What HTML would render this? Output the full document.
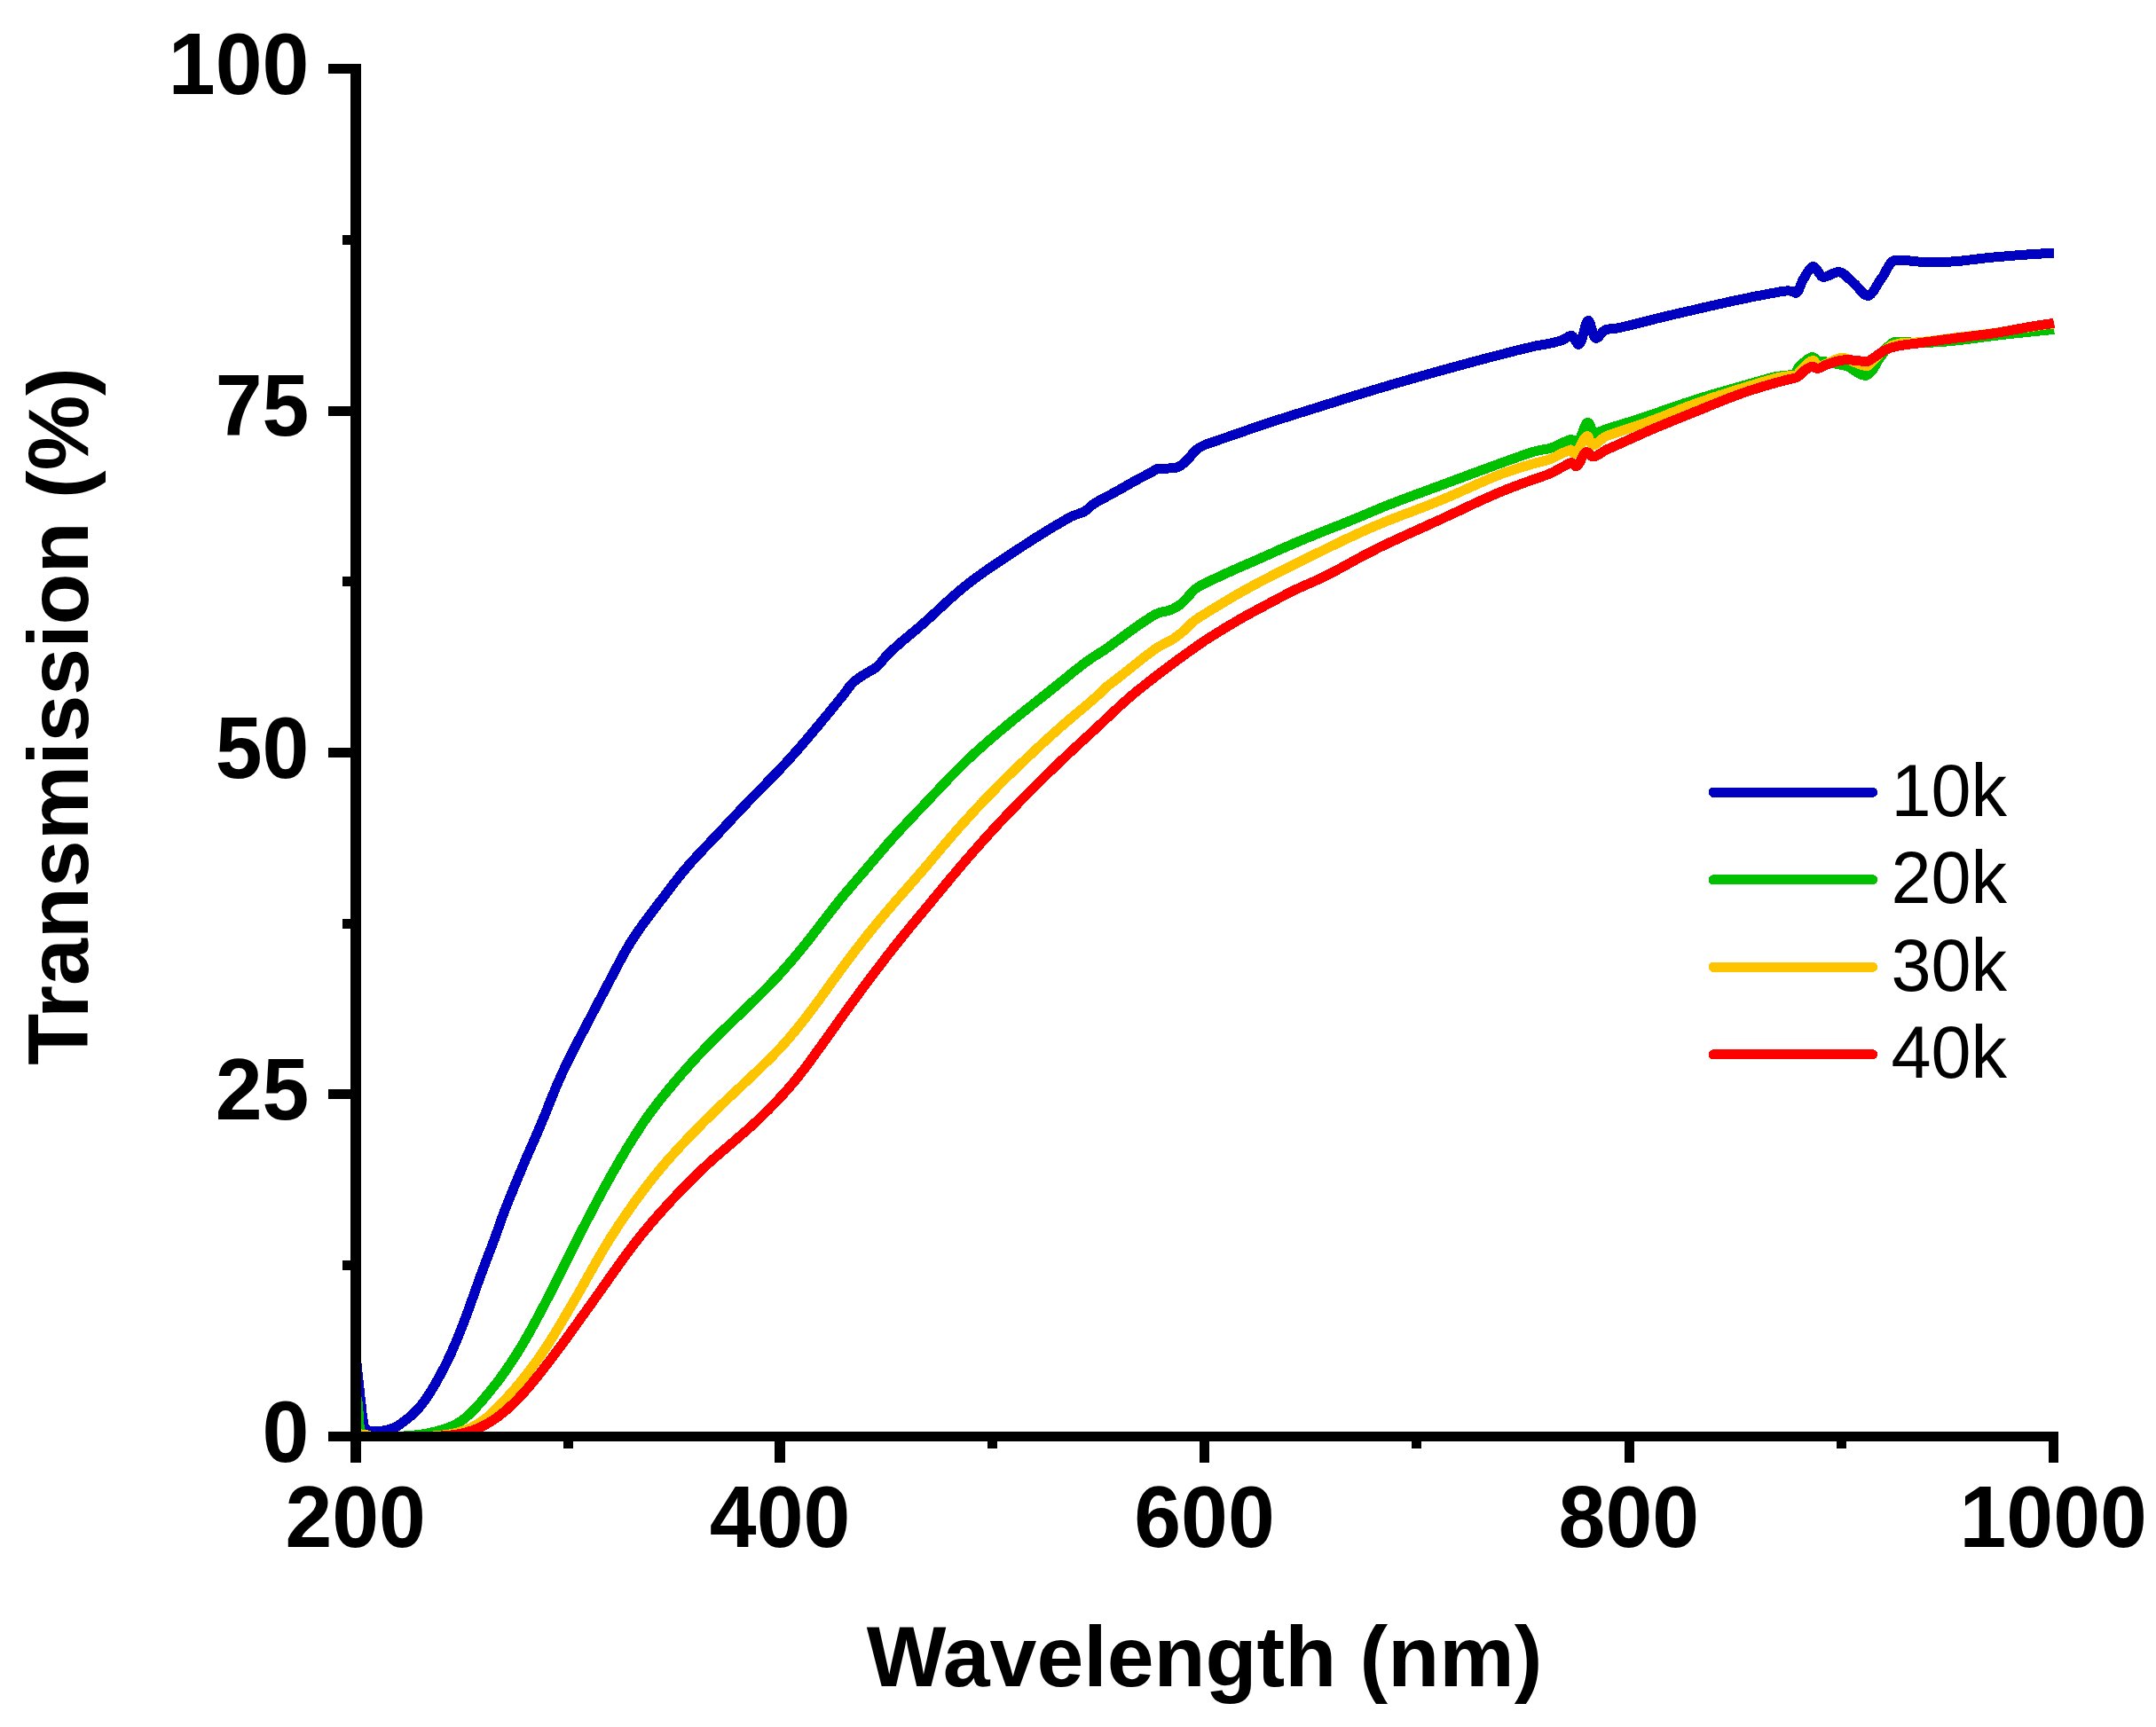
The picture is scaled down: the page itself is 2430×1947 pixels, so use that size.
<!DOCTYPE html>
<html lang="en"><head><meta charset="utf-8"><title>Transmission vs Wavelength</title>
<style>html,body{margin:0;padding:0;background:#fff}svg{display:block}</style></head>
<body>
<svg width="2430" height="1947" viewBox="0 0 2430 1947">
<rect width="2430" height="1947" fill="#fff"/>
<g fill="none" stroke-width="11" stroke-linejoin="round" stroke-linecap="butt" shape-rendering="crispEdges">
<path stroke="#0000c0" d="M400.3 1518.0 L400.5 1520.0 L400.6 1522.0 L400.8 1524.0 L401.0 1526.0 L401.2 1528.0 L401.3 1530.0 L401.5 1531.9 L401.7 1533.9 L401.9 1535.9 L402.1 1537.9 L402.3 1539.9 L402.5 1541.9 L402.7 1543.9 L402.9 1545.9 L403.1 1547.9 L403.3 1549.9 L403.5 1551.8 L403.7 1553.8 L404.0 1555.8 L404.2 1557.8 L404.4 1559.8 L404.6 1561.8 L404.8 1563.8 L405.0 1565.8 L405.3 1567.8 L405.5 1569.7 L405.7 1571.7 L405.9 1573.7 L406.1 1575.7 L406.4 1577.7 L406.6 1579.7 L406.8 1581.7 L407.0 1583.7 L407.2 1585.7 L407.4 1587.6 L407.6 1589.6 L407.9 1591.6 L408.1 1593.6 L408.3 1595.6 L408.6 1597.6 L408.9 1599.6 L409.2 1601.5 L409.5 1603.6 L409.9 1605.8 L410.4 1607.8 L411.0 1609.6 L411.9 1611.0 L413.5 1612.2 L415.6 1613.1 L417.5 1613.3 L419.5 1613.3 L421.5 1613.3 L423.5 1613.3 L425.5 1613.3 L427.6 1613.3 L429.6 1613.3 L431.5 1613.1 L433.5 1612.7 L435.5 1612.3 L437.4 1611.8 L439.4 1611.3 L441.3 1610.7 L443.2 1610.0 L445.0 1609.2 L446.8 1608.4 L448.5 1607.3 L450.2 1606.2 L451.8 1605.1 L453.4 1603.9 L455.0 1602.7 L456.6 1601.5 L458.1 1600.3 L459.7 1599.1 L461.2 1597.9 L462.7 1596.6 L464.2 1595.3 L465.7 1593.9 L467.1 1592.6 L468.5 1591.2 L469.8 1589.7 L471.2 1588.3 L472.5 1586.8 L473.8 1585.2 L475.0 1583.7 L476.2 1582.1 L477.4 1580.5 L478.6 1578.9 L479.8 1577.3 L480.9 1575.7 L482.0 1574.0 L483.1 1572.3 L484.2 1570.7 L485.3 1569.0 L486.3 1567.3 L487.4 1565.6 L488.4 1563.9 L489.4 1562.1 L490.4 1560.4 L491.4 1558.7 L492.4 1556.9 L493.4 1555.2 L494.3 1553.4 L495.3 1551.7 L496.3 1549.9 L497.2 1548.2 L498.1 1546.4 L499.1 1544.6 L500.0 1542.8 L500.9 1541.1 L501.8 1539.3 L502.7 1537.5 L503.6 1535.7 L504.5 1533.9 L505.3 1532.1 L506.2 1530.3 L507.0 1528.5 L507.9 1526.7 L508.7 1524.9 L509.5 1523.0 L510.3 1521.2 L511.1 1519.4 L511.9 1517.6 L512.7 1515.7 L513.5 1513.9 L514.3 1512.0 L515.0 1510.2 L515.8 1508.3 L516.5 1506.5 L517.3 1504.6 L518.0 1502.8 L518.8 1500.9 L519.5 1499.1 L520.2 1497.2 L521.0 1495.3 L521.7 1493.5 L522.4 1491.6 L523.1 1489.7 L523.8 1487.8 L524.5 1486.0 L525.2 1484.1 L525.9 1482.2 L526.6 1480.3 L527.3 1478.5 L528.0 1476.6 L528.7 1474.7 L529.4 1472.8 L530.0 1470.9 L530.7 1469.0 L531.4 1467.2 L532.0 1465.3 L532.7 1463.4 L533.4 1461.5 L534.0 1459.6 L534.7 1457.7 L535.4 1455.8 L536.0 1454.0 L536.7 1452.1 L537.4 1450.2 L538.1 1448.3 L538.7 1446.4 L539.4 1444.5 L540.1 1442.7 L540.8 1440.8 L541.4 1438.9 L542.1 1437.0 L542.8 1435.1 L543.5 1433.3 L544.2 1431.4 L544.9 1429.5 L545.6 1427.7 L546.3 1425.8 L547.0 1423.9 L547.7 1422.0 L548.5 1420.2 L549.2 1418.3 L549.9 1416.4 L550.6 1414.6 L551.3 1412.7 L552.0 1410.8 L552.7 1409.0 L553.5 1407.1 L554.2 1405.2 L554.9 1403.4 L555.6 1401.5 L556.3 1399.6 L557.0 1397.7 L557.7 1395.9 L558.3 1394.0 L559.0 1392.1 L559.7 1390.2 L560.4 1388.3 L561.0 1386.5 L561.7 1384.6 L562.4 1382.7 L563.0 1380.8 L563.7 1378.9 L564.4 1377.0 L565.0 1375.2 L565.7 1373.3 L566.4 1371.4 L567.1 1369.5 L567.8 1367.6 L568.5 1365.8 L569.2 1363.9 L569.9 1362.0 L570.6 1360.2 L571.4 1358.3 L572.1 1356.5 L572.9 1354.6 L573.6 1352.7 L574.3 1350.9 L575.1 1349.0 L575.8 1347.2 L576.6 1345.3 L577.4 1343.5 L578.1 1341.6 L578.9 1339.8 L579.6 1337.9 L580.4 1336.1 L581.1 1334.2 L581.9 1332.4 L582.7 1330.5 L583.4 1328.7 L584.2 1326.8 L585.0 1325.0 L585.7 1323.1 L586.5 1321.3 L587.3 1319.4 L588.0 1317.6 L588.8 1315.7 L589.6 1313.9 L590.4 1312.1 L591.2 1310.2 L592.0 1308.4 L592.8 1306.5 L593.5 1304.7 L594.3 1302.9 L595.1 1301.0 L595.9 1299.2 L596.7 1297.4 L597.5 1295.5 L598.4 1293.7 L599.2 1291.9 L600.0 1290.1 L600.8 1288.2 L601.6 1286.4 L602.4 1284.6 L603.2 1282.7 L604.0 1280.9 L604.8 1279.1 L605.6 1277.2 L606.4 1275.4 L607.2 1273.6 L607.9 1271.7 L608.7 1269.9 L609.5 1268.0 L610.3 1266.2 L611.0 1264.3 L611.8 1262.5 L612.6 1260.6 L613.3 1258.8 L614.1 1256.9 L614.8 1255.1 L615.6 1253.2 L616.3 1251.4 L617.1 1249.5 L617.8 1247.7 L618.5 1245.8 L619.3 1243.9 L620.0 1242.1 L620.7 1240.2 L621.5 1238.4 L622.2 1236.5 L623.0 1234.6 L623.7 1232.8 L624.5 1230.9 L625.2 1229.1 L626.0 1227.2 L626.8 1225.4 L627.6 1223.6 L628.3 1221.7 L629.1 1219.9 L629.9 1218.1 L630.8 1216.2 L631.6 1214.4 L632.4 1212.6 L633.2 1210.8 L634.1 1209.0 L634.9 1207.2 L635.8 1205.3 L636.6 1203.5 L637.5 1201.7 L638.4 1199.9 L639.2 1198.1 L640.1 1196.3 L641.0 1194.6 L641.9 1192.8 L642.8 1191.0 L643.7 1189.2 L644.6 1187.4 L645.5 1185.6 L646.4 1183.8 L647.3 1182.0 L648.2 1180.2 L649.1 1178.5 L650.0 1176.7 L650.9 1174.9 L651.8 1173.1 L652.7 1171.3 L653.7 1169.6 L654.6 1167.8 L655.5 1166.0 L656.4 1164.2 L657.4 1162.5 L658.3 1160.7 L659.2 1158.9 L660.1 1157.2 L661.1 1155.4 L662.0 1153.6 L662.9 1151.8 L663.9 1150.1 L664.8 1148.3 L665.7 1146.5 L666.6 1144.8 L667.6 1143.0 L668.5 1141.2 L669.4 1139.4 L670.4 1137.7 L671.3 1135.9 L672.2 1134.1 L673.2 1132.4 L674.1 1130.6 L675.0 1128.8 L675.9 1127.0 L676.9 1125.3 L677.8 1123.5 L678.7 1121.7 L679.7 1120.0 L680.6 1118.2 L681.5 1116.4 L682.4 1114.6 L683.4 1112.9 L684.3 1111.1 L685.2 1109.3 L686.2 1107.6 L687.1 1105.8 L688.0 1104.0 L688.9 1102.2 L689.9 1100.5 L690.8 1098.7 L691.7 1096.9 L692.7 1095.2 L693.6 1093.4 L694.5 1091.6 L695.5 1089.8 L696.4 1088.1 L697.3 1086.3 L698.3 1084.5 L699.2 1082.8 L700.2 1081.0 L701.1 1079.2 L702.1 1077.5 L703.0 1075.7 L704.0 1074.0 L705.0 1072.2 L706.0 1070.5 L707.0 1068.8 L708.0 1067.1 L709.0 1065.4 L710.0 1063.7 L711.1 1062.0 L712.1 1060.3 L713.2 1058.6 L714.3 1056.9 L715.4 1055.3 L716.5 1053.6 L717.6 1051.9 L718.8 1050.3 L719.9 1048.7 L721.1 1047.0 L722.2 1045.4 L723.4 1043.8 L724.6 1042.2 L725.8 1040.6 L727.0 1039.0 L728.1 1037.4 L729.4 1035.8 L730.6 1034.2 L731.8 1032.6 L733.0 1031.0 L734.2 1029.4 L735.4 1027.8 L736.6 1026.2 L737.8 1024.6 L739.0 1023.0 L740.2 1021.4 L741.4 1019.8 L742.6 1018.2 L743.8 1016.6 L745.0 1015.0 L746.3 1013.4 L747.5 1011.8 L748.7 1010.2 L749.9 1008.6 L751.1 1007.0 L752.3 1005.4 L753.5 1003.8 L754.7 1002.2 L755.9 1000.6 L757.1 999.0 L758.3 997.4 L759.5 995.8 L760.8 994.2 L762.0 992.7 L763.2 991.1 L764.5 989.5 L765.7 988.0 L767.0 986.4 L768.2 984.9 L769.5 983.3 L770.8 981.8 L772.1 980.3 L773.4 978.8 L774.7 977.2 L776.0 975.7 L777.3 974.2 L778.6 972.7 L779.9 971.2 L781.3 969.8 L782.6 968.3 L784.0 966.8 L785.3 965.3 L786.7 963.9 L788.0 962.4 L789.4 960.9 L790.8 959.5 L792.2 958.0 L793.5 956.6 L794.9 955.1 L796.3 953.7 L797.7 952.2 L799.1 950.8 L800.4 949.3 L801.8 947.9 L803.2 946.4 L804.6 945.0 L806.0 943.5 L807.3 942.1 L808.7 940.6 L810.1 939.2 L811.5 937.7 L812.8 936.3 L814.2 934.8 L815.6 933.3 L816.9 931.9 L818.3 930.4 L819.7 929.0 L821.0 927.5 L822.4 926.1 L823.8 924.6 L825.1 923.1 L826.5 921.7 L827.9 920.2 L829.3 918.8 L830.6 917.3 L832.0 915.8 L833.4 914.4 L834.7 912.9 L836.1 911.5 L837.5 910.0 L838.9 908.6 L840.3 907.1 L841.6 905.7 L843.0 904.2 L844.4 902.8 L845.8 901.4 L847.2 899.9 L848.6 898.5 L850.0 897.1 L851.4 895.6 L852.8 894.2 L854.2 892.8 L855.6 891.3 L857.0 889.9 L858.4 888.5 L859.8 887.0 L861.2 885.6 L862.6 884.2 L864.0 882.8 L865.4 881.3 L866.8 879.9 L868.2 878.5 L869.6 877.1 L871.0 875.6 L872.4 874.2 L873.8 872.8 L875.1 871.3 L876.5 869.9 L877.9 868.4 L879.3 867.0 L880.7 865.5 L882.0 864.1 L883.4 862.6 L884.8 861.2 L886.1 859.7 L887.5 858.2 L888.8 856.7 L890.2 855.3 L891.5 853.8 L892.8 852.3 L894.2 850.8 L895.5 849.3 L896.8 847.8 L898.1 846.3 L899.5 844.8 L900.8 843.3 L902.1 841.8 L903.4 840.3 L904.7 838.7 L906.0 837.2 L907.3 835.7 L908.6 834.2 L909.9 832.7 L911.2 831.1 L912.5 829.6 L913.8 828.1 L915.1 826.6 L916.4 825.0 L917.6 823.5 L918.9 822.0 L920.2 820.4 L921.5 818.9 L922.8 817.4 L924.1 815.8 L925.3 814.3 L926.6 812.8 L927.9 811.2 L929.2 809.7 L930.4 808.1 L931.7 806.6 L933.0 805.0 L934.2 803.5 L935.5 801.9 L936.8 800.4 L938.0 798.8 L939.3 797.3 L940.6 795.7 L941.8 794.2 L943.1 792.6 L944.4 791.1 L945.6 789.5 L946.9 788.0 L948.1 786.4 L949.4 784.9 L950.6 783.3 L951.8 781.7 L953.1 780.1 L954.3 778.5 L955.4 776.9 L956.6 775.2 L957.8 773.6 L959.1 772.1 L960.4 770.6 L961.8 769.3 L963.3 768.0 L964.9 766.7 L966.5 765.5 L968.2 764.3 L969.8 763.2 L971.4 762.1 L973.1 761.0 L974.9 760.0 L976.6 758.9 L978.3 757.9 L980.0 756.9 L981.8 755.9 L983.5 754.9 L985.3 753.9 L986.9 752.8 L988.5 751.6 L989.9 750.3 L991.3 748.8 L992.6 747.3 L993.8 745.7 L995.1 744.1 L996.4 742.5 L997.7 741.0 L999.1 739.6 L1000.4 738.1 L1001.8 736.7 L1003.2 735.3 L1004.7 733.9 L1006.1 732.5 L1007.6 731.2 L1009.1 729.8 L1010.6 728.5 L1012.1 727.2 L1013.6 725.9 L1015.1 724.5 L1016.6 723.2 L1018.1 721.9 L1019.6 720.6 L1021.2 719.4 L1022.7 718.1 L1024.2 716.8 L1025.8 715.5 L1027.3 714.2 L1028.8 713.0 L1030.4 711.7 L1031.9 710.4 L1033.4 709.1 L1035.0 707.8 L1036.5 706.5 L1038.0 705.2 L1039.5 703.9 L1041.0 702.6 L1042.5 701.2 L1044.0 699.9 L1045.5 698.6 L1047.0 697.2 L1048.5 695.9 L1049.9 694.6 L1051.4 693.2 L1052.9 691.8 L1054.4 690.5 L1055.8 689.1 L1057.3 687.8 L1058.8 686.4 L1060.2 685.0 L1061.7 683.7 L1063.2 682.3 L1064.7 681.0 L1066.1 679.6 L1067.6 678.2 L1069.1 676.9 L1070.6 675.6 L1072.0 674.2 L1073.5 672.9 L1075.0 671.6 L1076.5 670.2 L1078.0 668.9 L1079.5 667.6 L1081.1 666.3 L1082.6 665.0 L1084.1 663.8 L1085.6 662.5 L1087.2 661.2 L1088.7 660.0 L1090.3 658.8 L1091.9 657.5 L1093.4 656.3 L1095.0 655.1 L1096.6 653.9 L1098.2 652.7 L1099.8 651.5 L1101.4 650.3 L1103.0 649.1 L1104.7 648.0 L1106.3 646.8 L1107.9 645.7 L1109.5 644.5 L1111.2 643.4 L1112.8 642.2 L1114.5 641.1 L1116.1 639.9 L1117.8 638.8 L1119.4 637.7 L1121.1 636.6 L1122.8 635.4 L1124.4 634.3 L1126.1 633.2 L1127.8 632.1 L1129.4 631.0 L1131.1 629.9 L1132.8 628.8 L1134.4 627.7 L1136.1 626.6 L1137.8 625.5 L1139.4 624.4 L1141.1 623.3 L1142.8 622.2 L1144.5 621.1 L1146.1 620.0 L1147.8 618.9 L1149.5 617.8 L1151.2 616.7 L1152.8 615.6 L1154.5 614.5 L1156.2 613.4 L1157.9 612.3 L1159.6 611.2 L1161.2 610.1 L1162.9 609.1 L1164.6 608.0 L1166.3 606.9 L1168.0 605.8 L1169.7 604.8 L1171.4 603.7 L1173.1 602.6 L1174.8 601.6 L1176.5 600.5 L1178.2 599.5 L1179.9 598.4 L1181.6 597.4 L1183.3 596.4 L1185.0 595.3 L1186.7 594.3 L1188.4 593.3 L1190.2 592.3 L1191.9 591.3 L1193.6 590.3 L1195.4 589.3 L1197.1 588.3 L1198.8 587.3 L1200.5 586.2 L1202.3 585.2 L1204.0 584.2 L1205.7 583.2 L1207.5 582.3 L1209.3 581.5 L1211.2 580.8 L1213.1 580.1 L1215.0 579.5 L1217.0 578.8 L1218.9 578.1 L1220.7 577.4 L1222.4 576.5 L1224.1 575.5 L1225.6 574.2 L1227.1 572.9 L1228.6 571.5 L1230.1 570.1 L1231.6 568.8 L1233.3 567.7 L1235.0 566.7 L1236.7 565.7 L1238.4 564.7 L1240.2 563.7 L1242.0 562.8 L1243.7 561.8 L1245.5 560.9 L1247.3 559.9 L1249.0 559.0 L1250.8 558.1 L1252.6 557.1 L1254.3 556.2 L1256.1 555.2 L1257.8 554.2 L1259.6 553.3 L1261.3 552.3 L1263.1 551.3 L1264.8 550.3 L1266.5 549.4 L1268.3 548.4 L1270.0 547.4 L1271.8 546.4 L1273.5 545.4 L1275.2 544.4 L1277.0 543.4 L1278.7 542.5 L1280.5 541.5 L1282.2 540.5 L1284.0 539.6 L1285.7 538.7 L1287.5 537.7 L1289.3 536.8 L1291.0 535.9 L1292.8 535.0 L1294.6 534.1 L1296.3 533.2 L1298.1 532.2 L1299.9 531.1 L1301.6 529.9 L1303.4 528.9 L1305.2 528.3 L1307.1 528.1 L1309.1 528.0 L1311.1 528.0 L1313.1 528.0 L1315.1 528.0 L1317.1 528.0 L1319.2 527.9 L1321.2 527.8 L1323.2 527.6 L1325.2 527.2 L1327.1 526.7 L1328.8 526.0 L1330.5 525.1 L1332.2 523.9 L1333.8 522.6 L1335.3 521.2 L1336.8 519.7 L1338.3 518.3 L1339.7 516.9 L1341.0 515.4 L1342.2 513.8 L1343.5 512.2 L1344.8 510.6 L1346.1 509.1 L1347.5 507.8 L1349.0 506.6 L1350.7 505.4 L1352.4 504.3 L1354.2 503.4 L1356.0 502.5 L1357.8 501.6 L1359.6 500.9 L1361.5 500.2 L1363.4 499.6 L1365.3 498.9 L1367.2 498.3 L1369.1 497.6 L1371.0 497.0 L1372.8 496.3 L1374.7 495.6 L1376.6 495.0 L1378.5 494.3 L1380.4 493.7 L1382.3 493.1 L1384.2 492.4 L1386.0 491.8 L1387.9 491.1 L1389.8 490.5 L1391.7 489.9 L1393.6 489.2 L1395.5 488.5 L1397.4 487.9 L1399.3 487.2 L1401.2 486.6 L1403.0 485.9 L1404.9 485.2 L1406.8 484.6 L1408.7 483.9 L1410.6 483.2 L1412.5 482.6 L1414.4 481.9 L1416.2 481.3 L1418.1 480.6 L1420.0 480.0 L1421.9 479.4 L1423.8 478.7 L1425.7 478.1 L1427.6 477.5 L1429.5 476.8 L1431.4 476.2 L1433.3 475.6 L1435.2 475.0 L1437.1 474.4 L1439.0 473.8 L1440.9 473.1 L1442.8 472.5 L1444.7 471.9 L1446.7 471.3 L1448.6 470.7 L1450.5 470.1 L1452.4 469.5 L1454.3 468.9 L1456.2 468.3 L1458.1 467.7 L1460.0 467.1 L1461.9 466.5 L1463.8 465.9 L1465.7 465.3 L1467.6 464.7 L1469.6 464.1 L1471.5 463.5 L1473.4 462.9 L1475.3 462.3 L1477.2 461.7 L1479.1 461.1 L1481.0 460.5 L1482.9 459.9 L1484.8 459.3 L1486.7 458.7 L1488.6 458.1 L1490.5 457.5 L1492.4 456.9 L1494.4 456.3 L1496.3 455.7 L1498.2 455.1 L1500.1 454.5 L1502.0 453.9 L1503.9 453.3 L1505.8 452.7 L1507.7 452.1 L1509.6 451.5 L1511.5 450.9 L1513.4 450.3 L1515.3 449.7 L1517.3 449.1 L1519.2 448.5 L1521.1 447.9 L1523.0 447.3 L1524.9 446.7 L1526.8 446.1 L1528.7 445.6 L1530.6 445.0 L1532.5 444.4 L1534.5 443.8 L1536.4 443.2 L1538.3 442.6 L1540.2 442.1 L1542.1 441.5 L1544.0 440.9 L1545.9 440.3 L1547.9 439.8 L1549.8 439.2 L1551.7 438.6 L1553.6 438.0 L1555.5 437.5 L1557.4 436.9 L1559.4 436.3 L1561.3 435.8 L1563.2 435.2 L1565.1 434.6 L1567.0 434.1 L1569.0 433.5 L1570.9 432.9 L1572.8 432.4 L1574.7 431.8 L1576.6 431.3 L1578.6 430.7 L1580.5 430.2 L1582.4 429.6 L1584.3 429.0 L1586.2 428.5 L1588.2 427.9 L1590.1 427.4 L1592.0 426.8 L1593.9 426.3 L1595.9 425.7 L1597.8 425.2 L1599.7 424.6 L1601.6 424.1 L1603.5 423.5 L1605.5 423.0 L1607.4 422.4 L1609.3 421.9 L1611.2 421.4 L1613.2 420.8 L1615.1 420.3 L1617.0 419.7 L1619.0 419.2 L1620.9 418.7 L1622.8 418.1 L1624.7 417.6 L1626.7 417.1 L1628.6 416.5 L1630.5 416.0 L1632.4 415.5 L1634.4 414.9 L1636.3 414.4 L1638.2 413.9 L1640.2 413.4 L1642.1 412.8 L1644.0 412.3 L1645.9 411.8 L1647.9 411.3 L1649.8 410.7 L1651.7 410.2 L1653.7 409.7 L1655.6 409.2 L1657.5 408.6 L1659.5 408.1 L1661.4 407.6 L1663.3 407.1 L1665.3 406.6 L1667.2 406.1 L1669.1 405.6 L1671.1 405.0 L1673.0 404.5 L1674.9 404.0 L1676.9 403.5 L1678.8 403.0 L1680.7 402.5 L1682.7 402.0 L1684.6 401.5 L1686.5 401.0 L1688.5 400.5 L1690.4 400.0 L1692.3 399.5 L1694.3 399.0 L1696.2 398.5 L1698.2 398.0 L1700.1 397.5 L1702.0 397.0 L1704.0 396.5 L1705.9 396.0 L1707.9 395.5 L1709.8 395.0 L1711.7 394.6 L1713.7 394.1 L1715.6 393.6 L1717.6 393.1 L1719.5 392.7 L1721.4 392.2 L1723.4 391.7 L1725.3 391.2 L1727.3 390.8 L1729.2 390.3 L1731.2 389.9 L1733.1 389.5 L1735.1 389.2 L1737.1 388.9 L1739.1 388.6 L1741.1 388.3 L1743.0 388.0 L1745.0 387.6 L1747.0 387.2 L1748.9 386.8 L1750.9 386.3 L1752.8 385.8 L1754.7 385.3 L1756.7 384.7 L1758.6 384.1 L1760.4 383.5 L1762.3 382.6 L1764.2 381.5 L1766.1 380.4 L1767.9 379.3 L1769.6 378.6 L1771.2 378.4 L1772.6 379.3 L1774.0 381.1 L1775.3 383.3 L1776.6 385.6 L1777.7 387.4 L1778.8 388.3 L1779.8 388.1 L1780.7 387.2 L1781.5 385.7 L1782.3 383.8 L1783.1 381.5 L1783.8 378.9 L1784.6 376.2 L1785.3 373.4 L1786.0 370.7 L1786.7 368.1 L1787.3 365.9 L1788.0 363.9 L1788.8 362.5 L1789.5 361.6 L1790.3 361.4 L1791.1 362.1 L1791.8 363.6 L1792.5 365.6 L1793.2 368.1 L1794.0 370.8 L1794.7 373.5 L1795.5 376.1 L1796.4 378.4 L1797.3 380.1 L1798.2 381.2 L1799.3 381.5 L1800.5 380.9 L1801.8 379.6 L1803.3 377.9 L1804.8 376.1 L1806.4 374.2 L1808.1 372.7 L1809.9 371.7 L1811.7 371.3 L1813.6 371.0 L1815.6 370.9 L1817.6 370.7 L1819.6 370.5 L1821.6 370.2 L1823.6 369.8 L1825.5 369.4 L1827.5 369.0 L1829.4 368.5 L1831.3 368.1 L1833.2 367.6 L1835.2 367.2 L1837.1 366.7 L1839.1 366.3 L1841.0 365.8 L1843.0 365.3 L1844.9 364.8 L1846.8 364.3 L1848.8 363.8 L1850.7 363.3 L1852.7 362.8 L1854.6 362.4 L1856.5 361.9 L1858.5 361.4 L1860.4 360.9 L1862.4 360.4 L1864.3 359.9 L1866.2 359.4 L1868.2 358.9 L1870.1 358.4 L1872.1 358.0 L1874.0 357.5 L1876.0 357.0 L1877.9 356.6 L1879.8 356.1 L1881.8 355.6 L1883.7 355.2 L1885.7 354.7 L1887.6 354.3 L1889.6 353.8 L1891.5 353.4 L1893.5 352.9 L1895.4 352.5 L1897.4 352.0 L1899.3 351.6 L1901.3 351.1 L1903.2 350.7 L1905.2 350.2 L1907.1 349.8 L1909.1 349.3 L1911.0 348.9 L1913.0 348.4 L1914.9 348.0 L1916.9 347.5 L1918.8 347.1 L1920.8 346.6 L1922.7 346.2 L1924.7 345.7 L1926.6 345.3 L1928.6 344.8 L1930.5 344.4 L1932.5 344.0 L1934.4 343.5 L1936.4 343.1 L1938.3 342.6 L1940.3 342.2 L1942.2 341.8 L1944.2 341.3 L1946.1 340.9 L1948.1 340.5 L1950.0 340.0 L1952.0 339.6 L1953.9 339.2 L1955.9 338.8 L1957.9 338.3 L1959.8 337.9 L1961.8 337.5 L1963.7 337.1 L1965.7 336.7 L1967.6 336.3 L1969.6 335.9 L1971.6 335.5 L1973.5 335.1 L1975.5 334.7 L1977.4 334.3 L1979.4 333.9 L1981.4 333.5 L1983.3 333.2 L1985.3 332.8 L1987.3 332.4 L1989.2 332.0 L1991.2 331.7 L1993.1 331.3 L1995.1 330.9 L1997.1 330.6 L1999.0 330.2 L2001.0 329.9 L2003.0 329.5 L2005.0 329.1 L2006.9 328.7 L2008.9 328.4 L2010.9 328.1 L2012.9 328.0 L2014.9 327.9 L2016.9 328.0 L2018.9 328.2 L2020.8 328.6 L2022.6 329.9 L2024.1 330.4 L2025.3 329.8 L2026.4 328.6 L2027.3 326.9 L2028.2 324.9 L2029.1 322.7 L2029.9 320.3 L2030.8 318.1 L2031.8 316.0 L2032.8 314.2 L2034.0 312.4 L2035.2 310.4 L2036.4 308.3 L2037.6 306.3 L2038.9 304.4 L2040.2 302.8 L2041.5 301.5 L2042.8 300.8 L2044.2 300.6 L2045.5 301.4 L2046.8 302.8 L2048.1 304.7 L2049.5 306.8 L2050.9 308.9 L2052.3 310.7 L2053.8 312.0 L2055.4 312.4 L2057.0 312.2 L2058.9 311.6 L2060.8 310.8 L2062.7 309.9 L2064.7 308.9 L2066.7 308.0 L2068.7 307.3 L2070.6 306.8 L2072.4 306.7 L2074.1 307.0 L2075.8 307.6 L2077.5 308.6 L2079.1 309.8 L2080.7 311.1 L2082.3 312.6 L2083.9 314.2 L2085.5 315.7 L2087.1 317.2 L2088.6 318.6 L2090.2 319.9 L2091.7 321.4 L2093.2 323.1 L2094.8 324.9 L2096.3 326.7 L2097.8 328.4 L2099.3 330.0 L2100.7 331.3 L2102.2 332.4 L2103.6 333.1 L2104.9 333.4 L2106.3 333.2 L2107.6 332.5 L2108.9 331.4 L2110.1 330.0 L2111.4 328.4 L2112.6 326.5 L2113.8 324.5 L2115.1 322.5 L2116.3 320.4 L2117.5 318.4 L2118.7 316.5 L2119.9 314.7 L2121.2 313.1 L2122.3 311.3 L2123.5 309.3 L2124.6 307.2 L2125.7 305.1 L2126.9 303.0 L2128.0 301.0 L2129.2 299.2 L2130.4 297.4 L2131.6 296.0 L2132.9 294.8 L2134.3 293.9 L2135.8 293.5 L2137.4 293.4 L2139.2 293.4 L2141.2 293.5 L2143.3 293.5 L2145.4 293.6 L2147.5 293.7 L2149.5 293.8 L2151.5 293.9 L2153.5 294.2 L2155.5 294.4 L2157.5 294.7 L2159.5 294.9 L2161.5 295.0 L2163.5 295.1 L2165.5 295.2 L2167.5 295.3 L2169.5 295.3 L2171.5 295.4 L2173.5 295.4 L2175.5 295.4 L2177.5 295.5 L2179.4 295.5 L2181.4 295.5 L2183.4 295.5 L2185.4 295.5 L2187.4 295.5 L2189.4 295.4 L2191.4 295.4 L2193.4 295.3 L2195.4 295.2 L2197.4 295.1 L2199.4 295.0 L2201.4 294.9 L2203.4 294.7 L2205.4 294.6 L2207.4 294.4 L2209.4 294.2 L2211.4 294.0 L2213.3 293.8 L2215.3 293.6 L2217.3 293.4 L2219.3 293.1 L2221.3 292.9 L2223.3 292.7 L2225.3 292.4 L2227.2 292.2 L2229.2 291.9 L2231.2 291.7 L2233.2 291.5 L2235.2 291.2 L2237.2 291.0 L2239.2 290.8 L2241.1 290.6 L2243.1 290.4 L2245.1 290.2 L2247.1 290.0 L2249.1 289.8 L2251.1 289.6 L2253.1 289.5 L2255.1 289.3 L2257.1 289.1 L2259.1 289.0 L2261.1 288.8 L2263.1 288.6 L2265.0 288.5 L2267.0 288.3 L2269.0 288.1 L2271.0 288.0 L2273.0 287.8 L2275.0 287.7 L2277.0 287.5 L2279.0 287.4 L2281.0 287.2 L2282.9 287.1 L2284.9 287.0 L2286.9 286.8 L2288.8 286.7 L2290.8 286.6 L2292.7 286.5 L2294.7 286.4 L2296.7 286.2 L2298.7 286.1 L2300.7 286.0 L2302.7 285.9 L2304.8 285.9 L2306.9 285.8 L2308.9 285.7 L2310.9 285.7 L2312.9 285.6 L2315.0 285.6 L2315.0 285.6"/>
<path stroke="#0000c0" stroke-width="6" shape-rendering="auto" d="M400.3 1518.0 L400.5 1520.0 L400.6 1522.0 L400.8 1524.0 L401.0 1526.0 L401.2 1528.0 L401.3 1530.0 L401.5 1531.9 L401.7 1533.9 L401.9 1535.9 L402.1 1537.9 L402.3 1539.9 L402.5 1541.9 L402.7 1543.9 L402.9 1545.9 L403.1 1547.9 L403.3 1549.9 L403.5 1551.8 L403.7 1553.8 L404.0 1555.8 L404.2 1557.8 L404.4 1559.8 L404.6 1561.8 L404.8 1563.8 L405.0 1565.8 L405.3 1567.8 L405.5 1569.7 L405.7 1571.7 L405.9 1573.7 L406.1 1575.7 L406.4 1577.7 L406.6 1579.7 L406.8 1581.7 L407.0 1583.7 L407.2 1585.7 L407.4 1587.6 L407.6 1589.6 L407.9 1591.6 L408.1 1593.6 L408.3 1595.6 L408.6 1597.6 L408.9 1599.6 L409.2 1601.5 L409.5 1603.6 L409.9 1605.8 L410.4 1607.8 L411.0 1609.6 L411.9 1611.0 L413.5 1612.2 L415.6 1613.1 L417.5 1613.3 L419.5 1613.3 L421.5 1613.3 L423.5 1613.3 L425.5 1613.3 L427.6 1613.3 L429.6 1613.3 L431.5 1613.1 L433.5 1612.7 L435.5 1612.3 L437.4 1611.8 L439.4 1611.3 L441.3 1610.7 L443.2 1610.0 L445.0 1609.2 L446.8 1608.4 L448.5 1607.3 L450.2 1606.2 L451.8 1605.1 L453.4 1603.9 L455.0 1602.7 L456.6 1601.5 L458.1 1600.3 L459.7 1599.1 L461.2 1597.9 L462.7 1596.6 L464.2 1595.3 L465.7 1593.9 L467.1 1592.6 L468.5 1591.2 L469.8 1589.7 L471.2 1588.3 L472.5 1586.8 L473.8 1585.2 L475.0 1583.7 L476.2 1582.1 L477.4 1580.5 L478.6 1578.9 L479.8 1577.3 L480.9 1575.7 L482.0 1574.0 L483.1 1572.3 L484.2 1570.7 L485.3 1569.0 L486.3 1567.3 L487.4 1565.6 L488.4 1563.9 L489.4 1562.1 L490.4 1560.4 L491.4 1558.7 L492.4 1556.9 L493.4 1555.2 L494.3 1553.4 L495.3 1551.7 L496.3 1549.9 L497.2 1548.2 L498.1 1546.4 L499.1 1544.6 L500.0 1542.8 L500.9 1541.1 L501.8 1539.3 L502.7 1537.5 L503.6 1535.7 L504.5 1533.9 L505.3 1532.1 L506.2 1530.3 L507.0 1528.5 L507.9 1526.7 L508.7 1524.9 L509.5 1523.0 L510.3 1521.2 L511.1 1519.4 L511.9 1517.6 L512.7 1515.7 L513.5 1513.9 L514.3 1512.0 L515.0 1510.2 L515.8 1508.3 L516.5 1506.5 L517.3 1504.6 L518.0 1502.8 L518.8 1500.9 L519.5 1499.1 L520.2 1497.2 L521.0 1495.3 L521.7 1493.5 L522.4 1491.6 L523.1 1489.7 L523.8 1487.8 L524.5 1486.0 L525.2 1484.1 L525.9 1482.2 L526.6 1480.3 L527.3 1478.5 L528.0 1476.6 L528.7 1474.7 L529.4 1472.8 L530.0 1470.9 L530.7 1469.0 L531.4 1467.2 L532.0 1465.3 L532.7 1463.4 L533.4 1461.5 L534.0 1459.6 L534.7 1457.7 L535.4 1455.8 L536.0 1454.0 L536.7 1452.1 L537.4 1450.2 L538.1 1448.3 L538.7 1446.4 L539.4 1444.5 L540.1 1442.7 L540.8 1440.8 L541.4 1438.9 L542.1 1437.0 L542.8 1435.1 L543.5 1433.3 L544.2 1431.4 L544.9 1429.5 L545.6 1427.7 L546.3 1425.8 L547.0 1423.9 L547.7 1422.0 L548.5 1420.2 L549.2 1418.3 L549.9 1416.4 L550.6 1414.6 L551.3 1412.7 L552.0 1410.8 L552.7 1409.0 L553.5 1407.1 L554.2 1405.2 L554.9 1403.4 L555.6 1401.5 L556.3 1399.6 L557.0 1397.7 L557.7 1395.9 L558.3 1394.0 L559.0 1392.1 L559.7 1390.2 L560.4 1388.3 L561.0 1386.5 L561.7 1384.6 L562.4 1382.7 L563.0 1380.8 L563.7 1378.9 L564.4 1377.0 L565.0 1375.2 L565.7 1373.3 L566.4 1371.4 L567.1 1369.5 L567.8 1367.6 L568.5 1365.8 L569.2 1363.9 L569.9 1362.0 L570.6 1360.2 L571.4 1358.3 L572.1 1356.5 L572.9 1354.6 L573.6 1352.7 L574.3 1350.9 L575.1 1349.0 L575.8 1347.2 L576.6 1345.3 L577.4 1343.5 L578.1 1341.6 L578.9 1339.8 L579.6 1337.9 L580.4 1336.1 L581.1 1334.2 L581.9 1332.4 L582.7 1330.5 L583.4 1328.7 L584.2 1326.8 L585.0 1325.0 L585.7 1323.1 L586.5 1321.3 L587.3 1319.4 L588.0 1317.6 L588.8 1315.7 L589.6 1313.9 L590.4 1312.1 L591.2 1310.2 L592.0 1308.4 L592.8 1306.5 L593.5 1304.7 L594.3 1302.9 L595.1 1301.0 L595.9 1299.2 L596.7 1297.4 L597.5 1295.5 L598.4 1293.7 L599.2 1291.9 L600.0 1290.1 L600.8 1288.2 L601.6 1286.4 L602.4 1284.6 L603.2 1282.7 L604.0 1280.9 L604.8 1279.1 L605.6 1277.2 L606.4 1275.4 L607.2 1273.6 L607.9 1271.7 L608.7 1269.9 L609.5 1268.0 L610.3 1266.2 L611.0 1264.3 L611.8 1262.5 L612.6 1260.6 L613.3 1258.8 L614.1 1256.9 L614.8 1255.1 L615.6 1253.2 L616.3 1251.4 L617.1 1249.5 L617.8 1247.7 L618.5 1245.8 L619.3 1243.9 L620.0 1242.1 L620.7 1240.2 L621.5 1238.4 L622.2 1236.5 L623.0 1234.6 L623.7 1232.8 L624.5 1230.9 L625.2 1229.1 L626.0 1227.2 L626.8 1225.4 L627.6 1223.6 L628.3 1221.7 L629.1 1219.9 L629.9 1218.1 L630.8 1216.2 L631.6 1214.4 L632.4 1212.6 L633.2 1210.8 L634.1 1209.0 L634.9 1207.2 L635.8 1205.3 L636.6 1203.5 L637.5 1201.7 L638.4 1199.9 L639.2 1198.1 L640.1 1196.3 L641.0 1194.6 L641.9 1192.8 L642.8 1191.0 L643.7 1189.2 L644.6 1187.4 L645.5 1185.6 L646.4 1183.8 L647.3 1182.0 L648.2 1180.2 L649.1 1178.5 L650.0 1176.7 L650.9 1174.9 L651.8 1173.1 L652.7 1171.3 L653.7 1169.6 L654.6 1167.8 L655.5 1166.0 L656.4 1164.2 L657.4 1162.5 L658.3 1160.7 L659.2 1158.9 L660.1 1157.2 L661.1 1155.4 L662.0 1153.6 L662.9 1151.8 L663.9 1150.1 L664.8 1148.3 L665.7 1146.5 L666.6 1144.8 L667.6 1143.0 L668.5 1141.2 L669.4 1139.4 L670.4 1137.7 L671.3 1135.9 L672.2 1134.1 L673.2 1132.4 L674.1 1130.6 L675.0 1128.8 L675.9 1127.0 L676.9 1125.3 L677.8 1123.5 L678.7 1121.7 L679.7 1120.0 L680.6 1118.2 L681.5 1116.4 L682.4 1114.6 L683.4 1112.9 L684.3 1111.1 L685.2 1109.3 L686.2 1107.6 L687.1 1105.8 L688.0 1104.0 L688.9 1102.2 L689.9 1100.5 L690.8 1098.7 L691.7 1096.9 L692.7 1095.2 L693.6 1093.4 L694.5 1091.6 L695.5 1089.8 L696.4 1088.1 L697.3 1086.3 L698.3 1084.5 L699.2 1082.8 L700.2 1081.0 L701.1 1079.2 L702.1 1077.5 L703.0 1075.7 L704.0 1074.0 L705.0 1072.2 L706.0 1070.5 L707.0 1068.8 L708.0 1067.1 L709.0 1065.4 L710.0 1063.7 L711.1 1062.0 L712.1 1060.3 L713.2 1058.6 L714.3 1056.9 L715.4 1055.3 L716.5 1053.6 L717.6 1051.9 L718.8 1050.3 L719.9 1048.7 L721.1 1047.0 L722.2 1045.4 L723.4 1043.8 L724.6 1042.2 L725.8 1040.6 L727.0 1039.0 L728.1 1037.4 L729.4 1035.8 L730.6 1034.2 L731.8 1032.6 L733.0 1031.0 L734.2 1029.4 L735.4 1027.8 L736.6 1026.2 L737.8 1024.6 L739.0 1023.0 L740.2 1021.4 L741.4 1019.8 L742.6 1018.2 L743.8 1016.6 L745.0 1015.0 L746.3 1013.4 L747.5 1011.8 L748.7 1010.2 L749.9 1008.6 L751.1 1007.0 L752.3 1005.4 L753.5 1003.8 L754.7 1002.2 L755.9 1000.6 L757.1 999.0 L758.3 997.4 L759.5 995.8 L760.8 994.2 L762.0 992.7 L763.2 991.1 L764.5 989.5 L765.7 988.0 L767.0 986.4 L768.2 984.9 L769.5 983.3 L770.8 981.8 L772.1 980.3 L773.4 978.8 L774.7 977.2 L776.0 975.7 L777.3 974.2 L778.6 972.7 L779.9 971.2 L781.3 969.8 L782.6 968.3 L784.0 966.8 L785.3 965.3 L786.7 963.9 L788.0 962.4 L789.4 960.9 L790.8 959.5 L792.2 958.0 L793.5 956.6 L794.9 955.1 L796.3 953.7 L797.7 952.2 L799.1 950.8 L800.4 949.3 L801.8 947.9 L803.2 946.4 L804.6 945.0 L806.0 943.5 L807.3 942.1 L808.7 940.6 L810.1 939.2 L811.5 937.7 L812.8 936.3 L814.2 934.8 L815.6 933.3 L816.9 931.9 L818.3 930.4 L819.7 929.0 L821.0 927.5 L822.4 926.1 L823.8 924.6 L825.1 923.1 L826.5 921.7 L827.9 920.2 L829.3 918.8 L830.6 917.3 L832.0 915.8 L833.4 914.4 L834.7 912.9 L836.1 911.5 L837.5 910.0 L838.9 908.6 L840.3 907.1 L841.6 905.7 L843.0 904.2 L844.4 902.8 L845.8 901.4 L847.2 899.9 L848.6 898.5 L850.0 897.1 L851.4 895.6 L852.8 894.2 L854.2 892.8 L855.6 891.3 L857.0 889.9 L858.4 888.5 L859.8 887.0 L861.2 885.6 L862.6 884.2 L864.0 882.8 L865.4 881.3 L866.8 879.9 L868.2 878.5 L869.6 877.1 L871.0 875.6 L872.4 874.2 L873.8 872.8 L875.1 871.3 L876.5 869.9 L877.9 868.4 L879.3 867.0 L880.7 865.5 L882.0 864.1 L883.4 862.6 L884.8 861.2 L886.1 859.7 L887.5 858.2 L888.8 856.7 L890.2 855.3 L891.5 853.8 L892.8 852.3 L894.2 850.8 L895.5 849.3 L896.8 847.8 L898.1 846.3 L899.5 844.8 L900.8 843.3 L902.1 841.8 L903.4 840.3 L904.7 838.7 L906.0 837.2 L907.3 835.7 L908.6 834.2 L909.9 832.7 L911.2 831.1 L912.5 829.6 L913.8 828.1 L915.1 826.6 L916.4 825.0 L917.6 823.5 L918.9 822.0 L920.2 820.4 L921.5 818.9 L922.8 817.4 L924.1 815.8 L925.3 814.3 L926.6 812.8 L927.9 811.2 L929.2 809.7 L930.4 808.1 L931.7 806.6 L933.0 805.0 L934.2 803.5 L935.5 801.9 L936.8 800.4 L938.0 798.8 L939.3 797.3 L940.6 795.7 L941.8 794.2 L943.1 792.6 L944.4 791.1 L945.6 789.5 L946.9 788.0 L948.1 786.4 L949.4 784.9 L950.6 783.3 L951.8 781.7 L953.1 780.1 L954.3 778.5 L955.4 776.9 L956.6 775.2 L957.8 773.6 L959.1 772.1 L960.4 770.6 L961.8 769.3 L963.3 768.0 L964.9 766.7 L966.5 765.5 L968.2 764.3 L969.8 763.2 L971.4 762.1 L973.1 761.0 L974.9 760.0 L976.6 758.9 L978.3 757.9 L980.0 756.9 L981.8 755.9 L983.5 754.9 L985.3 753.9 L986.9 752.8 L988.5 751.6 L989.9 750.3 L991.3 748.8 L992.6 747.3 L993.8 745.7 L995.1 744.1 L996.4 742.5 L997.7 741.0 L999.1 739.6 L1000.4 738.1 L1001.8 736.7 L1003.2 735.3 L1004.7 733.9 L1006.1 732.5 L1007.6 731.2 L1009.1 729.8 L1010.6 728.5 L1012.1 727.2 L1013.6 725.9 L1015.1 724.5 L1016.6 723.2 L1018.1 721.9 L1019.6 720.6 L1021.2 719.4 L1022.7 718.1 L1024.2 716.8 L1025.8 715.5 L1027.3 714.2 L1028.8 713.0 L1030.4 711.7 L1031.9 710.4 L1033.4 709.1 L1035.0 707.8 L1036.5 706.5 L1038.0 705.2 L1039.5 703.9 L1041.0 702.6 L1042.5 701.2 L1044.0 699.9 L1045.5 698.6 L1047.0 697.2 L1048.5 695.9 L1049.9 694.6 L1051.4 693.2 L1052.9 691.8 L1054.4 690.5 L1055.8 689.1 L1057.3 687.8 L1058.8 686.4 L1060.2 685.0 L1061.7 683.7 L1063.2 682.3 L1064.7 681.0 L1066.1 679.6 L1067.6 678.2 L1069.1 676.9 L1070.6 675.6 L1072.0 674.2 L1073.5 672.9 L1075.0 671.6 L1076.5 670.2 L1078.0 668.9 L1079.5 667.6 L1081.1 666.3 L1082.6 665.0 L1084.1 663.8 L1085.6 662.5 L1087.2 661.2 L1088.7 660.0 L1090.3 658.8 L1091.9 657.5 L1093.4 656.3 L1095.0 655.1 L1096.6 653.9 L1098.2 652.7 L1099.8 651.5 L1101.4 650.3 L1103.0 649.1 L1104.7 648.0 L1106.3 646.8 L1107.9 645.7 L1109.5 644.5 L1111.2 643.4 L1112.8 642.2 L1114.5 641.1 L1116.1 639.9 L1117.8 638.8 L1119.4 637.7 L1121.1 636.6 L1122.8 635.4 L1124.4 634.3 L1126.1 633.2 L1127.8 632.1 L1129.4 631.0 L1131.1 629.9 L1132.8 628.8 L1134.4 627.7 L1136.1 626.6 L1137.8 625.5 L1139.4 624.4 L1141.1 623.3 L1142.8 622.2 L1144.5 621.1 L1146.1 620.0 L1147.8 618.9 L1149.5 617.8 L1151.2 616.7 L1152.8 615.6 L1154.5 614.5 L1156.2 613.4 L1157.9 612.3 L1159.6 611.2 L1161.2 610.1 L1162.9 609.1 L1164.6 608.0 L1166.3 606.9 L1168.0 605.8 L1169.7 604.8 L1171.4 603.7 L1173.1 602.6 L1174.8 601.6 L1176.5 600.5 L1178.2 599.5 L1179.9 598.4 L1181.6 597.4 L1183.3 596.4 L1185.0 595.3 L1186.7 594.3 L1188.4 593.3 L1190.2 592.3 L1191.9 591.3 L1193.6 590.3 L1195.4 589.3 L1197.1 588.3 L1198.8 587.3 L1200.5 586.2 L1202.3 585.2 L1204.0 584.2 L1205.7 583.2 L1207.5 582.3 L1209.3 581.5 L1211.2 580.8 L1213.1 580.1 L1215.0 579.5 L1217.0 578.8 L1218.9 578.1 L1220.7 577.4 L1222.4 576.5 L1224.1 575.5 L1225.6 574.2 L1227.1 572.9 L1228.6 571.5 L1230.1 570.1 L1231.6 568.8 L1233.3 567.7 L1235.0 566.7 L1236.7 565.7 L1238.4 564.7 L1240.2 563.7 L1242.0 562.8 L1243.7 561.8 L1245.5 560.9 L1247.3 559.9 L1249.0 559.0 L1250.8 558.1 L1252.6 557.1 L1254.3 556.2 L1256.1 555.2 L1257.8 554.2 L1259.6 553.3 L1261.3 552.3 L1263.1 551.3 L1264.8 550.3 L1266.5 549.4 L1268.3 548.4 L1270.0 547.4 L1271.8 546.4 L1273.5 545.4 L1275.2 544.4 L1277.0 543.4 L1278.7 542.5 L1280.5 541.5 L1282.2 540.5 L1284.0 539.6 L1285.7 538.7 L1287.5 537.7 L1289.3 536.8 L1291.0 535.9 L1292.8 535.0 L1294.6 534.1 L1296.3 533.2 L1298.1 532.2 L1299.9 531.1 L1301.6 529.9 L1303.4 528.9 L1305.2 528.3 L1307.1 528.1 L1309.1 528.0 L1311.1 528.0 L1313.1 528.0 L1315.1 528.0 L1317.1 528.0 L1319.2 527.9 L1321.2 527.8 L1323.2 527.6 L1325.2 527.2 L1327.1 526.7 L1328.8 526.0 L1330.5 525.1 L1332.2 523.9 L1333.8 522.6 L1335.3 521.2 L1336.8 519.7 L1338.3 518.3 L1339.7 516.9 L1341.0 515.4 L1342.2 513.8 L1343.5 512.2 L1344.8 510.6 L1346.1 509.1 L1347.5 507.8 L1349.0 506.6 L1350.7 505.4 L1352.4 504.3 L1354.2 503.4 L1356.0 502.5 L1357.8 501.6 L1359.6 500.9 L1361.5 500.2 L1363.4 499.6 L1365.3 498.9 L1367.2 498.3 L1369.1 497.6 L1371.0 497.0 L1372.8 496.3 L1374.7 495.6 L1376.6 495.0 L1378.5 494.3 L1380.4 493.7 L1382.3 493.1 L1384.2 492.4 L1386.0 491.8 L1387.9 491.1 L1389.8 490.5 L1391.7 489.9 L1393.6 489.2 L1395.5 488.5 L1397.4 487.9 L1399.3 487.2 L1401.2 486.6 L1403.0 485.9 L1404.9 485.2 L1406.8 484.6 L1408.7 483.9 L1410.6 483.2 L1412.5 482.6 L1414.4 481.9 L1416.2 481.3 L1418.1 480.6 L1420.0 480.0 L1421.9 479.4 L1423.8 478.7 L1425.7 478.1 L1427.6 477.5 L1429.5 476.8 L1431.4 476.2 L1433.3 475.6 L1435.2 475.0 L1437.1 474.4 L1439.0 473.8 L1440.9 473.1 L1442.8 472.5 L1444.7 471.9 L1446.7 471.3 L1448.6 470.7 L1450.5 470.1 L1452.4 469.5 L1454.3 468.9 L1456.2 468.3 L1458.1 467.7 L1460.0 467.1 L1461.9 466.5 L1463.8 465.9 L1465.7 465.3 L1467.6 464.7 L1469.6 464.1 L1471.5 463.5 L1473.4 462.9 L1475.3 462.3 L1477.2 461.7 L1479.1 461.1 L1481.0 460.5 L1482.9 459.9 L1484.8 459.3 L1486.7 458.7 L1488.6 458.1 L1490.5 457.5 L1492.4 456.9 L1494.4 456.3 L1496.3 455.7 L1498.2 455.1 L1500.1 454.5 L1502.0 453.9 L1503.9 453.3 L1505.8 452.7 L1507.7 452.1 L1509.6 451.5 L1511.5 450.9 L1513.4 450.3 L1515.3 449.7 L1517.3 449.1 L1519.2 448.5 L1521.1 447.9 L1523.0 447.3 L1524.9 446.7 L1526.8 446.1 L1528.7 445.6 L1530.6 445.0 L1532.5 444.4 L1534.5 443.8 L1536.4 443.2 L1538.3 442.6 L1540.2 442.1 L1542.1 441.5 L1544.0 440.9 L1545.9 440.3 L1547.9 439.8 L1549.8 439.2 L1551.7 438.6 L1553.6 438.0 L1555.5 437.5 L1557.4 436.9 L1559.4 436.3 L1561.3 435.8 L1563.2 435.2 L1565.1 434.6 L1567.0 434.1 L1569.0 433.5 L1570.9 432.9 L1572.8 432.4 L1574.7 431.8 L1576.6 431.3 L1578.6 430.7 L1580.5 430.2 L1582.4 429.6 L1584.3 429.0 L1586.2 428.5 L1588.2 427.9 L1590.1 427.4 L1592.0 426.8 L1593.9 426.3 L1595.9 425.7 L1597.8 425.2 L1599.7 424.6 L1601.6 424.1 L1603.5 423.5 L1605.5 423.0 L1607.4 422.4 L1609.3 421.9 L1611.2 421.4 L1613.2 420.8 L1615.1 420.3 L1617.0 419.7 L1619.0 419.2 L1620.9 418.7 L1622.8 418.1 L1624.7 417.6 L1626.7 417.1 L1628.6 416.5 L1630.5 416.0 L1632.4 415.5 L1634.4 414.9 L1636.3 414.4 L1638.2 413.9 L1640.2 413.4 L1642.1 412.8 L1644.0 412.3 L1645.9 411.8 L1647.9 411.3 L1649.8 410.7 L1651.7 410.2 L1653.7 409.7 L1655.6 409.2 L1657.5 408.6 L1659.5 408.1 L1661.4 407.6 L1663.3 407.1 L1665.3 406.6 L1667.2 406.1 L1669.1 405.6 L1671.1 405.0 L1673.0 404.5 L1674.9 404.0 L1676.9 403.5 L1678.8 403.0 L1680.7 402.5 L1682.7 402.0 L1684.6 401.5 L1686.5 401.0 L1688.5 400.5 L1690.4 400.0 L1692.3 399.5 L1694.3 399.0 L1696.2 398.5 L1698.2 398.0 L1700.1 397.5 L1702.0 397.0 L1704.0 396.5 L1705.9 396.0 L1707.9 395.5 L1709.8 395.0 L1711.7 394.6 L1713.7 394.1 L1715.6 393.6 L1717.6 393.1 L1719.5 392.7 L1721.4 392.2 L1723.4 391.7 L1725.3 391.2 L1727.3 390.8 L1729.2 390.3 L1731.2 389.9 L1733.1 389.5 L1735.1 389.2 L1737.1 388.9 L1739.1 388.6 L1741.1 388.3 L1743.0 388.0 L1745.0 387.6 L1747.0 387.2 L1748.9 386.8 L1750.9 386.3 L1752.8 385.8 L1754.7 385.3 L1756.7 384.7 L1758.6 384.1 L1760.4 383.5 L1762.3 382.6 L1764.2 381.5 L1766.1 380.4 L1767.9 379.3 L1769.6 378.6 L1771.2 378.4 L1772.6 379.3 L1774.0 381.1 L1775.3 383.3 L1776.6 385.6 L1777.7 387.4 L1778.8 388.3 L1779.8 388.1 L1780.7 387.2 L1781.5 385.7 L1782.3 383.8 L1783.1 381.5 L1783.8 378.9 L1784.6 376.2 L1785.3 373.4 L1786.0 370.7 L1786.7 368.1 L1787.3 365.9 L1788.0 363.9 L1788.8 362.5 L1789.5 361.6 L1790.3 361.4 L1791.1 362.1 L1791.8 363.6 L1792.5 365.6 L1793.2 368.1 L1794.0 370.8 L1794.7 373.5 L1795.5 376.1 L1796.4 378.4 L1797.3 380.1 L1798.2 381.2 L1799.3 381.5 L1800.5 380.9 L1801.8 379.6 L1803.3 377.9 L1804.8 376.1 L1806.4 374.2 L1808.1 372.7 L1809.9 371.7 L1811.7 371.3 L1813.6 371.0 L1815.6 370.9 L1817.6 370.7 L1819.6 370.5 L1821.6 370.2 L1823.6 369.8 L1825.5 369.4 L1827.5 369.0 L1829.4 368.5 L1831.3 368.1 L1833.2 367.6 L1835.2 367.2 L1837.1 366.7 L1839.1 366.3 L1841.0 365.8 L1843.0 365.3 L1844.9 364.8 L1846.8 364.3 L1848.8 363.8 L1850.7 363.3 L1852.7 362.8 L1854.6 362.4 L1856.5 361.9 L1858.5 361.4 L1860.4 360.9 L1862.4 360.4 L1864.3 359.9 L1866.2 359.4 L1868.2 358.9 L1870.1 358.4 L1872.1 358.0 L1874.0 357.5 L1876.0 357.0 L1877.9 356.6 L1879.8 356.1 L1881.8 355.6 L1883.7 355.2 L1885.7 354.7 L1887.6 354.3 L1889.6 353.8 L1891.5 353.4 L1893.5 352.9 L1895.4 352.5 L1897.4 352.0 L1899.3 351.6 L1901.3 351.1 L1903.2 350.7 L1905.2 350.2 L1907.1 349.8 L1909.1 349.3 L1911.0 348.9 L1913.0 348.4 L1914.9 348.0 L1916.9 347.5 L1918.8 347.1 L1920.8 346.6 L1922.7 346.2 L1924.7 345.7 L1926.6 345.3 L1928.6 344.8 L1930.5 344.4 L1932.5 344.0 L1934.4 343.5 L1936.4 343.1 L1938.3 342.6 L1940.3 342.2 L1942.2 341.8 L1944.2 341.3 L1946.1 340.9 L1948.1 340.5 L1950.0 340.0 L1952.0 339.6 L1953.9 339.2 L1955.9 338.8 L1957.9 338.3 L1959.8 337.9 L1961.8 337.5 L1963.7 337.1 L1965.7 336.7 L1967.6 336.3 L1969.6 335.9 L1971.6 335.5 L1973.5 335.1 L1975.5 334.7 L1977.4 334.3 L1979.4 333.9 L1981.4 333.5 L1983.3 333.2 L1985.3 332.8 L1987.3 332.4 L1989.2 332.0 L1991.2 331.7 L1993.1 331.3 L1995.1 330.9 L1997.1 330.6 L1999.0 330.2 L2001.0 329.9 L2003.0 329.5 L2005.0 329.1 L2006.9 328.7 L2008.9 328.4 L2010.9 328.1 L2012.9 328.0 L2014.9 327.9 L2016.9 328.0 L2018.9 328.2 L2020.8 328.6 L2022.6 329.9 L2024.1 330.4 L2025.3 329.8 L2026.4 328.6 L2027.3 326.9 L2028.2 324.9 L2029.1 322.7 L2029.9 320.3 L2030.8 318.1 L2031.8 316.0 L2032.8 314.2 L2034.0 312.4 L2035.2 310.4 L2036.4 308.3 L2037.6 306.3 L2038.9 304.4 L2040.2 302.8 L2041.5 301.5 L2042.8 300.8 L2044.2 300.6 L2045.5 301.4 L2046.8 302.8 L2048.1 304.7 L2049.5 306.8 L2050.9 308.9 L2052.3 310.7 L2053.8 312.0 L2055.4 312.4 L2057.0 312.2 L2058.9 311.6 L2060.8 310.8 L2062.7 309.9 L2064.7 308.9 L2066.7 308.0 L2068.7 307.3 L2070.6 306.8 L2072.4 306.7 L2074.1 307.0 L2075.8 307.6 L2077.5 308.6 L2079.1 309.8 L2080.7 311.1 L2082.3 312.6 L2083.9 314.2 L2085.5 315.7 L2087.1 317.2 L2088.6 318.6 L2090.2 319.9 L2091.7 321.4 L2093.2 323.1 L2094.8 324.9 L2096.3 326.7 L2097.8 328.4 L2099.3 330.0 L2100.7 331.3 L2102.2 332.4 L2103.6 333.1 L2104.9 333.4 L2106.3 333.2 L2107.6 332.5 L2108.9 331.4 L2110.1 330.0 L2111.4 328.4 L2112.6 326.5 L2113.8 324.5 L2115.1 322.5 L2116.3 320.4 L2117.5 318.4 L2118.7 316.5 L2119.9 314.7 L2121.2 313.1 L2122.3 311.3 L2123.5 309.3 L2124.6 307.2 L2125.7 305.1 L2126.9 303.0 L2128.0 301.0 L2129.2 299.2 L2130.4 297.4 L2131.6 296.0 L2132.9 294.8 L2134.3 293.9 L2135.8 293.5 L2137.4 293.4 L2139.2 293.4 L2141.2 293.5 L2143.3 293.5 L2145.4 293.6 L2147.5 293.7 L2149.5 293.8 L2151.5 293.9 L2153.5 294.2 L2155.5 294.4 L2157.5 294.7 L2159.5 294.9 L2161.5 295.0 L2163.5 295.1 L2165.5 295.2 L2167.5 295.3 L2169.5 295.3 L2171.5 295.4 L2173.5 295.4 L2175.5 295.4 L2177.5 295.5 L2179.4 295.5 L2181.4 295.5 L2183.4 295.5 L2185.4 295.5 L2187.4 295.5 L2189.4 295.4 L2191.4 295.4 L2193.4 295.3 L2195.4 295.2 L2197.4 295.1 L2199.4 295.0 L2201.4 294.9 L2203.4 294.7 L2205.4 294.6 L2207.4 294.4 L2209.4 294.2 L2211.4 294.0 L2213.3 293.8 L2215.3 293.6 L2217.3 293.4 L2219.3 293.1 L2221.3 292.9 L2223.3 292.7 L2225.3 292.4 L2227.2 292.2 L2229.2 291.9 L2231.2 291.7 L2233.2 291.5 L2235.2 291.2 L2237.2 291.0 L2239.2 290.8 L2241.1 290.6 L2243.1 290.4 L2245.1 290.2 L2247.1 290.0 L2249.1 289.8 L2251.1 289.6 L2253.1 289.5 L2255.1 289.3 L2257.1 289.1 L2259.1 289.0 L2261.1 288.8 L2263.1 288.6 L2265.0 288.5 L2267.0 288.3 L2269.0 288.1 L2271.0 288.0 L2273.0 287.8 L2275.0 287.7 L2277.0 287.5 L2279.0 287.4 L2281.0 287.2 L2282.9 287.1 L2284.9 287.0 L2286.9 286.8 L2288.8 286.7 L2290.8 286.6 L2292.7 286.5 L2294.7 286.4 L2296.7 286.2 L2298.7 286.1 L2300.7 286.0 L2302.7 285.9 L2304.8 285.9 L2306.9 285.8 L2308.9 285.7 L2310.9 285.7 L2312.9 285.6 L2315.0 285.6 L2315.0 285.6"/>
<path stroke="#00c000" d="M401.0 1571.0 L401.5 1573.0 L401.9 1574.9 L402.4 1576.9 L402.7 1578.8 L403.1 1580.8 L403.4 1582.8 L403.6 1584.8 L403.7 1586.7 L403.9 1588.7 L404.0 1590.7 L404.1 1592.7 L404.2 1594.7 L404.3 1596.7 L404.4 1598.7 L404.6 1600.7 L404.7 1602.8 L404.9 1604.8 L405.1 1606.8 L405.3 1608.7 L405.6 1610.7 L406.3 1612.8 L407.2 1614.8 L408.3 1616.4 L409.6 1617.3 L411.2 1618.0 L413.1 1618.6 L415.3 1619.0 L417.5 1619.4 L419.6 1619.5 L421.6 1619.5 L423.5 1619.5 L425.5 1619.5 L427.5 1619.5 L429.5 1619.5 L431.5 1619.5 L433.5 1619.5 L435.5 1619.4 L437.5 1619.4 L439.5 1619.4 L441.5 1619.4 L443.5 1619.3 L445.6 1619.3 L447.6 1619.3 L449.6 1619.2 L451.6 1619.1 L453.6 1619.1 L455.6 1619.0 L457.6 1618.8 L459.5 1618.7 L461.5 1618.6 L463.5 1618.4 L465.5 1618.2 L467.5 1618.0 L469.5 1617.8 L471.5 1617.5 L473.4 1617.3 L475.4 1617.0 L477.4 1616.6 L479.4 1616.3 L481.3 1616.0 L483.3 1615.6 L485.3 1615.2 L487.2 1614.7 L489.2 1614.3 L491.1 1613.8 L493.1 1613.3 L495.0 1612.8 L496.9 1612.3 L498.8 1611.7 L500.7 1611.1 L502.6 1610.4 L504.5 1609.8 L506.3 1609.1 L508.1 1608.3 L509.9 1607.5 L511.6 1606.7 L513.3 1605.8 L515.0 1604.9 L516.7 1603.9 L518.4 1602.9 L520.0 1601.8 L521.6 1600.7 L523.1 1599.5 L524.6 1598.3 L526.2 1597.0 L527.6 1595.7 L529.1 1594.4 L530.6 1593.0 L532.0 1591.6 L533.4 1590.2 L534.8 1588.7 L536.2 1587.3 L537.5 1585.8 L538.9 1584.3 L540.2 1582.8 L541.6 1581.3 L542.9 1579.7 L544.2 1578.2 L545.5 1576.7 L546.8 1575.1 L548.1 1573.6 L549.4 1572.0 L550.7 1570.5 L551.9 1568.9 L553.2 1567.4 L554.4 1565.8 L555.7 1564.2 L556.9 1562.7 L558.1 1561.1 L559.4 1559.5 L560.6 1557.9 L561.8 1556.3 L563.0 1554.7 L564.2 1553.1 L565.4 1551.4 L566.5 1549.8 L567.7 1548.2 L568.9 1546.6 L570.0 1544.9 L571.2 1543.3 L572.3 1541.6 L573.4 1540.0 L574.6 1538.3 L575.7 1536.7 L576.8 1535.0 L577.9 1533.3 L579.0 1531.7 L580.1 1530.0 L581.1 1528.3 L582.2 1526.6 L583.3 1524.9 L584.3 1523.2 L585.4 1521.5 L586.4 1519.8 L587.4 1518.1 L588.5 1516.4 L589.5 1514.7 L590.5 1513.0 L591.5 1511.3 L592.5 1509.5 L593.5 1507.8 L594.5 1506.0 L595.5 1504.3 L596.5 1502.6 L597.4 1500.8 L598.4 1499.1 L599.4 1497.3 L600.3 1495.6 L601.3 1493.8 L602.3 1492.0 L603.2 1490.3 L604.2 1488.5 L605.1 1486.7 L606.1 1485.0 L607.0 1483.2 L608.0 1481.4 L608.9 1479.7 L609.8 1477.9 L610.8 1476.1 L611.7 1474.4 L612.6 1472.6 L613.6 1470.8 L614.5 1469.1 L615.4 1467.3 L616.3 1465.5 L617.3 1463.7 L618.2 1462.0 L619.1 1460.2 L620.0 1458.4 L620.9 1456.6 L621.8 1454.8 L622.8 1453.1 L623.7 1451.3 L624.6 1449.5 L625.5 1447.7 L626.4 1445.9 L627.3 1444.1 L628.1 1442.3 L629.0 1440.6 L629.9 1438.8 L630.8 1437.0 L631.7 1435.2 L632.6 1433.4 L633.5 1431.6 L634.4 1429.8 L635.3 1428.0 L636.1 1426.2 L637.0 1424.4 L637.9 1422.6 L638.8 1420.8 L639.7 1419.0 L640.6 1417.2 L641.5 1415.5 L642.4 1413.7 L643.3 1411.9 L644.1 1410.1 L645.0 1408.3 L645.9 1406.5 L646.8 1404.7 L647.7 1402.9 L648.6 1401.1 L649.5 1399.4 L650.4 1397.6 L651.3 1395.8 L652.3 1394.0 L653.2 1392.2 L654.1 1390.4 L655.0 1388.7 L655.9 1386.9 L656.8 1385.1 L657.7 1383.3 L658.7 1381.6 L659.6 1379.8 L660.5 1378.0 L661.4 1376.2 L662.3 1374.5 L663.3 1372.7 L664.2 1370.9 L665.1 1369.1 L666.0 1367.4 L667.0 1365.6 L667.9 1363.8 L668.8 1362.0 L669.8 1360.3 L670.7 1358.5 L671.6 1356.7 L672.6 1355.0 L673.5 1353.2 L674.4 1351.4 L675.4 1349.7 L676.3 1347.9 L677.3 1346.1 L678.2 1344.4 L679.2 1342.6 L680.1 1340.9 L681.1 1339.1 L682.1 1337.4 L683.0 1335.6 L684.0 1333.9 L685.0 1332.1 L685.9 1330.4 L686.9 1328.6 L687.9 1326.9 L688.9 1325.1 L689.8 1323.4 L690.8 1321.6 L691.8 1319.9 L692.8 1318.2 L693.8 1316.4 L694.8 1314.7 L695.8 1313.0 L696.8 1311.2 L697.8 1309.5 L698.8 1307.8 L699.8 1306.1 L700.8 1304.3 L701.9 1302.6 L702.9 1300.9 L703.9 1299.2 L704.9 1297.4 L706.0 1295.7 L707.0 1294.0 L708.0 1292.3 L709.1 1290.6 L710.1 1288.9 L711.2 1287.2 L712.2 1285.5 L713.3 1283.8 L714.4 1282.1 L715.4 1280.4 L716.5 1278.7 L717.6 1277.0 L718.7 1275.3 L719.8 1273.7 L720.9 1272.0 L722.0 1270.3 L723.1 1268.7 L724.2 1267.0 L725.3 1265.4 L726.4 1263.7 L727.6 1262.1 L728.7 1260.5 L729.9 1258.8 L731.0 1257.2 L732.2 1255.6 L733.4 1254.0 L734.6 1252.4 L735.8 1250.8 L737.0 1249.2 L738.2 1247.6 L739.4 1246.0 L740.6 1244.4 L741.8 1242.8 L743.1 1241.2 L744.3 1239.7 L745.5 1238.1 L746.8 1236.5 L748.1 1235.0 L749.3 1233.4 L750.6 1231.9 L751.8 1230.3 L753.1 1228.8 L754.4 1227.2 L755.7 1225.7 L757.0 1224.2 L758.2 1222.6 L759.5 1221.1 L760.8 1219.6 L762.1 1218.0 L763.4 1216.5 L764.7 1215.0 L766.0 1213.5 L767.3 1212.0 L768.6 1210.5 L770.0 1209.0 L771.3 1207.5 L772.6 1206.0 L773.9 1204.5 L775.3 1203.0 L776.6 1201.5 L777.9 1200.0 L779.3 1198.5 L780.6 1197.0 L782.0 1195.5 L783.3 1194.1 L784.7 1192.6 L786.0 1191.1 L787.4 1189.7 L788.8 1188.2 L790.1 1186.8 L791.5 1185.3 L792.9 1183.9 L794.3 1182.4 L795.7 1181.0 L797.1 1179.5 L798.4 1178.1 L799.8 1176.7 L801.3 1175.3 L802.7 1173.8 L804.1 1172.4 L805.5 1171.0 L806.9 1169.6 L808.3 1168.2 L809.8 1166.8 L811.2 1165.4 L812.6 1164.0 L814.1 1162.6 L815.5 1161.2 L816.9 1159.8 L818.4 1158.4 L819.8 1157.1 L821.2 1155.7 L822.7 1154.3 L824.1 1152.9 L825.6 1151.5 L827.0 1150.1 L828.5 1148.7 L829.9 1147.3 L831.3 1145.9 L832.8 1144.6 L834.2 1143.2 L835.6 1141.8 L837.1 1140.4 L838.5 1139.0 L840.0 1137.6 L841.4 1136.2 L842.8 1134.8 L844.3 1133.4 L845.7 1132.0 L847.1 1130.6 L848.6 1129.2 L850.0 1127.8 L851.4 1126.4 L852.8 1125.0 L854.3 1123.6 L855.7 1122.2 L857.1 1120.8 L858.5 1119.4 L860.0 1118.0 L861.4 1116.6 L862.8 1115.1 L864.2 1113.7 L865.6 1112.3 L867.0 1110.9 L868.4 1109.4 L869.8 1108.0 L871.1 1106.5 L872.5 1105.1 L873.9 1103.6 L875.3 1102.2 L876.6 1100.7 L878.0 1099.3 L879.3 1097.8 L880.7 1096.3 L882.0 1094.8 L883.3 1093.3 L884.7 1091.8 L886.0 1090.3 L887.3 1088.8 L888.6 1087.3 L889.9 1085.8 L891.2 1084.3 L892.5 1082.8 L893.8 1081.3 L895.1 1079.7 L896.4 1078.2 L897.7 1076.7 L899.0 1075.1 L900.2 1073.6 L901.5 1072.0 L902.8 1070.5 L904.0 1068.9 L905.3 1067.4 L906.6 1065.8 L907.8 1064.3 L909.1 1062.7 L910.3 1061.2 L911.6 1059.6 L912.8 1058.0 L914.0 1056.4 L915.3 1054.9 L916.5 1053.3 L917.7 1051.7 L919.0 1050.1 L920.2 1048.6 L921.4 1047.0 L922.6 1045.4 L923.8 1043.8 L925.0 1042.2 L926.3 1040.6 L927.5 1039.0 L928.7 1037.4 L929.9 1035.8 L931.1 1034.3 L932.4 1032.7 L933.6 1031.1 L934.8 1029.5 L936.0 1027.9 L937.3 1026.4 L938.5 1024.8 L939.7 1023.2 L941.0 1021.6 L942.2 1020.1 L943.4 1018.5 L944.7 1016.9 L945.9 1015.4 L947.2 1013.8 L948.5 1012.3 L949.7 1010.7 L951.0 1009.2 L952.3 1007.7 L953.6 1006.1 L954.9 1004.6 L956.2 1003.1 L957.5 1001.6 L958.8 1000.1 L960.1 998.5 L961.4 997.0 L962.7 995.5 L964.0 994.0 L965.3 992.5 L966.6 991.0 L967.9 989.4 L969.2 987.9 L970.5 986.4 L971.8 984.9 L973.1 983.4 L974.4 981.9 L975.7 980.3 L977.0 978.8 L978.3 977.3 L979.6 975.8 L980.9 974.2 L982.2 972.7 L983.5 971.2 L984.8 969.7 L986.1 968.1 L987.4 966.6 L988.7 965.1 L990.0 963.5 L991.3 962.0 L992.6 960.5 L993.9 959.0 L995.2 957.5 L996.5 955.9 L997.8 954.4 L999.1 952.9 L1000.4 951.4 L1001.7 949.9 L1003.0 948.4 L1004.4 946.9 L1005.7 945.4 L1007.0 943.9 L1008.4 942.5 L1009.7 941.0 L1011.1 939.5 L1012.4 938.0 L1013.8 936.6 L1015.1 935.1 L1016.5 933.6 L1017.8 932.2 L1019.2 930.7 L1020.6 929.2 L1021.9 927.8 L1023.3 926.3 L1024.7 924.9 L1026.1 923.4 L1027.4 922.0 L1028.8 920.5 L1030.2 919.1 L1031.6 917.6 L1033.0 916.2 L1034.3 914.7 L1035.7 913.3 L1037.1 911.8 L1038.5 910.4 L1039.9 908.9 L1041.3 907.5 L1042.6 906.0 L1044.0 904.6 L1045.4 903.1 L1046.8 901.7 L1048.2 900.2 L1049.5 898.8 L1050.9 897.3 L1052.3 895.9 L1053.7 894.4 L1055.0 893.0 L1056.4 891.5 L1057.8 890.1 L1059.1 888.6 L1060.5 887.1 L1061.9 885.7 L1063.3 884.2 L1064.6 882.8 L1066.0 881.3 L1067.4 879.9 L1068.8 878.4 L1070.1 877.0 L1071.5 875.5 L1072.9 874.1 L1074.3 872.7 L1075.7 871.2 L1077.1 869.8 L1078.5 868.4 L1079.9 867.0 L1081.3 865.6 L1082.8 864.2 L1084.2 862.8 L1085.6 861.4 L1087.0 860.0 L1088.5 858.6 L1089.9 857.2 L1091.4 855.8 L1092.8 854.5 L1094.3 853.1 L1095.8 851.7 L1097.2 850.4 L1098.7 849.0 L1100.2 847.7 L1101.7 846.3 L1103.1 845.0 L1104.6 843.7 L1106.1 842.3 L1107.6 841.0 L1109.1 839.7 L1110.6 838.4 L1112.1 837.0 L1113.6 835.7 L1115.2 834.4 L1116.7 833.1 L1118.2 831.8 L1119.7 830.5 L1121.2 829.2 L1122.7 827.9 L1124.3 826.6 L1125.8 825.3 L1127.3 824.0 L1128.9 822.7 L1130.4 821.5 L1131.9 820.2 L1133.5 818.9 L1135.0 817.6 L1136.5 816.3 L1138.1 815.1 L1139.6 813.8 L1141.2 812.5 L1142.7 811.3 L1144.3 810.0 L1145.8 808.7 L1147.4 807.5 L1148.9 806.2 L1150.5 805.0 L1152.1 803.7 L1153.6 802.5 L1155.2 801.2 L1156.7 800.0 L1158.3 798.7 L1159.9 797.5 L1161.4 796.3 L1163.0 795.0 L1164.6 793.8 L1166.2 792.5 L1167.7 791.3 L1169.3 790.0 L1170.9 788.8 L1172.4 787.6 L1174.0 786.3 L1175.6 785.1 L1177.1 783.8 L1178.7 782.6 L1180.3 781.3 L1181.8 780.1 L1183.4 778.8 L1184.9 777.6 L1186.5 776.3 L1188.1 775.1 L1189.6 773.8 L1191.2 772.6 L1192.7 771.3 L1194.3 770.0 L1195.9 768.8 L1197.4 767.5 L1199.0 766.3 L1200.5 765.0 L1202.1 763.7 L1203.6 762.5 L1205.2 761.2 L1206.7 759.9 L1208.3 758.7 L1209.8 757.4 L1211.4 756.2 L1213.0 754.9 L1214.6 753.7 L1216.1 752.5 L1217.7 751.3 L1219.3 750.0 L1220.9 748.8 L1222.5 747.6 L1224.1 746.4 L1225.7 745.3 L1227.3 744.1 L1228.9 742.9 L1230.6 741.8 L1232.2 740.7 L1233.9 739.6 L1235.6 738.5 L1237.3 737.4 L1239.0 736.4 L1240.7 735.3 L1242.4 734.2 L1244.1 733.2 L1245.7 732.1 L1247.4 730.9 L1249.0 729.8 L1250.6 728.6 L1252.2 727.4 L1253.9 726.3 L1255.5 725.1 L1257.1 723.9 L1258.7 722.7 L1260.3 721.6 L1262.0 720.4 L1263.6 719.2 L1265.2 718.0 L1266.8 716.8 L1268.4 715.7 L1270.0 714.5 L1271.6 713.3 L1273.2 712.1 L1274.9 710.9 L1276.5 709.7 L1278.1 708.6 L1279.7 707.4 L1281.4 706.3 L1283.0 705.1 L1284.6 704.0 L1286.3 702.9 L1288.0 701.8 L1289.6 700.7 L1291.3 699.6 L1293.0 698.5 L1294.6 697.4 L1296.3 696.2 L1297.9 695.1 L1299.6 694.1 L1301.3 693.1 L1303.2 692.3 L1305.0 691.5 L1306.9 690.8 L1308.8 690.2 L1310.7 689.7 L1312.7 689.3 L1314.7 688.9 L1316.6 688.4 L1318.5 687.9 L1320.4 687.2 L1322.2 686.4 L1324.0 685.4 L1325.8 684.5 L1327.5 683.4 L1329.1 682.3 L1330.7 681.1 L1332.2 679.8 L1333.7 678.4 L1335.2 677.0 L1336.6 675.6 L1338.0 674.2 L1339.3 672.6 L1340.5 671.0 L1341.8 669.5 L1343.1 667.9 L1344.4 666.4 L1345.9 665.1 L1347.4 663.9 L1349.0 662.8 L1350.7 661.7 L1352.4 660.7 L1354.2 659.7 L1356.0 658.7 L1357.8 657.8 L1359.6 656.9 L1361.4 656.0 L1363.2 655.2 L1365.0 654.4 L1366.8 653.5 L1368.6 652.7 L1370.4 651.8 L1372.3 651.0 L1374.1 650.1 L1375.9 649.3 L1377.7 648.4 L1379.5 647.6 L1381.3 646.7 L1383.1 645.9 L1385.0 645.1 L1386.8 644.3 L1388.6 643.4 L1390.4 642.6 L1392.3 641.8 L1394.1 641.0 L1395.9 640.2 L1397.7 639.4 L1399.6 638.6 L1401.4 637.8 L1403.2 637.0 L1405.1 636.2 L1406.9 635.4 L1408.7 634.6 L1410.6 633.8 L1412.4 633.0 L1414.2 632.2 L1416.1 631.4 L1417.9 630.6 L1419.7 629.8 L1421.6 629.0 L1423.4 628.2 L1425.2 627.4 L1427.0 626.6 L1428.9 625.7 L1430.7 624.9 L1432.5 624.1 L1434.3 623.3 L1436.2 622.4 L1438.0 621.6 L1439.8 620.8 L1441.6 620.0 L1443.5 619.2 L1445.3 618.4 L1447.1 617.6 L1449.0 616.8 L1450.8 616.0 L1452.6 615.2 L1454.5 614.4 L1456.3 613.6 L1458.1 612.8 L1460.0 612.0 L1461.8 611.3 L1463.7 610.5 L1465.5 609.7 L1467.4 608.9 L1469.2 608.2 L1471.1 607.4 L1472.9 606.6 L1474.8 605.9 L1476.6 605.1 L1478.5 604.4 L1480.3 603.6 L1482.2 602.9 L1484.0 602.1 L1485.9 601.4 L1487.7 600.6 L1489.6 599.9 L1491.4 599.1 L1493.3 598.4 L1495.2 597.7 L1497.0 596.9 L1498.9 596.2 L1500.7 595.5 L1502.6 594.7 L1504.5 594.0 L1506.3 593.3 L1508.2 592.5 L1510.1 591.8 L1511.9 591.1 L1513.8 590.3 L1515.6 589.6 L1517.5 588.8 L1519.3 588.1 L1521.2 587.3 L1523.0 586.6 L1524.9 585.8 L1526.7 585.1 L1528.6 584.3 L1530.4 583.5 L1532.3 582.8 L1534.1 582.0 L1536.0 581.2 L1537.8 580.4 L1539.7 579.7 L1541.5 578.9 L1543.3 578.1 L1545.2 577.3 L1547.0 576.5 L1548.9 575.8 L1550.7 575.0 L1552.5 574.2 L1554.4 573.5 L1556.2 572.7 L1558.1 571.9 L1559.9 571.2 L1561.8 570.4 L1563.6 569.7 L1565.5 569.0 L1567.4 568.2 L1569.2 567.5 L1571.1 566.8 L1573.0 566.1 L1574.8 565.3 L1576.7 564.6 L1578.6 563.9 L1580.4 563.2 L1582.3 562.5 L1584.2 561.8 L1586.1 561.1 L1587.9 560.4 L1589.8 559.7 L1591.7 559.0 L1593.6 558.3 L1595.4 557.6 L1597.3 557.0 L1599.2 556.3 L1601.1 555.6 L1603.0 554.9 L1604.8 554.2 L1606.7 553.5 L1608.6 552.8 L1610.5 552.1 L1612.3 551.4 L1614.2 550.7 L1616.1 550.1 L1618.0 549.4 L1619.9 548.7 L1621.7 548.0 L1623.6 547.3 L1625.5 546.6 L1627.4 545.9 L1629.2 545.2 L1631.1 544.5 L1633.0 543.8 L1634.9 543.1 L1636.7 542.4 L1638.6 541.7 L1640.5 541.0 L1642.4 540.3 L1644.2 539.6 L1646.1 538.9 L1648.0 538.2 L1649.9 537.5 L1651.7 536.8 L1653.6 536.1 L1655.5 535.4 L1657.3 534.7 L1659.2 534.0 L1661.1 533.3 L1663.0 532.6 L1664.8 531.9 L1666.7 531.2 L1668.6 530.5 L1670.5 529.9 L1672.4 529.2 L1674.2 528.5 L1676.1 527.8 L1678.0 527.1 L1679.9 526.4 L1681.7 525.7 L1683.6 525.0 L1685.5 524.3 L1687.4 523.7 L1689.3 523.0 L1691.1 522.3 L1693.0 521.6 L1694.9 520.9 L1696.8 520.2 L1698.7 519.6 L1700.5 518.9 L1702.4 518.2 L1704.3 517.5 L1706.2 516.8 L1708.1 516.2 L1710.0 515.5 L1711.9 514.9 L1713.8 514.2 L1715.6 513.6 L1717.5 512.9 L1719.4 512.3 L1721.3 511.6 L1723.2 511.0 L1725.1 510.3 L1727.0 509.7 L1728.9 509.1 L1730.8 508.6 L1732.8 508.1 L1734.7 507.7 L1736.7 507.4 L1738.7 507.0 L1740.7 506.7 L1742.6 506.3 L1744.6 505.9 L1746.5 505.5 L1748.4 504.9 L1750.2 504.2 L1752.1 503.4 L1753.9 502.5 L1755.7 501.6 L1757.5 500.7 L1759.3 499.8 L1761.2 499.0 L1763.0 498.2 L1764.9 497.5 L1766.8 496.7 L1768.7 496.0 L1770.6 495.7 L1772.6 496.1 L1774.5 497.2 L1776.3 498.0 L1777.7 497.9 L1778.9 497.0 L1780.1 495.5 L1781.2 493.6 L1782.2 491.3 L1783.2 488.9 L1784.1 486.3 L1785.1 483.8 L1786.0 481.4 L1786.9 479.4 L1787.8 477.8 L1788.8 476.7 L1789.8 476.3 L1790.8 476.9 L1791.8 478.6 L1792.7 480.9 L1793.7 483.5 L1794.8 485.8 L1795.9 487.5 L1797.2 488.3 L1798.7 488.1 L1800.4 487.7 L1802.3 487.0 L1804.3 486.2 L1806.4 485.3 L1808.4 484.5 L1810.4 483.7 L1812.3 483.1 L1814.3 482.5 L1816.2 481.9 L1818.1 481.3 L1820.0 480.8 L1821.9 480.2 L1823.8 479.7 L1825.7 479.1 L1827.6 478.5 L1829.5 477.9 L1831.4 477.3 L1833.3 476.7 L1835.2 476.1 L1837.1 475.5 L1839.0 474.9 L1840.9 474.3 L1842.8 473.7 L1844.7 473.0 L1846.6 472.4 L1848.5 471.8 L1850.4 471.2 L1852.3 470.5 L1854.2 469.9 L1856.1 469.2 L1858.0 468.6 L1859.9 468.0 L1861.8 467.3 L1863.7 466.7 L1865.6 466.0 L1867.5 465.4 L1869.4 464.7 L1871.3 464.0 L1873.1 463.4 L1875.0 462.7 L1876.9 462.1 L1878.8 461.4 L1880.7 460.8 L1882.6 460.1 L1884.5 459.4 L1886.4 458.8 L1888.3 458.1 L1890.2 457.5 L1892.1 456.8 L1893.9 456.2 L1895.8 455.6 L1897.7 454.9 L1899.6 454.3 L1901.5 453.7 L1903.4 453.1 L1905.3 452.4 L1907.2 451.8 L1909.1 451.2 L1911.0 450.6 L1912.9 450.0 L1914.9 449.4 L1916.8 448.8 L1918.7 448.2 L1920.6 447.6 L1922.5 447.0 L1924.4 446.5 L1926.3 445.9 L1928.2 445.3 L1930.2 444.7 L1932.1 444.2 L1934.0 443.6 L1935.9 443.1 L1937.8 442.5 L1939.8 441.9 L1941.7 441.4 L1943.6 440.8 L1945.5 440.3 L1947.4 439.7 L1949.4 439.2 L1951.3 438.6 L1953.2 438.1 L1955.1 437.5 L1957.1 437.0 L1959.0 436.4 L1960.9 435.9 L1962.8 435.3 L1964.8 434.8 L1966.7 434.2 L1968.6 433.7 L1970.5 433.1 L1972.5 432.6 L1974.4 432.0 L1976.3 431.5 L1978.2 430.9 L1980.2 430.4 L1982.1 429.9 L1984.0 429.3 L1985.9 428.8 L1987.9 428.3 L1989.8 427.7 L1991.7 427.2 L1993.6 426.6 L1995.6 426.1 L1997.5 425.6 L1999.4 425.1 L2001.4 424.7 L2003.3 424.4 L2005.3 424.1 L2007.3 423.8 L2009.3 423.5 L2011.3 423.3 L2013.3 423.1 L2015.3 423.0 L2017.5 422.9 L2019.7 422.8 L2021.7 422.7 L2023.2 422.6 L2024.1 421.5 L2024.8 419.4 L2025.6 417.1 L2026.4 415.1 L2027.6 413.5 L2029.0 412.1 L2030.5 410.7 L2032.1 409.4 L2033.7 408.2 L2035.3 406.8 L2037.0 405.4 L2038.8 404.1 L2040.5 403.2 L2042.2 402.6 L2043.9 402.8 L2045.5 404.0 L2047.2 405.6 L2048.8 406.9 L2050.7 407.3 L2052.6 407.6 L2054.6 407.7 L2056.7 407.9 L2058.7 408.0 L2060.7 408.3 L2062.6 408.7 L2064.6 409.1 L2066.5 409.5 L2068.5 410.0 L2070.5 410.4 L2072.4 410.8 L2074.4 411.1 L2076.4 411.5 L2078.4 411.9 L2080.3 412.3 L2082.2 412.9 L2083.9 413.7 L2085.7 414.8 L2087.4 415.9 L2089.1 417.0 L2090.8 418.1 L2092.4 419.3 L2094.1 420.4 L2095.8 421.4 L2097.6 422.2 L2099.6 422.9 L2101.5 423.3 L2103.4 423.3 L2105.1 422.4 L2106.9 421.1 L2108.4 419.6 L2109.7 418.2 L2110.9 416.6 L2112.0 414.9 L2113.0 413.1 L2114.0 411.3 L2115.0 409.6 L2116.0 407.9 L2117.0 406.2 L2118.1 404.5 L2119.2 402.8 L2120.4 401.2 L2121.6 399.6 L2122.7 397.9 L2123.5 396.1 L2124.4 394.2 L2125.4 392.7 L2126.9 391.3 L2128.6 390.1 L2130.2 388.9 L2131.8 387.4 L2133.5 386.2 L2135.2 385.4 L2137.1 385.4 L2139.0 385.4 L2141.0 385.4 L2143.1 385.4 L2145.1 385.4 L2147.2 385.4 L2149.2 385.4 L2151.2 385.6 L2153.1 386.0 L2155.1 386.4 L2157.1 386.7 L2159.1 386.9 L2161.1 386.9 L2163.1 386.8 L2165.1 386.7 L2167.1 386.6 L2169.1 386.5 L2171.1 386.4 L2173.1 386.3 L2175.0 386.2 L2177.0 386.1 L2179.0 386.0 L2181.0 385.9 L2183.0 385.8 L2185.0 385.7 L2187.0 385.5 L2189.0 385.4 L2191.0 385.2 L2193.0 385.1 L2195.0 384.9 L2197.0 384.7 L2199.0 384.5 L2201.0 384.3 L2203.0 384.1 L2205.0 383.9 L2206.9 383.7 L2208.9 383.5 L2210.9 383.3 L2212.9 383.0 L2214.9 382.8 L2216.9 382.5 L2218.9 382.3 L2220.8 382.0 L2222.8 381.8 L2224.8 381.5 L2226.8 381.2 L2228.8 381.0 L2230.8 380.7 L2232.7 380.4 L2234.7 380.2 L2236.7 379.9 L2238.7 379.6 L2240.7 379.4 L2242.6 379.1 L2244.6 378.8 L2246.6 378.6 L2248.6 378.3 L2250.6 378.1 L2252.6 377.9 L2254.6 377.6 L2256.5 377.4 L2258.5 377.2 L2260.5 377.0 L2262.5 376.7 L2264.5 376.5 L2266.5 376.3 L2268.5 376.1 L2270.5 375.9 L2272.5 375.7 L2274.4 375.5 L2276.4 375.3 L2278.4 375.1 L2280.4 374.9 L2282.4 374.7 L2284.3 374.5 L2286.3 374.3 L2288.2 374.1 L2290.2 373.9 L2292.1 373.7 L2294.1 373.5 L2296.1 373.3 L2298.1 373.1 L2300.1 372.9 L2302.1 372.7 L2304.2 372.5 L2306.2 372.3 L2308.2 372.0 L2310.2 371.8 L2312.2 371.6 L2314.2 371.4 L2315.0 371.3"/>
<path stroke="#00c000" stroke-width="6" shape-rendering="auto" d="M401.0 1571.0 L401.5 1573.0 L401.9 1574.9 L402.4 1576.9 L402.7 1578.8 L403.1 1580.8 L403.4 1582.8 L403.6 1584.8 L403.7 1586.7 L403.9 1588.7 L404.0 1590.7 L404.1 1592.7 L404.2 1594.7 L404.3 1596.7 L404.4 1598.7 L404.6 1600.7 L404.7 1602.8 L404.9 1604.8 L405.1 1606.8 L405.3 1608.7 L405.6 1610.7 L406.3 1612.8 L407.2 1614.8 L408.3 1616.4 L409.6 1617.3 L411.2 1618.0 L413.1 1618.6 L415.3 1619.0 L417.5 1619.4 L419.6 1619.5 L421.6 1619.5 L423.5 1619.5 L425.5 1619.5 L427.5 1619.5 L429.5 1619.5 L431.5 1619.5 L433.5 1619.5 L435.5 1619.4 L437.5 1619.4 L439.5 1619.4 L441.5 1619.4 L443.5 1619.3 L445.6 1619.3 L447.6 1619.3 L449.6 1619.2 L451.6 1619.1 L453.6 1619.1 L455.6 1619.0 L457.6 1618.8 L459.5 1618.7 L461.5 1618.6 L463.5 1618.4 L465.5 1618.2 L467.5 1618.0 L469.5 1617.8 L471.5 1617.5 L473.4 1617.3 L475.4 1617.0 L477.4 1616.6 L479.4 1616.3 L481.3 1616.0 L483.3 1615.6 L485.3 1615.2 L487.2 1614.7 L489.2 1614.3 L491.1 1613.8 L493.1 1613.3 L495.0 1612.8 L496.9 1612.3 L498.8 1611.7 L500.7 1611.1 L502.6 1610.4 L504.5 1609.8 L506.3 1609.1 L508.1 1608.3 L509.9 1607.5 L511.6 1606.7 L513.3 1605.8 L515.0 1604.9 L516.7 1603.9 L518.4 1602.9 L520.0 1601.8 L521.6 1600.7 L523.1 1599.5 L524.6 1598.3 L526.2 1597.0 L527.6 1595.7 L529.1 1594.4 L530.6 1593.0 L532.0 1591.6 L533.4 1590.2 L534.8 1588.7 L536.2 1587.3 L537.5 1585.8 L538.9 1584.3 L540.2 1582.8 L541.6 1581.3 L542.9 1579.7 L544.2 1578.2 L545.5 1576.7 L546.8 1575.1 L548.1 1573.6 L549.4 1572.0 L550.7 1570.5 L551.9 1568.9 L553.2 1567.4 L554.4 1565.8 L555.7 1564.2 L556.9 1562.7 L558.1 1561.1 L559.4 1559.5 L560.6 1557.9 L561.8 1556.3 L563.0 1554.7 L564.2 1553.1 L565.4 1551.4 L566.5 1549.8 L567.7 1548.2 L568.9 1546.6 L570.0 1544.9 L571.2 1543.3 L572.3 1541.6 L573.4 1540.0 L574.6 1538.3 L575.7 1536.7 L576.8 1535.0 L577.9 1533.3 L579.0 1531.7 L580.1 1530.0 L581.1 1528.3 L582.2 1526.6 L583.3 1524.9 L584.3 1523.2 L585.4 1521.5 L586.4 1519.8 L587.4 1518.1 L588.5 1516.4 L589.5 1514.7 L590.5 1513.0 L591.5 1511.3 L592.5 1509.5 L593.5 1507.8 L594.5 1506.0 L595.5 1504.3 L596.5 1502.6 L597.4 1500.8 L598.4 1499.1 L599.4 1497.3 L600.3 1495.6 L601.3 1493.8 L602.3 1492.0 L603.2 1490.3 L604.2 1488.5 L605.1 1486.7 L606.1 1485.0 L607.0 1483.2 L608.0 1481.4 L608.9 1479.7 L609.8 1477.9 L610.8 1476.1 L611.7 1474.4 L612.6 1472.6 L613.6 1470.8 L614.5 1469.1 L615.4 1467.3 L616.3 1465.5 L617.3 1463.7 L618.2 1462.0 L619.1 1460.2 L620.0 1458.4 L620.9 1456.6 L621.8 1454.8 L622.8 1453.1 L623.7 1451.3 L624.6 1449.5 L625.5 1447.7 L626.4 1445.9 L627.3 1444.1 L628.1 1442.3 L629.0 1440.6 L629.9 1438.8 L630.8 1437.0 L631.7 1435.2 L632.6 1433.4 L633.5 1431.6 L634.4 1429.8 L635.3 1428.0 L636.1 1426.2 L637.0 1424.4 L637.9 1422.6 L638.8 1420.8 L639.7 1419.0 L640.6 1417.2 L641.5 1415.5 L642.4 1413.7 L643.3 1411.9 L644.1 1410.1 L645.0 1408.3 L645.9 1406.5 L646.8 1404.7 L647.7 1402.9 L648.6 1401.1 L649.5 1399.4 L650.4 1397.6 L651.3 1395.8 L652.3 1394.0 L653.2 1392.2 L654.1 1390.4 L655.0 1388.7 L655.9 1386.9 L656.8 1385.1 L657.7 1383.3 L658.7 1381.6 L659.6 1379.8 L660.5 1378.0 L661.4 1376.2 L662.3 1374.5 L663.3 1372.7 L664.2 1370.9 L665.1 1369.1 L666.0 1367.4 L667.0 1365.6 L667.9 1363.8 L668.8 1362.0 L669.8 1360.3 L670.7 1358.5 L671.6 1356.7 L672.6 1355.0 L673.5 1353.2 L674.4 1351.4 L675.4 1349.7 L676.3 1347.9 L677.3 1346.1 L678.2 1344.4 L679.2 1342.6 L680.1 1340.9 L681.1 1339.1 L682.1 1337.4 L683.0 1335.6 L684.0 1333.9 L685.0 1332.1 L685.9 1330.4 L686.9 1328.6 L687.9 1326.9 L688.9 1325.1 L689.8 1323.4 L690.8 1321.6 L691.8 1319.9 L692.8 1318.2 L693.8 1316.4 L694.8 1314.7 L695.8 1313.0 L696.8 1311.2 L697.8 1309.5 L698.8 1307.8 L699.8 1306.1 L700.8 1304.3 L701.9 1302.6 L702.9 1300.9 L703.9 1299.2 L704.9 1297.4 L706.0 1295.7 L707.0 1294.0 L708.0 1292.3 L709.1 1290.6 L710.1 1288.9 L711.2 1287.2 L712.2 1285.5 L713.3 1283.8 L714.4 1282.1 L715.4 1280.4 L716.5 1278.7 L717.6 1277.0 L718.7 1275.3 L719.8 1273.7 L720.9 1272.0 L722.0 1270.3 L723.1 1268.7 L724.2 1267.0 L725.3 1265.4 L726.4 1263.7 L727.6 1262.1 L728.7 1260.5 L729.9 1258.8 L731.0 1257.2 L732.2 1255.6 L733.4 1254.0 L734.6 1252.4 L735.8 1250.8 L737.0 1249.2 L738.2 1247.6 L739.4 1246.0 L740.6 1244.4 L741.8 1242.8 L743.1 1241.2 L744.3 1239.7 L745.5 1238.1 L746.8 1236.5 L748.1 1235.0 L749.3 1233.4 L750.6 1231.9 L751.8 1230.3 L753.1 1228.8 L754.4 1227.2 L755.7 1225.7 L757.0 1224.2 L758.2 1222.6 L759.5 1221.1 L760.8 1219.6 L762.1 1218.0 L763.4 1216.5 L764.7 1215.0 L766.0 1213.5 L767.3 1212.0 L768.6 1210.5 L770.0 1209.0 L771.3 1207.5 L772.6 1206.0 L773.9 1204.5 L775.3 1203.0 L776.6 1201.5 L777.9 1200.0 L779.3 1198.5 L780.6 1197.0 L782.0 1195.5 L783.3 1194.1 L784.7 1192.6 L786.0 1191.1 L787.4 1189.7 L788.8 1188.2 L790.1 1186.8 L791.5 1185.3 L792.9 1183.9 L794.3 1182.4 L795.7 1181.0 L797.1 1179.5 L798.4 1178.1 L799.8 1176.7 L801.3 1175.3 L802.7 1173.8 L804.1 1172.4 L805.5 1171.0 L806.9 1169.6 L808.3 1168.2 L809.8 1166.8 L811.2 1165.4 L812.6 1164.0 L814.1 1162.6 L815.5 1161.2 L816.9 1159.8 L818.4 1158.4 L819.8 1157.1 L821.2 1155.7 L822.7 1154.3 L824.1 1152.9 L825.6 1151.5 L827.0 1150.1 L828.5 1148.7 L829.9 1147.3 L831.3 1145.9 L832.8 1144.6 L834.2 1143.2 L835.6 1141.8 L837.1 1140.4 L838.5 1139.0 L840.0 1137.6 L841.4 1136.2 L842.8 1134.8 L844.3 1133.4 L845.7 1132.0 L847.1 1130.6 L848.6 1129.2 L850.0 1127.8 L851.4 1126.4 L852.8 1125.0 L854.3 1123.6 L855.7 1122.2 L857.1 1120.8 L858.5 1119.4 L860.0 1118.0 L861.4 1116.6 L862.8 1115.1 L864.2 1113.7 L865.6 1112.3 L867.0 1110.9 L868.4 1109.4 L869.8 1108.0 L871.1 1106.5 L872.5 1105.1 L873.9 1103.6 L875.3 1102.2 L876.6 1100.7 L878.0 1099.3 L879.3 1097.8 L880.7 1096.3 L882.0 1094.8 L883.3 1093.3 L884.7 1091.8 L886.0 1090.3 L887.3 1088.8 L888.6 1087.3 L889.9 1085.8 L891.2 1084.3 L892.5 1082.8 L893.8 1081.3 L895.1 1079.7 L896.4 1078.2 L897.7 1076.7 L899.0 1075.1 L900.2 1073.6 L901.5 1072.0 L902.8 1070.5 L904.0 1068.9 L905.3 1067.4 L906.6 1065.8 L907.8 1064.3 L909.1 1062.7 L910.3 1061.2 L911.6 1059.6 L912.8 1058.0 L914.0 1056.4 L915.3 1054.9 L916.5 1053.3 L917.7 1051.7 L919.0 1050.1 L920.2 1048.6 L921.4 1047.0 L922.6 1045.4 L923.8 1043.8 L925.0 1042.2 L926.3 1040.6 L927.5 1039.0 L928.7 1037.4 L929.9 1035.8 L931.1 1034.3 L932.4 1032.7 L933.6 1031.1 L934.8 1029.5 L936.0 1027.9 L937.3 1026.4 L938.5 1024.8 L939.7 1023.2 L941.0 1021.6 L942.2 1020.1 L943.4 1018.5 L944.7 1016.9 L945.9 1015.4 L947.2 1013.8 L948.5 1012.3 L949.7 1010.7 L951.0 1009.2 L952.3 1007.7 L953.6 1006.1 L954.9 1004.6 L956.2 1003.1 L957.5 1001.6 L958.8 1000.1 L960.1 998.5 L961.4 997.0 L962.7 995.5 L964.0 994.0 L965.3 992.5 L966.6 991.0 L967.9 989.4 L969.2 987.9 L970.5 986.4 L971.8 984.9 L973.1 983.4 L974.4 981.9 L975.7 980.3 L977.0 978.8 L978.3 977.3 L979.6 975.8 L980.9 974.2 L982.2 972.7 L983.5 971.2 L984.8 969.7 L986.1 968.1 L987.4 966.6 L988.7 965.1 L990.0 963.5 L991.3 962.0 L992.6 960.5 L993.9 959.0 L995.2 957.5 L996.5 955.9 L997.8 954.4 L999.1 952.9 L1000.4 951.4 L1001.7 949.9 L1003.0 948.4 L1004.4 946.9 L1005.7 945.4 L1007.0 943.9 L1008.4 942.5 L1009.7 941.0 L1011.1 939.5 L1012.4 938.0 L1013.8 936.6 L1015.1 935.1 L1016.5 933.6 L1017.8 932.2 L1019.2 930.7 L1020.6 929.2 L1021.9 927.8 L1023.3 926.3 L1024.7 924.9 L1026.1 923.4 L1027.4 922.0 L1028.8 920.5 L1030.2 919.1 L1031.6 917.6 L1033.0 916.2 L1034.3 914.7 L1035.7 913.3 L1037.1 911.8 L1038.5 910.4 L1039.9 908.9 L1041.3 907.5 L1042.6 906.0 L1044.0 904.6 L1045.4 903.1 L1046.8 901.7 L1048.2 900.2 L1049.5 898.8 L1050.9 897.3 L1052.3 895.9 L1053.7 894.4 L1055.0 893.0 L1056.4 891.5 L1057.8 890.1 L1059.1 888.6 L1060.5 887.1 L1061.9 885.7 L1063.3 884.2 L1064.6 882.8 L1066.0 881.3 L1067.4 879.9 L1068.8 878.4 L1070.1 877.0 L1071.5 875.5 L1072.9 874.1 L1074.3 872.7 L1075.7 871.2 L1077.1 869.8 L1078.5 868.4 L1079.9 867.0 L1081.3 865.6 L1082.8 864.2 L1084.2 862.8 L1085.6 861.4 L1087.0 860.0 L1088.5 858.6 L1089.9 857.2 L1091.4 855.8 L1092.8 854.5 L1094.3 853.1 L1095.8 851.7 L1097.2 850.4 L1098.7 849.0 L1100.2 847.7 L1101.7 846.3 L1103.1 845.0 L1104.6 843.7 L1106.1 842.3 L1107.6 841.0 L1109.1 839.7 L1110.6 838.4 L1112.1 837.0 L1113.6 835.7 L1115.2 834.4 L1116.7 833.1 L1118.2 831.8 L1119.7 830.5 L1121.2 829.2 L1122.7 827.9 L1124.3 826.6 L1125.8 825.3 L1127.3 824.0 L1128.9 822.7 L1130.4 821.5 L1131.9 820.2 L1133.5 818.9 L1135.0 817.6 L1136.5 816.3 L1138.1 815.1 L1139.6 813.8 L1141.2 812.5 L1142.7 811.3 L1144.3 810.0 L1145.8 808.7 L1147.4 807.5 L1148.9 806.2 L1150.5 805.0 L1152.1 803.7 L1153.6 802.5 L1155.2 801.2 L1156.7 800.0 L1158.3 798.7 L1159.9 797.5 L1161.4 796.3 L1163.0 795.0 L1164.6 793.8 L1166.2 792.5 L1167.7 791.3 L1169.3 790.0 L1170.9 788.8 L1172.4 787.6 L1174.0 786.3 L1175.6 785.1 L1177.1 783.8 L1178.7 782.6 L1180.3 781.3 L1181.8 780.1 L1183.4 778.8 L1184.9 777.6 L1186.5 776.3 L1188.1 775.1 L1189.6 773.8 L1191.2 772.6 L1192.7 771.3 L1194.3 770.0 L1195.9 768.8 L1197.4 767.5 L1199.0 766.3 L1200.5 765.0 L1202.1 763.7 L1203.6 762.5 L1205.2 761.2 L1206.7 759.9 L1208.3 758.7 L1209.8 757.4 L1211.4 756.2 L1213.0 754.9 L1214.6 753.7 L1216.1 752.5 L1217.7 751.3 L1219.3 750.0 L1220.9 748.8 L1222.5 747.6 L1224.1 746.4 L1225.7 745.3 L1227.3 744.1 L1228.9 742.9 L1230.6 741.8 L1232.2 740.7 L1233.9 739.6 L1235.6 738.5 L1237.3 737.4 L1239.0 736.4 L1240.7 735.3 L1242.4 734.2 L1244.1 733.2 L1245.7 732.1 L1247.4 730.9 L1249.0 729.8 L1250.6 728.6 L1252.2 727.4 L1253.9 726.3 L1255.5 725.1 L1257.1 723.9 L1258.7 722.7 L1260.3 721.6 L1262.0 720.4 L1263.6 719.2 L1265.2 718.0 L1266.8 716.8 L1268.4 715.7 L1270.0 714.5 L1271.6 713.3 L1273.2 712.1 L1274.9 710.9 L1276.5 709.7 L1278.1 708.6 L1279.7 707.4 L1281.4 706.3 L1283.0 705.1 L1284.6 704.0 L1286.3 702.9 L1288.0 701.8 L1289.6 700.7 L1291.3 699.6 L1293.0 698.5 L1294.6 697.4 L1296.3 696.2 L1297.9 695.1 L1299.6 694.1 L1301.3 693.1 L1303.2 692.3 L1305.0 691.5 L1306.9 690.8 L1308.8 690.2 L1310.7 689.7 L1312.7 689.3 L1314.7 688.9 L1316.6 688.4 L1318.5 687.9 L1320.4 687.2 L1322.2 686.4 L1324.0 685.4 L1325.8 684.5 L1327.5 683.4 L1329.1 682.3 L1330.7 681.1 L1332.2 679.8 L1333.7 678.4 L1335.2 677.0 L1336.6 675.6 L1338.0 674.2 L1339.3 672.6 L1340.5 671.0 L1341.8 669.5 L1343.1 667.9 L1344.4 666.4 L1345.9 665.1 L1347.4 663.9 L1349.0 662.8 L1350.7 661.7 L1352.4 660.7 L1354.2 659.7 L1356.0 658.7 L1357.8 657.8 L1359.6 656.9 L1361.4 656.0 L1363.2 655.2 L1365.0 654.4 L1366.8 653.5 L1368.6 652.7 L1370.4 651.8 L1372.3 651.0 L1374.1 650.1 L1375.9 649.3 L1377.7 648.4 L1379.5 647.6 L1381.3 646.7 L1383.1 645.9 L1385.0 645.1 L1386.8 644.3 L1388.6 643.4 L1390.4 642.6 L1392.3 641.8 L1394.1 641.0 L1395.9 640.2 L1397.7 639.4 L1399.6 638.6 L1401.4 637.8 L1403.2 637.0 L1405.1 636.2 L1406.9 635.4 L1408.7 634.6 L1410.6 633.8 L1412.4 633.0 L1414.2 632.2 L1416.1 631.4 L1417.9 630.6 L1419.7 629.8 L1421.6 629.0 L1423.4 628.2 L1425.2 627.4 L1427.0 626.6 L1428.9 625.7 L1430.7 624.9 L1432.5 624.1 L1434.3 623.3 L1436.2 622.4 L1438.0 621.6 L1439.8 620.8 L1441.6 620.0 L1443.5 619.2 L1445.3 618.4 L1447.1 617.6 L1449.0 616.8 L1450.8 616.0 L1452.6 615.2 L1454.5 614.4 L1456.3 613.6 L1458.1 612.8 L1460.0 612.0 L1461.8 611.3 L1463.7 610.5 L1465.5 609.7 L1467.4 608.9 L1469.2 608.2 L1471.1 607.4 L1472.9 606.6 L1474.8 605.9 L1476.6 605.1 L1478.5 604.4 L1480.3 603.6 L1482.2 602.9 L1484.0 602.1 L1485.9 601.4 L1487.7 600.6 L1489.6 599.9 L1491.4 599.1 L1493.3 598.4 L1495.2 597.7 L1497.0 596.9 L1498.9 596.2 L1500.7 595.5 L1502.6 594.7 L1504.5 594.0 L1506.3 593.3 L1508.2 592.5 L1510.1 591.8 L1511.9 591.1 L1513.8 590.3 L1515.6 589.6 L1517.5 588.8 L1519.3 588.1 L1521.2 587.3 L1523.0 586.6 L1524.9 585.8 L1526.7 585.1 L1528.6 584.3 L1530.4 583.5 L1532.3 582.8 L1534.1 582.0 L1536.0 581.2 L1537.8 580.4 L1539.7 579.7 L1541.5 578.9 L1543.3 578.1 L1545.2 577.3 L1547.0 576.5 L1548.9 575.8 L1550.7 575.0 L1552.5 574.2 L1554.4 573.5 L1556.2 572.7 L1558.1 571.9 L1559.9 571.2 L1561.8 570.4 L1563.6 569.7 L1565.5 569.0 L1567.4 568.2 L1569.2 567.5 L1571.1 566.8 L1573.0 566.1 L1574.8 565.3 L1576.7 564.6 L1578.6 563.9 L1580.4 563.2 L1582.3 562.5 L1584.2 561.8 L1586.1 561.1 L1587.9 560.4 L1589.8 559.7 L1591.7 559.0 L1593.6 558.3 L1595.4 557.6 L1597.3 557.0 L1599.2 556.3 L1601.1 555.6 L1603.0 554.9 L1604.8 554.2 L1606.7 553.5 L1608.6 552.8 L1610.5 552.1 L1612.3 551.4 L1614.2 550.7 L1616.1 550.1 L1618.0 549.4 L1619.9 548.7 L1621.7 548.0 L1623.6 547.3 L1625.5 546.6 L1627.4 545.9 L1629.2 545.2 L1631.1 544.5 L1633.0 543.8 L1634.9 543.1 L1636.7 542.4 L1638.6 541.7 L1640.5 541.0 L1642.4 540.3 L1644.2 539.6 L1646.1 538.9 L1648.0 538.2 L1649.9 537.5 L1651.7 536.8 L1653.6 536.1 L1655.5 535.4 L1657.3 534.7 L1659.2 534.0 L1661.1 533.3 L1663.0 532.6 L1664.8 531.9 L1666.7 531.2 L1668.6 530.5 L1670.5 529.9 L1672.4 529.2 L1674.2 528.5 L1676.1 527.8 L1678.0 527.1 L1679.9 526.4 L1681.7 525.7 L1683.6 525.0 L1685.5 524.3 L1687.4 523.7 L1689.3 523.0 L1691.1 522.3 L1693.0 521.6 L1694.9 520.9 L1696.8 520.2 L1698.7 519.6 L1700.5 518.9 L1702.4 518.2 L1704.3 517.5 L1706.2 516.8 L1708.1 516.2 L1710.0 515.5 L1711.9 514.9 L1713.8 514.2 L1715.6 513.6 L1717.5 512.9 L1719.4 512.3 L1721.3 511.6 L1723.2 511.0 L1725.1 510.3 L1727.0 509.7 L1728.9 509.1 L1730.8 508.6 L1732.8 508.1 L1734.7 507.7 L1736.7 507.4 L1738.7 507.0 L1740.7 506.7 L1742.6 506.3 L1744.6 505.9 L1746.5 505.5 L1748.4 504.9 L1750.2 504.2 L1752.1 503.4 L1753.9 502.5 L1755.7 501.6 L1757.5 500.7 L1759.3 499.8 L1761.2 499.0 L1763.0 498.2 L1764.9 497.5 L1766.8 496.7 L1768.7 496.0 L1770.6 495.7 L1772.6 496.1 L1774.5 497.2 L1776.3 498.0 L1777.7 497.9 L1778.9 497.0 L1780.1 495.5 L1781.2 493.6 L1782.2 491.3 L1783.2 488.9 L1784.1 486.3 L1785.1 483.8 L1786.0 481.4 L1786.9 479.4 L1787.8 477.8 L1788.8 476.7 L1789.8 476.3 L1790.8 476.9 L1791.8 478.6 L1792.7 480.9 L1793.7 483.5 L1794.8 485.8 L1795.9 487.5 L1797.2 488.3 L1798.7 488.1 L1800.4 487.7 L1802.3 487.0 L1804.3 486.2 L1806.4 485.3 L1808.4 484.5 L1810.4 483.7 L1812.3 483.1 L1814.3 482.5 L1816.2 481.9 L1818.1 481.3 L1820.0 480.8 L1821.9 480.2 L1823.8 479.7 L1825.7 479.1 L1827.6 478.5 L1829.5 477.9 L1831.4 477.3 L1833.3 476.7 L1835.2 476.1 L1837.1 475.5 L1839.0 474.9 L1840.9 474.3 L1842.8 473.7 L1844.7 473.0 L1846.6 472.4 L1848.5 471.8 L1850.4 471.2 L1852.3 470.5 L1854.2 469.9 L1856.1 469.2 L1858.0 468.6 L1859.9 468.0 L1861.8 467.3 L1863.7 466.7 L1865.6 466.0 L1867.5 465.4 L1869.4 464.7 L1871.3 464.0 L1873.1 463.4 L1875.0 462.7 L1876.9 462.1 L1878.8 461.4 L1880.7 460.8 L1882.6 460.1 L1884.5 459.4 L1886.4 458.8 L1888.3 458.1 L1890.2 457.5 L1892.1 456.8 L1893.9 456.2 L1895.8 455.6 L1897.7 454.9 L1899.6 454.3 L1901.5 453.7 L1903.4 453.1 L1905.3 452.4 L1907.2 451.8 L1909.1 451.2 L1911.0 450.6 L1912.9 450.0 L1914.9 449.4 L1916.8 448.8 L1918.7 448.2 L1920.6 447.6 L1922.5 447.0 L1924.4 446.5 L1926.3 445.9 L1928.2 445.3 L1930.2 444.7 L1932.1 444.2 L1934.0 443.6 L1935.9 443.1 L1937.8 442.5 L1939.8 441.9 L1941.7 441.4 L1943.6 440.8 L1945.5 440.3 L1947.4 439.7 L1949.4 439.2 L1951.3 438.6 L1953.2 438.1 L1955.1 437.5 L1957.1 437.0 L1959.0 436.4 L1960.9 435.9 L1962.8 435.3 L1964.8 434.8 L1966.7 434.2 L1968.6 433.7 L1970.5 433.1 L1972.5 432.6 L1974.4 432.0 L1976.3 431.5 L1978.2 430.9 L1980.2 430.4 L1982.1 429.9 L1984.0 429.3 L1985.9 428.8 L1987.9 428.3 L1989.8 427.7 L1991.7 427.2 L1993.6 426.6 L1995.6 426.1 L1997.5 425.6 L1999.4 425.1 L2001.4 424.7 L2003.3 424.4 L2005.3 424.1 L2007.3 423.8 L2009.3 423.5 L2011.3 423.3 L2013.3 423.1 L2015.3 423.0 L2017.5 422.9 L2019.7 422.8 L2021.7 422.7 L2023.2 422.6 L2024.1 421.5 L2024.8 419.4 L2025.6 417.1 L2026.4 415.1 L2027.6 413.5 L2029.0 412.1 L2030.5 410.7 L2032.1 409.4 L2033.7 408.2 L2035.3 406.8 L2037.0 405.4 L2038.8 404.1 L2040.5 403.2 L2042.2 402.6 L2043.9 402.8 L2045.5 404.0 L2047.2 405.6 L2048.8 406.9 L2050.7 407.3 L2052.6 407.6 L2054.6 407.7 L2056.7 407.9 L2058.7 408.0 L2060.7 408.3 L2062.6 408.7 L2064.6 409.1 L2066.5 409.5 L2068.5 410.0 L2070.5 410.4 L2072.4 410.8 L2074.4 411.1 L2076.4 411.5 L2078.4 411.9 L2080.3 412.3 L2082.2 412.9 L2083.9 413.7 L2085.7 414.8 L2087.4 415.9 L2089.1 417.0 L2090.8 418.1 L2092.4 419.3 L2094.1 420.4 L2095.8 421.4 L2097.6 422.2 L2099.6 422.9 L2101.5 423.3 L2103.4 423.3 L2105.1 422.4 L2106.9 421.1 L2108.4 419.6 L2109.7 418.2 L2110.9 416.6 L2112.0 414.9 L2113.0 413.1 L2114.0 411.3 L2115.0 409.6 L2116.0 407.9 L2117.0 406.2 L2118.1 404.5 L2119.2 402.8 L2120.4 401.2 L2121.6 399.6 L2122.7 397.9 L2123.5 396.1 L2124.4 394.2 L2125.4 392.7 L2126.9 391.3 L2128.6 390.1 L2130.2 388.9 L2131.8 387.4 L2133.5 386.2 L2135.2 385.4 L2137.1 385.4 L2139.0 385.4 L2141.0 385.4 L2143.1 385.4 L2145.1 385.4 L2147.2 385.4 L2149.2 385.4 L2151.2 385.6 L2153.1 386.0 L2155.1 386.4 L2157.1 386.7 L2159.1 386.9 L2161.1 386.9 L2163.1 386.8 L2165.1 386.7 L2167.1 386.6 L2169.1 386.5 L2171.1 386.4 L2173.1 386.3 L2175.0 386.2 L2177.0 386.1 L2179.0 386.0 L2181.0 385.9 L2183.0 385.8 L2185.0 385.7 L2187.0 385.5 L2189.0 385.4 L2191.0 385.2 L2193.0 385.1 L2195.0 384.9 L2197.0 384.7 L2199.0 384.5 L2201.0 384.3 L2203.0 384.1 L2205.0 383.9 L2206.9 383.7 L2208.9 383.5 L2210.9 383.3 L2212.9 383.0 L2214.9 382.8 L2216.9 382.5 L2218.9 382.3 L2220.8 382.0 L2222.8 381.8 L2224.8 381.5 L2226.8 381.2 L2228.8 381.0 L2230.8 380.7 L2232.7 380.4 L2234.7 380.2 L2236.7 379.9 L2238.7 379.6 L2240.7 379.4 L2242.6 379.1 L2244.6 378.8 L2246.6 378.6 L2248.6 378.3 L2250.6 378.1 L2252.6 377.9 L2254.6 377.6 L2256.5 377.4 L2258.5 377.2 L2260.5 377.0 L2262.5 376.7 L2264.5 376.5 L2266.5 376.3 L2268.5 376.1 L2270.5 375.9 L2272.5 375.7 L2274.4 375.5 L2276.4 375.3 L2278.4 375.1 L2280.4 374.9 L2282.4 374.7 L2284.3 374.5 L2286.3 374.3 L2288.2 374.1 L2290.2 373.9 L2292.1 373.7 L2294.1 373.5 L2296.1 373.3 L2298.1 373.1 L2300.1 372.9 L2302.1 372.7 L2304.2 372.5 L2306.2 372.3 L2308.2 372.0 L2310.2 371.8 L2312.2 371.6 L2314.2 371.4 L2315.0 371.3"/>
<path stroke="#ffc400" d="M401.0 1616.5 L403.0 1616.6 L405.0 1616.7 L407.0 1616.9 L409.0 1617.1 L411.0 1617.4 L412.9 1617.7 L414.9 1618.3 L416.8 1618.9 L418.7 1619.4 L420.7 1619.5 L422.7 1619.5 L424.6 1619.5 L426.6 1619.5 L428.6 1619.5 L430.6 1619.5 L432.6 1619.5 L434.5 1619.5 L436.5 1619.5 L438.5 1619.5 L440.5 1619.5 L442.5 1619.5 L444.5 1619.5 L446.6 1619.5 L448.6 1619.5 L450.6 1619.5 L452.6 1619.5 L454.6 1619.5 L456.6 1619.5 L458.6 1619.5 L460.6 1619.5 L462.6 1619.5 L464.6 1619.5 L466.7 1619.5 L468.7 1619.5 L470.7 1619.5 L472.7 1619.4 L474.7 1619.4 L476.7 1619.4 L478.7 1619.3 L480.7 1619.3 L482.7 1619.2 L484.7 1619.2 L486.7 1619.1 L488.7 1619.0 L490.7 1618.8 L492.7 1618.7 L494.7 1618.5 L496.7 1618.3 L498.6 1618.1 L500.6 1617.9 L502.6 1617.6 L504.6 1617.3 L506.5 1617.0 L508.5 1616.6 L510.4 1616.2 L512.4 1615.8 L514.3 1615.3 L516.2 1614.8 L518.1 1614.3 L520.0 1613.7 L521.9 1613.1 L523.8 1612.4 L525.6 1611.7 L527.5 1611.0 L529.3 1610.2 L531.1 1609.4 L532.8 1608.5 L534.6 1607.6 L536.3 1606.6 L538.0 1605.7 L539.7 1604.6 L541.3 1603.6 L543.0 1602.5 L544.6 1601.3 L546.2 1600.1 L547.7 1598.9 L549.3 1597.7 L550.8 1596.4 L552.3 1595.1 L553.8 1593.8 L555.2 1592.4 L556.7 1591.0 L558.1 1589.6 L559.5 1588.2 L561.0 1586.8 L562.4 1585.3 L563.7 1583.9 L565.1 1582.4 L566.5 1581.0 L567.9 1579.5 L569.2 1578.0 L570.6 1576.5 L571.9 1575.0 L573.3 1573.5 L574.6 1572.0 L575.9 1570.5 L577.3 1569.0 L578.6 1567.5 L579.9 1566.0 L581.2 1564.5 L582.5 1563.0 L583.8 1561.4 L585.1 1559.9 L586.3 1558.3 L587.6 1556.8 L588.9 1555.2 L590.1 1553.7 L591.4 1552.1 L592.6 1550.5 L593.9 1549.0 L595.1 1547.4 L596.3 1545.8 L597.6 1544.2 L598.8 1542.6 L600.0 1541.0 L601.2 1539.4 L602.3 1537.8 L603.5 1536.2 L604.7 1534.6 L605.9 1533.0 L607.0 1531.3 L608.2 1529.7 L609.3 1528.1 L610.4 1526.4 L611.6 1524.8 L612.7 1523.1 L613.8 1521.5 L614.9 1519.8 L616.0 1518.1 L617.1 1516.5 L618.1 1514.8 L619.2 1513.1 L620.3 1511.4 L621.3 1509.7 L622.4 1508.0 L623.5 1506.3 L624.5 1504.6 L625.5 1502.9 L626.6 1501.2 L627.6 1499.5 L628.7 1497.8 L629.7 1496.1 L630.7 1494.3 L631.7 1492.6 L632.8 1490.9 L633.8 1489.2 L634.8 1487.4 L635.8 1485.7 L636.8 1484.0 L637.9 1482.3 L638.9 1480.5 L639.9 1478.8 L640.9 1477.1 L641.9 1475.4 L642.9 1473.6 L643.9 1471.9 L645.0 1470.2 L646.0 1468.4 L647.0 1466.7 L648.0 1465.0 L649.0 1463.2 L650.0 1461.5 L651.0 1459.8 L652.0 1458.0 L653.0 1456.3 L654.0 1454.6 L655.0 1452.8 L655.9 1451.1 L656.9 1449.3 L657.9 1447.6 L658.9 1445.8 L659.9 1444.1 L660.9 1442.4 L661.8 1440.6 L662.8 1438.9 L663.8 1437.1 L664.8 1435.4 L665.8 1433.6 L666.7 1431.9 L667.7 1430.1 L668.7 1428.4 L669.7 1426.7 L670.7 1424.9 L671.7 1423.2 L672.7 1421.4 L673.7 1419.7 L674.7 1418.0 L675.7 1416.2 L676.7 1414.5 L677.7 1412.8 L678.7 1411.1 L679.7 1409.3 L680.7 1407.6 L681.7 1405.9 L682.8 1404.2 L683.8 1402.5 L684.8 1400.8 L685.9 1399.1 L686.9 1397.4 L688.0 1395.7 L689.1 1394.0 L690.1 1392.3 L691.2 1390.6 L692.3 1389.0 L693.4 1387.3 L694.5 1385.6 L695.5 1383.9 L696.6 1382.3 L697.7 1380.6 L698.9 1378.9 L700.0 1377.3 L701.1 1375.6 L702.2 1373.9 L703.3 1372.3 L704.5 1370.6 L705.6 1369.0 L706.7 1367.3 L707.9 1365.7 L709.0 1364.1 L710.2 1362.4 L711.3 1360.8 L712.5 1359.1 L713.7 1357.5 L714.8 1355.9 L716.0 1354.3 L717.2 1352.6 L718.4 1351.0 L719.5 1349.4 L720.7 1347.8 L721.9 1346.2 L723.1 1344.6 L724.3 1343.0 L725.5 1341.4 L726.7 1339.8 L728.0 1338.2 L729.2 1336.6 L730.4 1335.0 L731.6 1333.5 L732.9 1331.9 L734.1 1330.3 L735.3 1328.7 L736.6 1327.2 L737.8 1325.6 L739.1 1324.1 L740.4 1322.5 L741.6 1321.0 L742.9 1319.5 L744.2 1317.9 L745.4 1316.4 L746.7 1314.9 L748.0 1313.4 L749.3 1311.8 L750.6 1310.3 L751.9 1308.8 L753.3 1307.3 L754.6 1305.8 L755.9 1304.3 L757.2 1302.8 L758.6 1301.3 L759.9 1299.9 L761.2 1298.4 L762.6 1296.9 L764.0 1295.4 L765.3 1294.0 L766.7 1292.5 L768.0 1291.0 L769.4 1289.6 L770.8 1288.1 L772.2 1286.7 L773.5 1285.2 L774.9 1283.7 L776.3 1282.3 L777.7 1280.9 L779.1 1279.4 L780.5 1278.0 L781.9 1276.5 L783.3 1275.1 L784.7 1273.7 L786.1 1272.2 L787.5 1270.8 L788.9 1269.4 L790.3 1268.0 L791.7 1266.5 L793.1 1265.1 L794.5 1263.7 L795.9 1262.3 L797.4 1260.9 L798.8 1259.5 L800.2 1258.1 L801.6 1256.7 L803.1 1255.3 L804.5 1253.9 L805.9 1252.5 L807.4 1251.1 L808.8 1249.7 L810.2 1248.3 L811.7 1246.9 L813.1 1245.6 L814.6 1244.2 L816.0 1242.8 L817.5 1241.4 L818.9 1240.1 L820.4 1238.7 L821.9 1237.3 L823.3 1235.9 L824.8 1234.6 L826.2 1233.2 L827.7 1231.8 L829.1 1230.5 L830.6 1229.1 L832.1 1227.7 L833.5 1226.3 L835.0 1225.0 L836.4 1223.6 L837.9 1222.2 L839.3 1220.8 L840.8 1219.5 L842.2 1218.1 L843.7 1216.7 L845.1 1215.3 L846.6 1214.0 L848.1 1212.6 L849.5 1211.2 L851.0 1209.8 L852.4 1208.4 L853.9 1207.1 L855.3 1205.7 L856.8 1204.3 L858.2 1202.9 L859.6 1201.5 L861.1 1200.1 L862.5 1198.7 L863.9 1197.3 L865.4 1195.9 L866.8 1194.5 L868.2 1193.1 L869.6 1191.7 L871.0 1190.3 L872.4 1188.8 L873.8 1187.4 L875.2 1186.0 L876.6 1184.5 L877.9 1183.1 L879.3 1181.6 L880.6 1180.2 L882.0 1178.7 L883.3 1177.2 L884.7 1175.7 L886.0 1174.2 L887.3 1172.7 L888.6 1171.2 L889.9 1169.7 L891.2 1168.2 L892.5 1166.6 L893.8 1165.1 L895.1 1163.6 L896.3 1162.0 L897.6 1160.5 L898.9 1158.9 L900.1 1157.4 L901.4 1155.8 L902.6 1154.3 L903.9 1152.7 L905.1 1151.1 L906.4 1149.5 L907.6 1148.0 L908.8 1146.4 L910.0 1144.8 L911.3 1143.2 L912.5 1141.6 L913.7 1140.0 L914.9 1138.4 L916.1 1136.8 L917.3 1135.2 L918.5 1133.6 L919.7 1132.0 L920.9 1130.4 L922.0 1128.8 L923.2 1127.2 L924.4 1125.6 L925.6 1123.9 L926.7 1122.3 L927.9 1120.7 L929.1 1119.1 L930.2 1117.5 L931.4 1115.8 L932.6 1114.2 L933.7 1112.6 L934.9 1111.0 L936.1 1109.3 L937.3 1107.7 L938.4 1106.1 L939.6 1104.5 L940.8 1102.9 L941.9 1101.2 L943.1 1099.6 L944.3 1098.0 L945.5 1096.4 L946.7 1094.8 L947.8 1093.2 L949.0 1091.5 L950.2 1089.9 L951.4 1088.3 L952.6 1086.7 L953.8 1085.1 L955.0 1083.5 L956.2 1081.9 L957.4 1080.3 L958.6 1078.7 L959.8 1077.1 L961.0 1075.5 L962.2 1073.9 L963.4 1072.3 L964.6 1070.7 L965.9 1069.2 L967.1 1067.6 L968.3 1066.0 L969.5 1064.4 L970.8 1062.8 L972.0 1061.3 L973.2 1059.7 L974.5 1058.1 L975.7 1056.6 L977.0 1055.0 L978.2 1053.4 L979.5 1051.9 L980.7 1050.3 L982.0 1048.8 L983.3 1047.2 L984.5 1045.7 L985.8 1044.1 L987.1 1042.6 L988.3 1041.1 L989.6 1039.5 L990.9 1038.0 L992.2 1036.4 L993.5 1034.9 L994.7 1033.4 L996.0 1031.8 L997.3 1030.3 L998.6 1028.8 L999.9 1027.2 L1001.2 1025.7 L1002.5 1024.2 L1003.8 1022.7 L1005.1 1021.2 L1006.4 1019.6 L1007.7 1018.1 L1009.0 1016.6 L1010.3 1015.1 L1011.6 1013.6 L1013.0 1012.1 L1014.3 1010.6 L1015.6 1009.1 L1016.9 1007.6 L1018.2 1006.1 L1019.5 1004.6 L1020.9 1003.1 L1022.2 1001.6 L1023.5 1000.1 L1024.8 998.6 L1026.1 997.1 L1027.5 995.6 L1028.8 994.1 L1030.1 992.6 L1031.4 991.1 L1032.7 989.5 L1034.0 988.0 L1035.4 986.5 L1036.7 985.0 L1038.0 983.5 L1039.3 982.0 L1040.6 980.5 L1041.9 979.0 L1043.2 977.4 L1044.5 975.9 L1045.8 974.4 L1047.1 972.9 L1048.4 971.3 L1049.7 969.8 L1051.0 968.3 L1052.2 966.8 L1053.5 965.2 L1054.8 963.7 L1056.1 962.2 L1057.4 960.6 L1058.7 959.1 L1060.0 957.6 L1061.2 956.0 L1062.5 954.5 L1063.8 953.0 L1065.1 951.5 L1066.4 949.9 L1067.7 948.4 L1069.0 946.9 L1070.3 945.4 L1071.6 943.9 L1072.9 942.3 L1074.2 940.8 L1075.6 939.3 L1076.9 937.8 L1078.2 936.3 L1079.5 934.8 L1080.8 933.3 L1082.2 931.8 L1083.5 930.3 L1084.8 928.8 L1086.2 927.3 L1087.5 925.9 L1088.8 924.4 L1090.2 922.9 L1091.5 921.4 L1092.9 919.9 L1094.2 918.5 L1095.6 917.0 L1096.9 915.5 L1098.3 914.0 L1099.6 912.6 L1101.0 911.1 L1102.4 909.6 L1103.7 908.2 L1105.1 906.7 L1106.5 905.3 L1107.9 903.8 L1109.2 902.4 L1110.6 900.9 L1112.0 899.5 L1113.4 898.0 L1114.8 896.6 L1116.2 895.2 L1117.6 893.7 L1119.0 892.3 L1120.4 890.9 L1121.8 889.5 L1123.2 888.0 L1124.6 886.6 L1126.0 885.2 L1127.4 883.8 L1128.8 882.4 L1130.2 880.9 L1131.6 879.5 L1133.1 878.1 L1134.5 876.7 L1135.9 875.3 L1137.3 873.9 L1138.8 872.5 L1140.2 871.1 L1141.6 869.7 L1143.1 868.3 L1144.5 866.9 L1145.9 865.5 L1147.4 864.2 L1148.8 862.8 L1150.3 861.4 L1151.7 860.0 L1153.2 858.6 L1154.6 857.2 L1156.0 855.9 L1157.5 854.5 L1159.0 853.1 L1160.4 851.7 L1161.9 850.4 L1163.3 849.0 L1164.8 847.6 L1166.2 846.3 L1167.7 844.9 L1169.2 843.5 L1170.6 842.2 L1172.1 840.8 L1173.6 839.5 L1175.0 838.1 L1176.5 836.8 L1178.0 835.4 L1179.5 834.1 L1180.9 832.7 L1182.4 831.4 L1183.9 830.0 L1185.4 828.7 L1186.9 827.3 L1188.4 826.0 L1189.9 824.7 L1191.4 823.3 L1192.9 822.0 L1194.4 820.7 L1195.8 819.4 L1197.3 818.0 L1198.8 816.7 L1200.3 815.4 L1201.8 814.1 L1203.4 812.8 L1204.9 811.5 L1206.4 810.2 L1207.9 808.9 L1209.5 807.6 L1211.0 806.3 L1212.6 805.0 L1214.1 803.8 L1215.6 802.5 L1217.2 801.2 L1218.7 799.9 L1220.3 798.6 L1221.8 797.4 L1223.3 796.1 L1224.9 794.8 L1226.4 793.5 L1227.9 792.2 L1229.4 790.9 L1230.9 789.6 L1232.4 788.3 L1233.9 786.9 L1235.4 785.6 L1236.9 784.3 L1238.4 782.9 L1239.9 781.6 L1241.3 780.2 L1242.7 778.8 L1244.1 777.4 L1245.5 775.9 L1247.0 774.6 L1248.5 773.3 L1250.1 772.1 L1251.7 770.9 L1253.3 769.7 L1254.9 768.5 L1256.5 767.3 L1258.1 766.1 L1259.6 764.8 L1261.2 763.6 L1262.8 762.3 L1264.3 761.1 L1265.9 759.9 L1267.5 758.6 L1269.0 757.4 L1270.6 756.1 L1272.2 754.9 L1273.7 753.6 L1275.3 752.4 L1276.8 751.1 L1278.4 749.9 L1279.9 748.6 L1281.5 747.4 L1283.1 746.1 L1284.6 744.9 L1286.2 743.6 L1287.8 742.4 L1289.4 741.2 L1290.9 740.0 L1292.5 738.8 L1294.1 737.5 L1295.7 736.3 L1297.3 735.1 L1298.9 733.9 L1300.5 732.7 L1302.2 731.6 L1303.8 730.5 L1305.5 729.4 L1307.2 728.4 L1309.0 727.5 L1310.8 726.5 L1312.6 725.6 L1314.4 724.7 L1316.1 723.8 L1317.9 722.9 L1319.7 721.9 L1321.4 720.9 L1323.1 719.8 L1324.7 718.7 L1326.3 717.5 L1327.9 716.3 L1329.5 715.1 L1331.0 713.8 L1332.6 712.5 L1334.1 711.2 L1335.5 709.8 L1337.0 708.4 L1338.4 707.0 L1339.8 705.6 L1341.3 704.2 L1342.7 702.8 L1344.2 701.5 L1345.7 700.2 L1347.3 699.0 L1348.9 697.9 L1350.6 696.7 L1352.2 695.6 L1353.9 694.6 L1355.6 693.5 L1357.4 692.4 L1359.1 691.4 L1360.8 690.3 L1362.5 689.3 L1364.2 688.3 L1365.9 687.2 L1367.6 686.2 L1369.3 685.1 L1371.0 684.1 L1372.7 683.1 L1374.4 682.0 L1376.1 681.0 L1377.9 680.0 L1379.6 678.9 L1381.3 677.9 L1383.0 676.9 L1384.7 675.8 L1386.4 674.8 L1388.2 673.8 L1389.9 672.8 L1391.6 671.8 L1393.3 670.8 L1395.1 669.8 L1396.8 668.8 L1398.5 667.8 L1400.3 666.8 L1402.0 665.8 L1403.8 664.9 L1405.5 663.9 L1407.3 662.9 L1409.0 662.0 L1410.8 661.0 L1412.5 660.1 L1414.3 659.1 L1416.1 658.2 L1417.8 657.2 L1419.6 656.3 L1421.4 655.4 L1423.2 654.5 L1424.9 653.5 L1426.7 652.6 L1428.5 651.7 L1430.3 650.8 L1432.0 649.9 L1433.8 649.0 L1435.6 648.1 L1437.4 647.2 L1439.2 646.3 L1441.0 645.4 L1442.7 644.4 L1444.5 643.5 L1446.3 642.6 L1448.1 641.7 L1449.9 640.8 L1451.7 639.9 L1453.5 639.0 L1455.2 638.1 L1457.0 637.3 L1458.8 636.4 L1460.6 635.5 L1462.4 634.6 L1464.2 633.7 L1466.0 632.8 L1467.8 631.9 L1469.6 631.0 L1471.4 630.1 L1473.2 629.2 L1474.9 628.3 L1476.7 627.5 L1478.5 626.6 L1480.3 625.7 L1482.1 624.8 L1483.9 623.9 L1485.7 623.0 L1487.5 622.2 L1489.3 621.3 L1491.1 620.4 L1492.9 619.5 L1494.7 618.6 L1496.5 617.8 L1498.3 616.9 L1500.1 616.0 L1501.9 615.1 L1503.7 614.3 L1505.5 613.4 L1507.3 612.5 L1509.1 611.7 L1510.9 610.8 L1512.7 609.9 L1514.5 609.1 L1516.3 608.2 L1518.1 607.3 L1519.9 606.5 L1521.8 605.6 L1523.6 604.8 L1525.4 604.0 L1527.2 603.1 L1529.0 602.3 L1530.8 601.4 L1532.6 600.6 L1534.5 599.8 L1536.3 599.0 L1538.1 598.1 L1539.9 597.3 L1541.8 596.5 L1543.6 595.7 L1545.4 594.9 L1547.3 594.1 L1549.1 593.4 L1550.9 592.6 L1552.8 591.8 L1554.6 591.0 L1556.5 590.3 L1558.3 589.5 L1560.2 588.7 L1562.0 588.0 L1563.9 587.2 L1565.7 586.5 L1567.6 585.8 L1569.4 585.0 L1571.3 584.3 L1573.2 583.6 L1575.0 582.9 L1576.9 582.1 L1578.8 581.4 L1580.6 580.7 L1582.5 580.0 L1584.4 579.3 L1586.2 578.6 L1588.1 577.9 L1590.0 577.2 L1591.9 576.5 L1593.7 575.7 L1595.6 575.0 L1597.5 574.3 L1599.3 573.6 L1601.2 572.9 L1603.1 572.2 L1605.0 571.5 L1606.8 570.8 L1608.7 570.0 L1610.6 569.3 L1612.4 568.6 L1614.3 567.8 L1616.1 567.1 L1618.0 566.4 L1619.8 565.6 L1621.7 564.9 L1623.6 564.1 L1625.4 563.3 L1627.3 562.6 L1629.1 561.8 L1630.9 561.0 L1632.8 560.2 L1634.6 559.4 L1636.5 558.6 L1638.3 557.8 L1640.1 557.0 L1642.0 556.2 L1643.8 555.4 L1645.6 554.6 L1647.4 553.8 L1649.3 552.9 L1651.1 552.1 L1652.9 551.3 L1654.7 550.5 L1656.6 549.6 L1658.4 548.8 L1660.2 548.0 L1662.0 547.2 L1663.9 546.3 L1665.7 545.5 L1667.5 544.7 L1669.4 543.9 L1671.2 543.1 L1673.0 542.3 L1674.9 541.5 L1676.7 540.7 L1678.5 539.9 L1680.4 539.2 L1682.2 538.4 L1684.1 537.7 L1685.9 536.9 L1687.8 536.2 L1689.6 535.5 L1691.5 534.7 L1693.4 534.0 L1695.2 533.3 L1697.1 532.7 L1699.0 532.0 L1700.9 531.3 L1702.8 530.7 L1704.7 530.1 L1706.6 529.4 L1708.5 528.8 L1710.4 528.2 L1712.3 527.6 L1714.2 527.0 L1716.1 526.4 L1718.0 525.8 L1719.9 525.3 L1721.8 524.7 L1723.7 524.1 L1725.7 523.6 L1727.6 523.0 L1729.5 522.4 L1731.4 521.9 L1733.4 521.4 L1735.3 520.9 L1737.3 520.4 L1739.2 520.0 L1741.2 519.5 L1743.1 518.9 L1745.0 518.4 L1746.9 517.7 L1748.7 517.0 L1750.5 516.2 L1752.3 515.3 L1754.1 514.4 L1755.9 513.4 L1757.7 512.4 L1759.4 511.5 L1761.3 510.7 L1763.1 509.9 L1765.0 509.2 L1767.1 508.4 L1769.0 507.8 L1770.8 507.5 L1772.1 508.7 L1773.3 510.8 L1774.6 511.2 L1775.8 510.5 L1777.1 509.3 L1778.4 507.5 L1779.6 505.5 L1780.9 503.2 L1782.1 500.8 L1783.4 498.5 L1784.6 496.3 L1785.7 494.4 L1786.9 492.9 L1788.0 491.9 L1789.1 491.6 L1790.1 492.5 L1791.0 494.5 L1791.9 497.1 L1792.8 499.6 L1793.7 501.5 L1794.8 502.2 L1796.1 501.9 L1797.6 501.2 L1799.1 500.2 L1800.8 498.9 L1802.5 497.5 L1804.3 496.0 L1806.1 494.5 L1807.9 493.1 L1809.8 492.0 L1811.6 491.2 L1813.4 490.5 L1815.3 489.9 L1817.2 489.3 L1819.1 488.7 L1821.0 488.1 L1822.9 487.5 L1824.8 486.8 L1826.7 486.2 L1828.6 485.5 L1830.5 484.9 L1832.4 484.3 L1834.3 483.6 L1836.2 483.0 L1838.1 482.4 L1840.0 481.7 L1841.9 481.1 L1843.8 480.5 L1845.7 479.9 L1847.6 479.2 L1849.5 478.6 L1851.4 477.9 L1853.3 477.3 L1855.2 476.6 L1857.0 475.9 L1858.9 475.2 L1860.8 474.5 L1862.7 473.8 L1864.5 473.1 L1866.4 472.4 L1868.3 471.7 L1870.1 471.0 L1872.0 470.2 L1873.9 469.5 L1875.7 468.8 L1877.6 468.0 L1879.4 467.3 L1881.3 466.5 L1883.1 465.8 L1885.0 465.0 L1886.9 464.3 L1888.7 463.6 L1890.6 462.8 L1892.4 462.1 L1894.3 461.3 L1896.2 460.6 L1898.0 459.9 L1899.9 459.2 L1901.8 458.5 L1903.6 457.8 L1905.5 457.1 L1907.4 456.4 L1909.3 455.7 L1911.1 455.0 L1913.0 454.3 L1914.9 453.6 L1916.8 453.0 L1918.7 452.3 L1920.6 451.6 L1922.4 451.0 L1924.3 450.4 L1926.2 449.7 L1928.1 449.1 L1930.0 448.4 L1931.9 447.8 L1933.8 447.2 L1935.7 446.6 L1937.6 445.9 L1939.5 445.3 L1941.4 444.7 L1943.3 444.1 L1945.2 443.5 L1947.1 442.9 L1949.0 442.2 L1950.9 441.6 L1952.9 441.0 L1954.8 440.4 L1956.7 439.8 L1958.6 439.2 L1960.5 438.6 L1962.4 438.0 L1964.3 437.4 L1966.2 436.8 L1968.1 436.2 L1970.0 435.6 L1971.9 435.0 L1973.9 434.4 L1975.8 433.9 L1977.7 433.3 L1979.6 432.7 L1981.5 432.1 L1983.4 431.5 L1985.3 431.0 L1987.3 430.4 L1989.2 429.8 L1991.1 429.3 L1993.0 428.7 L1994.9 428.1 L1996.8 427.6 L1998.8 427.0 L2000.7 426.5 L2002.6 426.1 L2004.6 425.6 L2006.6 425.2 L2008.5 424.8 L2010.5 424.5 L2012.5 424.2 L2014.5 424.0 L2016.5 423.9 L2018.6 423.9 L2020.7 423.8 L2022.6 423.8 L2024.3 423.6 L2025.7 422.5 L2027.1 420.8 L2028.4 419.0 L2029.7 417.4 L2031.3 415.9 L2032.8 414.3 L2034.4 412.7 L2036.1 411.1 L2037.7 409.6 L2039.3 408.3 L2040.9 407.3 L2042.5 406.7 L2044.0 406.5 L2045.3 407.6 L2046.6 409.6 L2047.9 411.7 L2049.4 412.8 L2050.9 412.8 L2052.6 412.5 L2054.3 412.0 L2056.1 411.3 L2058.0 410.4 L2059.9 409.5 L2061.8 408.5 L2063.8 407.6 L2065.8 406.6 L2067.8 405.7 L2069.8 404.9 L2071.8 404.3 L2073.8 403.8 L2075.7 403.6 L2077.6 403.7 L2079.5 403.9 L2081.3 404.4 L2083.2 405.1 L2085.1 405.9 L2087.0 406.7 L2088.8 407.6 L2090.7 408.5 L2092.6 409.4 L2094.5 410.1 L2096.4 410.8 L2098.4 411.4 L2100.4 412.0 L2102.4 412.5 L2104.2 412.6 L2105.8 412.0 L2107.3 410.7 L2108.8 409.0 L2110.3 407.3 L2111.7 405.9 L2113.2 404.5 L2114.5 403.1 L2115.9 401.6 L2117.4 400.2 L2118.8 398.9 L2120.4 397.6 L2122.0 396.4 L2123.6 395.2 L2125.2 394.0 L2126.9 392.9 L2128.6 391.8 L2130.3 390.7 L2132.0 389.7 L2133.8 389.0 L2135.7 388.4 L2137.6 387.9 L2139.6 387.4 L2141.6 386.9 L2143.6 386.6 L2145.6 386.3 L2147.6 386.1 L2149.6 386.1 L2151.5 386.1 L2153.6 386.1 L2155.6 386.0 L2157.6 386.0 L2159.6 386.0 L2161.6 385.9 L2163.5 385.8 L2165.5 385.6 L2167.5 385.4 L2169.5 385.2 L2171.5 384.9 L2173.5 384.7 L2175.5 384.5 L2177.4 384.2 L2179.4 384.0 L2181.4 383.7 L2183.4 383.5 L2185.4 383.2 L2187.4 383.0 L2189.4 382.7 L2191.3 382.5 L2193.3 382.2 L2195.3 381.9 L2197.3 381.7 L2199.3 381.4 L2201.3 381.2 L2203.3 380.9 L2205.2 380.7 L2207.2 380.4 L2209.2 380.2 L2211.2 379.9 L2213.2 379.7 L2215.2 379.5 L2217.2 379.2 L2219.2 379.0 L2221.1 378.8 L2223.1 378.5 L2225.1 378.3 L2227.1 378.1 L2229.1 377.8 L2231.1 377.6 L2233.1 377.3 L2235.0 377.1 L2237.0 376.8 L2239.0 376.6 L2241.0 376.3 L2243.0 376.0 L2245.0 375.8 L2246.9 375.5 L2248.9 375.2 L2250.9 374.9 L2252.9 374.6 L2254.8 374.3 L2256.8 374.0 L2258.8 373.6 L2260.8 373.3 L2262.7 373.0 L2264.7 372.6 L2266.7 372.3 L2268.6 371.9 L2270.6 371.6 L2272.6 371.3 L2274.5 370.9 L2276.5 370.6 L2278.5 370.3 L2280.4 369.9 L2282.4 369.6 L2284.3 369.3 L2286.3 369.0 L2288.2 368.7 L2290.2 368.4 L2292.1 368.0 L2294.0 367.7 L2296.0 367.4 L2298.0 367.1 L2300.0 366.9 L2302.0 366.6 L2304.0 366.3 L2306.1 366.0 L2308.1 365.8 L2310.1 365.6 L2312.1 365.3 L2314.1 365.1 L2315.0 365.0"/>
<path stroke="#ffc400" stroke-width="6" shape-rendering="auto" d="M401.0 1616.5 L403.0 1616.6 L405.0 1616.7 L407.0 1616.9 L409.0 1617.1 L411.0 1617.4 L412.9 1617.7 L414.9 1618.3 L416.8 1618.9 L418.7 1619.4 L420.7 1619.5 L422.7 1619.5 L424.6 1619.5 L426.6 1619.5 L428.6 1619.5 L430.6 1619.5 L432.6 1619.5 L434.5 1619.5 L436.5 1619.5 L438.5 1619.5 L440.5 1619.5 L442.5 1619.5 L444.5 1619.5 L446.6 1619.5 L448.6 1619.5 L450.6 1619.5 L452.6 1619.5 L454.6 1619.5 L456.6 1619.5 L458.6 1619.5 L460.6 1619.5 L462.6 1619.5 L464.6 1619.5 L466.7 1619.5 L468.7 1619.5 L470.7 1619.5 L472.7 1619.4 L474.7 1619.4 L476.7 1619.4 L478.7 1619.3 L480.7 1619.3 L482.7 1619.2 L484.7 1619.2 L486.7 1619.1 L488.7 1619.0 L490.7 1618.8 L492.7 1618.7 L494.7 1618.5 L496.7 1618.3 L498.6 1618.1 L500.6 1617.9 L502.6 1617.6 L504.6 1617.3 L506.5 1617.0 L508.5 1616.6 L510.4 1616.2 L512.4 1615.8 L514.3 1615.3 L516.2 1614.8 L518.1 1614.3 L520.0 1613.7 L521.9 1613.1 L523.8 1612.4 L525.6 1611.7 L527.5 1611.0 L529.3 1610.2 L531.1 1609.4 L532.8 1608.5 L534.6 1607.6 L536.3 1606.6 L538.0 1605.7 L539.7 1604.6 L541.3 1603.6 L543.0 1602.5 L544.6 1601.3 L546.2 1600.1 L547.7 1598.9 L549.3 1597.7 L550.8 1596.4 L552.3 1595.1 L553.8 1593.8 L555.2 1592.4 L556.7 1591.0 L558.1 1589.6 L559.5 1588.2 L561.0 1586.8 L562.4 1585.3 L563.7 1583.9 L565.1 1582.4 L566.5 1581.0 L567.9 1579.5 L569.2 1578.0 L570.6 1576.5 L571.9 1575.0 L573.3 1573.5 L574.6 1572.0 L575.9 1570.5 L577.3 1569.0 L578.6 1567.5 L579.9 1566.0 L581.2 1564.5 L582.5 1563.0 L583.8 1561.4 L585.1 1559.9 L586.3 1558.3 L587.6 1556.8 L588.9 1555.2 L590.1 1553.7 L591.4 1552.1 L592.6 1550.5 L593.9 1549.0 L595.1 1547.4 L596.3 1545.8 L597.6 1544.2 L598.8 1542.6 L600.0 1541.0 L601.2 1539.4 L602.3 1537.8 L603.5 1536.2 L604.7 1534.6 L605.9 1533.0 L607.0 1531.3 L608.2 1529.7 L609.3 1528.1 L610.4 1526.4 L611.6 1524.8 L612.7 1523.1 L613.8 1521.5 L614.9 1519.8 L616.0 1518.1 L617.1 1516.5 L618.1 1514.8 L619.2 1513.1 L620.3 1511.4 L621.3 1509.7 L622.4 1508.0 L623.5 1506.3 L624.5 1504.6 L625.5 1502.9 L626.6 1501.2 L627.6 1499.5 L628.7 1497.8 L629.7 1496.1 L630.7 1494.3 L631.7 1492.6 L632.8 1490.9 L633.8 1489.2 L634.8 1487.4 L635.8 1485.7 L636.8 1484.0 L637.9 1482.3 L638.9 1480.5 L639.9 1478.8 L640.9 1477.1 L641.9 1475.4 L642.9 1473.6 L643.9 1471.9 L645.0 1470.2 L646.0 1468.4 L647.0 1466.7 L648.0 1465.0 L649.0 1463.2 L650.0 1461.5 L651.0 1459.8 L652.0 1458.0 L653.0 1456.3 L654.0 1454.6 L655.0 1452.8 L655.9 1451.1 L656.9 1449.3 L657.9 1447.6 L658.9 1445.8 L659.9 1444.1 L660.9 1442.4 L661.8 1440.6 L662.8 1438.9 L663.8 1437.1 L664.8 1435.4 L665.8 1433.6 L666.7 1431.9 L667.7 1430.1 L668.7 1428.4 L669.7 1426.7 L670.7 1424.9 L671.7 1423.2 L672.7 1421.4 L673.7 1419.7 L674.7 1418.0 L675.7 1416.2 L676.7 1414.5 L677.7 1412.8 L678.7 1411.1 L679.7 1409.3 L680.7 1407.6 L681.7 1405.9 L682.8 1404.2 L683.8 1402.5 L684.8 1400.8 L685.9 1399.1 L686.9 1397.4 L688.0 1395.7 L689.1 1394.0 L690.1 1392.3 L691.2 1390.6 L692.3 1389.0 L693.4 1387.3 L694.5 1385.6 L695.5 1383.9 L696.6 1382.3 L697.7 1380.6 L698.9 1378.9 L700.0 1377.3 L701.1 1375.6 L702.2 1373.9 L703.3 1372.3 L704.5 1370.6 L705.6 1369.0 L706.7 1367.3 L707.9 1365.7 L709.0 1364.1 L710.2 1362.4 L711.3 1360.8 L712.5 1359.1 L713.7 1357.5 L714.8 1355.9 L716.0 1354.3 L717.2 1352.6 L718.4 1351.0 L719.5 1349.4 L720.7 1347.8 L721.9 1346.2 L723.1 1344.6 L724.3 1343.0 L725.5 1341.4 L726.7 1339.8 L728.0 1338.2 L729.2 1336.6 L730.4 1335.0 L731.6 1333.5 L732.9 1331.9 L734.1 1330.3 L735.3 1328.7 L736.6 1327.2 L737.8 1325.6 L739.1 1324.1 L740.4 1322.5 L741.6 1321.0 L742.9 1319.5 L744.2 1317.9 L745.4 1316.4 L746.7 1314.9 L748.0 1313.4 L749.3 1311.8 L750.6 1310.3 L751.9 1308.8 L753.3 1307.3 L754.6 1305.8 L755.9 1304.3 L757.2 1302.8 L758.6 1301.3 L759.9 1299.9 L761.2 1298.4 L762.6 1296.9 L764.0 1295.4 L765.3 1294.0 L766.7 1292.5 L768.0 1291.0 L769.4 1289.6 L770.8 1288.1 L772.2 1286.7 L773.5 1285.2 L774.9 1283.7 L776.3 1282.3 L777.7 1280.9 L779.1 1279.4 L780.5 1278.0 L781.9 1276.5 L783.3 1275.1 L784.7 1273.7 L786.1 1272.2 L787.5 1270.8 L788.9 1269.4 L790.3 1268.0 L791.7 1266.5 L793.1 1265.1 L794.5 1263.7 L795.9 1262.3 L797.4 1260.9 L798.8 1259.5 L800.2 1258.1 L801.6 1256.7 L803.1 1255.3 L804.5 1253.9 L805.9 1252.5 L807.4 1251.1 L808.8 1249.7 L810.2 1248.3 L811.7 1246.9 L813.1 1245.6 L814.6 1244.2 L816.0 1242.8 L817.5 1241.4 L818.9 1240.1 L820.4 1238.7 L821.9 1237.3 L823.3 1235.9 L824.8 1234.6 L826.2 1233.2 L827.7 1231.8 L829.1 1230.5 L830.6 1229.1 L832.1 1227.7 L833.5 1226.3 L835.0 1225.0 L836.4 1223.6 L837.9 1222.2 L839.3 1220.8 L840.8 1219.5 L842.2 1218.1 L843.7 1216.7 L845.1 1215.3 L846.6 1214.0 L848.1 1212.6 L849.5 1211.2 L851.0 1209.8 L852.4 1208.4 L853.9 1207.1 L855.3 1205.7 L856.8 1204.3 L858.2 1202.9 L859.6 1201.5 L861.1 1200.1 L862.5 1198.7 L863.9 1197.3 L865.4 1195.9 L866.8 1194.5 L868.2 1193.1 L869.6 1191.7 L871.0 1190.3 L872.4 1188.8 L873.8 1187.4 L875.2 1186.0 L876.6 1184.5 L877.9 1183.1 L879.3 1181.6 L880.6 1180.2 L882.0 1178.7 L883.3 1177.2 L884.7 1175.7 L886.0 1174.2 L887.3 1172.7 L888.6 1171.2 L889.9 1169.7 L891.2 1168.2 L892.5 1166.6 L893.8 1165.1 L895.1 1163.6 L896.3 1162.0 L897.6 1160.5 L898.9 1158.9 L900.1 1157.4 L901.4 1155.8 L902.6 1154.3 L903.9 1152.7 L905.1 1151.1 L906.4 1149.5 L907.6 1148.0 L908.8 1146.4 L910.0 1144.8 L911.3 1143.2 L912.5 1141.6 L913.7 1140.0 L914.9 1138.4 L916.1 1136.8 L917.3 1135.2 L918.5 1133.6 L919.7 1132.0 L920.9 1130.4 L922.0 1128.8 L923.2 1127.2 L924.4 1125.6 L925.6 1123.9 L926.7 1122.3 L927.9 1120.7 L929.1 1119.1 L930.2 1117.5 L931.4 1115.8 L932.6 1114.2 L933.7 1112.6 L934.9 1111.0 L936.1 1109.3 L937.3 1107.7 L938.4 1106.1 L939.6 1104.5 L940.8 1102.9 L941.9 1101.2 L943.1 1099.6 L944.3 1098.0 L945.5 1096.4 L946.7 1094.8 L947.8 1093.2 L949.0 1091.5 L950.2 1089.9 L951.4 1088.3 L952.6 1086.7 L953.8 1085.1 L955.0 1083.5 L956.2 1081.9 L957.4 1080.3 L958.6 1078.7 L959.8 1077.1 L961.0 1075.5 L962.2 1073.9 L963.4 1072.3 L964.6 1070.7 L965.9 1069.2 L967.1 1067.6 L968.3 1066.0 L969.5 1064.4 L970.8 1062.8 L972.0 1061.3 L973.2 1059.7 L974.5 1058.1 L975.7 1056.6 L977.0 1055.0 L978.2 1053.4 L979.5 1051.9 L980.7 1050.3 L982.0 1048.8 L983.3 1047.2 L984.5 1045.7 L985.8 1044.1 L987.1 1042.6 L988.3 1041.1 L989.6 1039.5 L990.9 1038.0 L992.2 1036.4 L993.5 1034.9 L994.7 1033.4 L996.0 1031.8 L997.3 1030.3 L998.6 1028.8 L999.9 1027.2 L1001.2 1025.7 L1002.5 1024.2 L1003.8 1022.7 L1005.1 1021.2 L1006.4 1019.6 L1007.7 1018.1 L1009.0 1016.6 L1010.3 1015.1 L1011.6 1013.6 L1013.0 1012.1 L1014.3 1010.6 L1015.6 1009.1 L1016.9 1007.6 L1018.2 1006.1 L1019.5 1004.6 L1020.9 1003.1 L1022.2 1001.6 L1023.5 1000.1 L1024.8 998.6 L1026.1 997.1 L1027.5 995.6 L1028.8 994.1 L1030.1 992.6 L1031.4 991.1 L1032.7 989.5 L1034.0 988.0 L1035.4 986.5 L1036.7 985.0 L1038.0 983.5 L1039.3 982.0 L1040.6 980.5 L1041.9 979.0 L1043.2 977.4 L1044.5 975.9 L1045.8 974.4 L1047.1 972.9 L1048.4 971.3 L1049.7 969.8 L1051.0 968.3 L1052.2 966.8 L1053.5 965.2 L1054.8 963.7 L1056.1 962.2 L1057.4 960.6 L1058.7 959.1 L1060.0 957.6 L1061.2 956.0 L1062.5 954.5 L1063.8 953.0 L1065.1 951.5 L1066.4 949.9 L1067.7 948.4 L1069.0 946.9 L1070.3 945.4 L1071.6 943.9 L1072.9 942.3 L1074.2 940.8 L1075.6 939.3 L1076.9 937.8 L1078.2 936.3 L1079.5 934.8 L1080.8 933.3 L1082.2 931.8 L1083.5 930.3 L1084.8 928.8 L1086.2 927.3 L1087.5 925.9 L1088.8 924.4 L1090.2 922.9 L1091.5 921.4 L1092.9 919.9 L1094.2 918.5 L1095.6 917.0 L1096.9 915.5 L1098.3 914.0 L1099.6 912.6 L1101.0 911.1 L1102.4 909.6 L1103.7 908.2 L1105.1 906.7 L1106.5 905.3 L1107.9 903.8 L1109.2 902.4 L1110.6 900.9 L1112.0 899.5 L1113.4 898.0 L1114.8 896.6 L1116.2 895.2 L1117.6 893.7 L1119.0 892.3 L1120.4 890.9 L1121.8 889.5 L1123.2 888.0 L1124.6 886.6 L1126.0 885.2 L1127.4 883.8 L1128.8 882.4 L1130.2 880.9 L1131.6 879.5 L1133.1 878.1 L1134.5 876.7 L1135.9 875.3 L1137.3 873.9 L1138.8 872.5 L1140.2 871.1 L1141.6 869.7 L1143.1 868.3 L1144.5 866.9 L1145.9 865.5 L1147.4 864.2 L1148.8 862.8 L1150.3 861.4 L1151.7 860.0 L1153.2 858.6 L1154.6 857.2 L1156.0 855.9 L1157.5 854.5 L1159.0 853.1 L1160.4 851.7 L1161.9 850.4 L1163.3 849.0 L1164.8 847.6 L1166.2 846.3 L1167.7 844.9 L1169.2 843.5 L1170.6 842.2 L1172.1 840.8 L1173.6 839.5 L1175.0 838.1 L1176.5 836.8 L1178.0 835.4 L1179.5 834.1 L1180.9 832.7 L1182.4 831.4 L1183.9 830.0 L1185.4 828.7 L1186.9 827.3 L1188.4 826.0 L1189.9 824.7 L1191.4 823.3 L1192.9 822.0 L1194.4 820.7 L1195.8 819.4 L1197.3 818.0 L1198.8 816.7 L1200.3 815.4 L1201.8 814.1 L1203.4 812.8 L1204.9 811.5 L1206.4 810.2 L1207.9 808.9 L1209.5 807.6 L1211.0 806.3 L1212.6 805.0 L1214.1 803.8 L1215.6 802.5 L1217.2 801.2 L1218.7 799.9 L1220.3 798.6 L1221.8 797.4 L1223.3 796.1 L1224.9 794.8 L1226.4 793.5 L1227.9 792.2 L1229.4 790.9 L1230.9 789.6 L1232.4 788.3 L1233.9 786.9 L1235.4 785.6 L1236.9 784.3 L1238.4 782.9 L1239.9 781.6 L1241.3 780.2 L1242.7 778.8 L1244.1 777.4 L1245.5 775.9 L1247.0 774.6 L1248.5 773.3 L1250.1 772.1 L1251.7 770.9 L1253.3 769.7 L1254.9 768.5 L1256.5 767.3 L1258.1 766.1 L1259.6 764.8 L1261.2 763.6 L1262.8 762.3 L1264.3 761.1 L1265.9 759.9 L1267.5 758.6 L1269.0 757.4 L1270.6 756.1 L1272.2 754.9 L1273.7 753.6 L1275.3 752.4 L1276.8 751.1 L1278.4 749.9 L1279.9 748.6 L1281.5 747.4 L1283.1 746.1 L1284.6 744.9 L1286.2 743.6 L1287.8 742.4 L1289.4 741.2 L1290.9 740.0 L1292.5 738.8 L1294.1 737.5 L1295.7 736.3 L1297.3 735.1 L1298.9 733.9 L1300.5 732.7 L1302.2 731.6 L1303.8 730.5 L1305.5 729.4 L1307.2 728.4 L1309.0 727.5 L1310.8 726.5 L1312.6 725.6 L1314.4 724.7 L1316.1 723.8 L1317.9 722.9 L1319.7 721.9 L1321.4 720.9 L1323.1 719.8 L1324.7 718.7 L1326.3 717.5 L1327.9 716.3 L1329.5 715.1 L1331.0 713.8 L1332.6 712.5 L1334.1 711.2 L1335.5 709.8 L1337.0 708.4 L1338.4 707.0 L1339.8 705.6 L1341.3 704.2 L1342.7 702.8 L1344.2 701.5 L1345.7 700.2 L1347.3 699.0 L1348.9 697.9 L1350.6 696.7 L1352.2 695.6 L1353.9 694.6 L1355.6 693.5 L1357.4 692.4 L1359.1 691.4 L1360.8 690.3 L1362.5 689.3 L1364.2 688.3 L1365.9 687.2 L1367.6 686.2 L1369.3 685.1 L1371.0 684.1 L1372.7 683.1 L1374.4 682.0 L1376.1 681.0 L1377.9 680.0 L1379.6 678.9 L1381.3 677.9 L1383.0 676.9 L1384.7 675.8 L1386.4 674.8 L1388.2 673.8 L1389.9 672.8 L1391.6 671.8 L1393.3 670.8 L1395.1 669.8 L1396.8 668.8 L1398.5 667.8 L1400.3 666.8 L1402.0 665.8 L1403.8 664.9 L1405.5 663.9 L1407.3 662.9 L1409.0 662.0 L1410.8 661.0 L1412.5 660.1 L1414.3 659.1 L1416.1 658.2 L1417.8 657.2 L1419.6 656.3 L1421.4 655.4 L1423.2 654.5 L1424.9 653.5 L1426.7 652.6 L1428.5 651.7 L1430.3 650.8 L1432.0 649.9 L1433.8 649.0 L1435.6 648.1 L1437.4 647.2 L1439.2 646.3 L1441.0 645.4 L1442.7 644.4 L1444.5 643.5 L1446.3 642.6 L1448.1 641.7 L1449.9 640.8 L1451.7 639.9 L1453.5 639.0 L1455.2 638.1 L1457.0 637.3 L1458.8 636.4 L1460.6 635.5 L1462.4 634.6 L1464.2 633.7 L1466.0 632.8 L1467.8 631.9 L1469.6 631.0 L1471.4 630.1 L1473.2 629.2 L1474.9 628.3 L1476.7 627.5 L1478.5 626.6 L1480.3 625.7 L1482.1 624.8 L1483.9 623.9 L1485.7 623.0 L1487.5 622.2 L1489.3 621.3 L1491.1 620.4 L1492.9 619.5 L1494.7 618.6 L1496.5 617.8 L1498.3 616.9 L1500.1 616.0 L1501.9 615.1 L1503.7 614.3 L1505.5 613.4 L1507.3 612.5 L1509.1 611.7 L1510.9 610.8 L1512.7 609.9 L1514.5 609.1 L1516.3 608.2 L1518.1 607.3 L1519.9 606.5 L1521.8 605.6 L1523.6 604.8 L1525.4 604.0 L1527.2 603.1 L1529.0 602.3 L1530.8 601.4 L1532.6 600.6 L1534.5 599.8 L1536.3 599.0 L1538.1 598.1 L1539.9 597.3 L1541.8 596.5 L1543.6 595.7 L1545.4 594.9 L1547.3 594.1 L1549.1 593.4 L1550.9 592.6 L1552.8 591.8 L1554.6 591.0 L1556.5 590.3 L1558.3 589.5 L1560.2 588.7 L1562.0 588.0 L1563.9 587.2 L1565.7 586.5 L1567.6 585.8 L1569.4 585.0 L1571.3 584.3 L1573.2 583.6 L1575.0 582.9 L1576.9 582.1 L1578.8 581.4 L1580.6 580.7 L1582.5 580.0 L1584.4 579.3 L1586.2 578.6 L1588.1 577.9 L1590.0 577.2 L1591.9 576.5 L1593.7 575.7 L1595.6 575.0 L1597.5 574.3 L1599.3 573.6 L1601.2 572.9 L1603.1 572.2 L1605.0 571.5 L1606.8 570.8 L1608.7 570.0 L1610.6 569.3 L1612.4 568.6 L1614.3 567.8 L1616.1 567.1 L1618.0 566.4 L1619.8 565.6 L1621.7 564.9 L1623.6 564.1 L1625.4 563.3 L1627.3 562.6 L1629.1 561.8 L1630.9 561.0 L1632.8 560.2 L1634.6 559.4 L1636.5 558.6 L1638.3 557.8 L1640.1 557.0 L1642.0 556.2 L1643.8 555.4 L1645.6 554.6 L1647.4 553.8 L1649.3 552.9 L1651.1 552.1 L1652.9 551.3 L1654.7 550.5 L1656.6 549.6 L1658.4 548.8 L1660.2 548.0 L1662.0 547.2 L1663.9 546.3 L1665.7 545.5 L1667.5 544.7 L1669.4 543.9 L1671.2 543.1 L1673.0 542.3 L1674.9 541.5 L1676.7 540.7 L1678.5 539.9 L1680.4 539.2 L1682.2 538.4 L1684.1 537.7 L1685.9 536.9 L1687.8 536.2 L1689.6 535.5 L1691.5 534.7 L1693.4 534.0 L1695.2 533.3 L1697.1 532.7 L1699.0 532.0 L1700.9 531.3 L1702.8 530.7 L1704.7 530.1 L1706.6 529.4 L1708.5 528.8 L1710.4 528.2 L1712.3 527.6 L1714.2 527.0 L1716.1 526.4 L1718.0 525.8 L1719.9 525.3 L1721.8 524.7 L1723.7 524.1 L1725.7 523.6 L1727.6 523.0 L1729.5 522.4 L1731.4 521.9 L1733.4 521.4 L1735.3 520.9 L1737.3 520.4 L1739.2 520.0 L1741.2 519.5 L1743.1 518.9 L1745.0 518.4 L1746.9 517.7 L1748.7 517.0 L1750.5 516.2 L1752.3 515.3 L1754.1 514.4 L1755.9 513.4 L1757.7 512.4 L1759.4 511.5 L1761.3 510.7 L1763.1 509.9 L1765.0 509.2 L1767.1 508.4 L1769.0 507.8 L1770.8 507.5 L1772.1 508.7 L1773.3 510.8 L1774.6 511.2 L1775.8 510.5 L1777.1 509.3 L1778.4 507.5 L1779.6 505.5 L1780.9 503.2 L1782.1 500.8 L1783.4 498.5 L1784.6 496.3 L1785.7 494.4 L1786.9 492.9 L1788.0 491.9 L1789.1 491.6 L1790.1 492.5 L1791.0 494.5 L1791.9 497.1 L1792.8 499.6 L1793.7 501.5 L1794.8 502.2 L1796.1 501.9 L1797.6 501.2 L1799.1 500.2 L1800.8 498.9 L1802.5 497.5 L1804.3 496.0 L1806.1 494.5 L1807.9 493.1 L1809.8 492.0 L1811.6 491.2 L1813.4 490.5 L1815.3 489.9 L1817.2 489.3 L1819.1 488.7 L1821.0 488.1 L1822.9 487.5 L1824.8 486.8 L1826.7 486.2 L1828.6 485.5 L1830.5 484.9 L1832.4 484.3 L1834.3 483.6 L1836.2 483.0 L1838.1 482.4 L1840.0 481.7 L1841.9 481.1 L1843.8 480.5 L1845.7 479.9 L1847.6 479.2 L1849.5 478.6 L1851.4 477.9 L1853.3 477.3 L1855.2 476.6 L1857.0 475.9 L1858.9 475.2 L1860.8 474.5 L1862.7 473.8 L1864.5 473.1 L1866.4 472.4 L1868.3 471.7 L1870.1 471.0 L1872.0 470.2 L1873.9 469.5 L1875.7 468.8 L1877.6 468.0 L1879.4 467.3 L1881.3 466.5 L1883.1 465.8 L1885.0 465.0 L1886.9 464.3 L1888.7 463.6 L1890.6 462.8 L1892.4 462.1 L1894.3 461.3 L1896.2 460.6 L1898.0 459.9 L1899.9 459.2 L1901.8 458.5 L1903.6 457.8 L1905.5 457.1 L1907.4 456.4 L1909.3 455.7 L1911.1 455.0 L1913.0 454.3 L1914.9 453.6 L1916.8 453.0 L1918.7 452.3 L1920.6 451.6 L1922.4 451.0 L1924.3 450.4 L1926.2 449.7 L1928.1 449.1 L1930.0 448.4 L1931.9 447.8 L1933.8 447.2 L1935.7 446.6 L1937.6 445.9 L1939.5 445.3 L1941.4 444.7 L1943.3 444.1 L1945.2 443.5 L1947.1 442.9 L1949.0 442.2 L1950.9 441.6 L1952.9 441.0 L1954.8 440.4 L1956.7 439.8 L1958.6 439.2 L1960.5 438.6 L1962.4 438.0 L1964.3 437.4 L1966.2 436.8 L1968.1 436.2 L1970.0 435.6 L1971.9 435.0 L1973.9 434.4 L1975.8 433.9 L1977.7 433.3 L1979.6 432.7 L1981.5 432.1 L1983.4 431.5 L1985.3 431.0 L1987.3 430.4 L1989.2 429.8 L1991.1 429.3 L1993.0 428.7 L1994.9 428.1 L1996.8 427.6 L1998.8 427.0 L2000.7 426.5 L2002.6 426.1 L2004.6 425.6 L2006.6 425.2 L2008.5 424.8 L2010.5 424.5 L2012.5 424.2 L2014.5 424.0 L2016.5 423.9 L2018.6 423.9 L2020.7 423.8 L2022.6 423.8 L2024.3 423.6 L2025.7 422.5 L2027.1 420.8 L2028.4 419.0 L2029.7 417.4 L2031.3 415.9 L2032.8 414.3 L2034.4 412.7 L2036.1 411.1 L2037.7 409.6 L2039.3 408.3 L2040.9 407.3 L2042.5 406.7 L2044.0 406.5 L2045.3 407.6 L2046.6 409.6 L2047.9 411.7 L2049.4 412.8 L2050.9 412.8 L2052.6 412.5 L2054.3 412.0 L2056.1 411.3 L2058.0 410.4 L2059.9 409.5 L2061.8 408.5 L2063.8 407.6 L2065.8 406.6 L2067.8 405.7 L2069.8 404.9 L2071.8 404.3 L2073.8 403.8 L2075.7 403.6 L2077.6 403.7 L2079.5 403.9 L2081.3 404.4 L2083.2 405.1 L2085.1 405.9 L2087.0 406.7 L2088.8 407.6 L2090.7 408.5 L2092.6 409.4 L2094.5 410.1 L2096.4 410.8 L2098.4 411.4 L2100.4 412.0 L2102.4 412.5 L2104.2 412.6 L2105.8 412.0 L2107.3 410.7 L2108.8 409.0 L2110.3 407.3 L2111.7 405.9 L2113.2 404.5 L2114.5 403.1 L2115.9 401.6 L2117.4 400.2 L2118.8 398.9 L2120.4 397.6 L2122.0 396.4 L2123.6 395.2 L2125.2 394.0 L2126.9 392.9 L2128.6 391.8 L2130.3 390.7 L2132.0 389.7 L2133.8 389.0 L2135.7 388.4 L2137.6 387.9 L2139.6 387.4 L2141.6 386.9 L2143.6 386.6 L2145.6 386.3 L2147.6 386.1 L2149.6 386.1 L2151.5 386.1 L2153.6 386.1 L2155.6 386.0 L2157.6 386.0 L2159.6 386.0 L2161.6 385.9 L2163.5 385.8 L2165.5 385.6 L2167.5 385.4 L2169.5 385.2 L2171.5 384.9 L2173.5 384.7 L2175.5 384.5 L2177.4 384.2 L2179.4 384.0 L2181.4 383.7 L2183.4 383.5 L2185.4 383.2 L2187.4 383.0 L2189.4 382.7 L2191.3 382.5 L2193.3 382.2 L2195.3 381.9 L2197.3 381.7 L2199.3 381.4 L2201.3 381.2 L2203.3 380.9 L2205.2 380.7 L2207.2 380.4 L2209.2 380.2 L2211.2 379.9 L2213.2 379.7 L2215.2 379.5 L2217.2 379.2 L2219.2 379.0 L2221.1 378.8 L2223.1 378.5 L2225.1 378.3 L2227.1 378.1 L2229.1 377.8 L2231.1 377.6 L2233.1 377.3 L2235.0 377.1 L2237.0 376.8 L2239.0 376.6 L2241.0 376.3 L2243.0 376.0 L2245.0 375.8 L2246.9 375.5 L2248.9 375.2 L2250.9 374.9 L2252.9 374.6 L2254.8 374.3 L2256.8 374.0 L2258.8 373.6 L2260.8 373.3 L2262.7 373.0 L2264.7 372.6 L2266.7 372.3 L2268.6 371.9 L2270.6 371.6 L2272.6 371.3 L2274.5 370.9 L2276.5 370.6 L2278.5 370.3 L2280.4 369.9 L2282.4 369.6 L2284.3 369.3 L2286.3 369.0 L2288.2 368.7 L2290.2 368.4 L2292.1 368.0 L2294.0 367.7 L2296.0 367.4 L2298.0 367.1 L2300.0 366.9 L2302.0 366.6 L2304.0 366.3 L2306.1 366.0 L2308.1 365.8 L2310.1 365.6 L2312.1 365.3 L2314.1 365.1 L2315.0 365.0"/>
<path stroke="#ff0000" d="M401.0 1618.5 L403.0 1618.7 L405.0 1618.9 L407.0 1619.1 L409.0 1619.3 L411.0 1619.4 L413.0 1619.5 L415.0 1619.5 L417.0 1619.5 L419.0 1619.5 L421.0 1619.5 L423.0 1619.5 L425.0 1619.5 L427.0 1619.5 L429.0 1619.5 L431.0 1619.5 L433.0 1619.5 L435.0 1619.5 L437.0 1619.5 L439.0 1619.5 L441.0 1619.5 L443.0 1619.5 L445.0 1619.5 L447.0 1619.5 L449.0 1619.5 L451.0 1619.5 L453.0 1619.5 L455.0 1619.5 L457.0 1619.5 L459.0 1619.5 L461.0 1619.5 L463.0 1619.5 L465.0 1619.5 L467.0 1619.5 L469.0 1619.5 L471.0 1619.5 L473.0 1619.5 L475.0 1619.5 L477.0 1619.5 L479.0 1619.5 L481.0 1619.4 L483.0 1619.4 L485.0 1619.4 L487.0 1619.4 L489.0 1619.3 L491.0 1619.3 L493.0 1619.2 L495.0 1619.1 L496.9 1619.0 L498.9 1618.9 L500.9 1618.8 L502.9 1618.6 L504.9 1618.4 L506.9 1618.2 L508.9 1618.0 L510.8 1617.8 L512.8 1617.5 L514.8 1617.2 L516.7 1616.8 L518.7 1616.4 L520.6 1616.0 L522.6 1615.6 L524.5 1615.1 L526.4 1614.6 L528.3 1614.0 L530.2 1613.4 L532.1 1612.8 L533.9 1612.1 L535.8 1611.4 L537.6 1610.7 L539.5 1609.9 L541.3 1609.1 L543.1 1608.3 L544.8 1607.4 L546.6 1606.5 L548.3 1605.5 L550.1 1604.5 L551.8 1603.5 L553.5 1602.5 L555.1 1601.4 L556.8 1600.3 L558.4 1599.2 L560.1 1598.0 L561.7 1596.8 L563.3 1595.6 L564.8 1594.4 L566.4 1593.2 L567.9 1591.9 L569.5 1590.6 L571.0 1589.3 L572.5 1588.0 L574.0 1586.7 L575.4 1585.3 L576.9 1583.9 L578.3 1582.6 L579.7 1581.2 L581.2 1579.8 L582.6 1578.3 L584.0 1576.9 L585.3 1575.5 L586.7 1574.0 L588.1 1572.6 L589.4 1571.1 L590.7 1569.6 L592.1 1568.1 L593.4 1566.6 L594.7 1565.1 L596.0 1563.6 L597.3 1562.1 L598.6 1560.5 L599.9 1559.0 L601.1 1557.5 L602.4 1555.9 L603.7 1554.3 L604.9 1552.8 L606.2 1551.2 L607.4 1549.6 L608.7 1548.1 L609.9 1546.5 L611.1 1544.9 L612.4 1543.3 L613.6 1541.7 L614.8 1540.2 L616.0 1538.6 L617.3 1537.0 L618.5 1535.4 L619.7 1533.8 L620.9 1532.2 L622.1 1530.6 L623.4 1529.0 L624.6 1527.4 L625.8 1525.8 L627.0 1524.2 L628.2 1522.6 L629.4 1521.0 L630.6 1519.4 L631.8 1517.8 L633.0 1516.2 L634.1 1514.6 L635.3 1513.0 L636.5 1511.4 L637.7 1509.8 L638.9 1508.2 L640.0 1506.5 L641.2 1504.9 L642.4 1503.3 L643.6 1501.7 L644.7 1500.1 L645.9 1498.4 L647.1 1496.8 L648.2 1495.2 L649.4 1493.6 L650.6 1491.9 L651.7 1490.3 L652.9 1488.7 L654.0 1487.0 L655.2 1485.4 L656.4 1483.8 L657.5 1482.2 L658.7 1480.5 L659.9 1478.9 L661.0 1477.3 L662.2 1475.6 L663.4 1474.0 L664.5 1472.4 L665.7 1470.8 L666.9 1469.1 L668.0 1467.5 L669.2 1465.9 L670.3 1464.3 L671.5 1462.6 L672.7 1461.0 L673.8 1459.4 L675.0 1457.7 L676.1 1456.1 L677.3 1454.5 L678.5 1452.8 L679.6 1451.2 L680.8 1449.5 L681.9 1447.9 L683.1 1446.3 L684.2 1444.6 L685.4 1443.0 L686.5 1441.3 L687.7 1439.7 L688.8 1438.1 L690.0 1436.4 L691.2 1434.8 L692.3 1433.2 L693.5 1431.5 L694.6 1429.9 L695.8 1428.3 L697.0 1426.6 L698.1 1425.0 L699.3 1423.4 L700.5 1421.8 L701.6 1420.1 L702.8 1418.5 L704.0 1416.9 L705.2 1415.3 L706.4 1413.7 L707.5 1412.1 L708.7 1410.5 L709.9 1408.9 L711.1 1407.3 L712.3 1405.7 L713.6 1404.1 L714.8 1402.5 L716.0 1401.0 L717.2 1399.4 L718.5 1397.8 L719.7 1396.3 L720.9 1394.7 L722.2 1393.1 L723.4 1391.6 L724.7 1390.0 L726.0 1388.5 L727.2 1387.0 L728.5 1385.4 L729.8 1383.9 L731.1 1382.4 L732.3 1380.8 L733.6 1379.3 L734.9 1377.8 L736.2 1376.3 L737.5 1374.8 L738.9 1373.3 L740.2 1371.8 L741.5 1370.2 L742.8 1368.7 L744.1 1367.3 L745.5 1365.8 L746.8 1364.3 L748.2 1362.8 L749.5 1361.3 L750.9 1359.8 L752.2 1358.3 L753.6 1356.9 L754.9 1355.4 L756.3 1353.9 L757.6 1352.4 L759.0 1351.0 L760.4 1349.5 L761.8 1348.1 L763.1 1346.6 L764.5 1345.2 L765.9 1343.7 L767.3 1342.3 L768.7 1340.8 L770.1 1339.4 L771.5 1338.0 L772.9 1336.5 L774.3 1335.1 L775.7 1333.7 L777.1 1332.3 L778.5 1330.8 L779.9 1329.4 L781.3 1328.0 L782.8 1326.6 L784.2 1325.2 L785.6 1323.8 L787.1 1322.4 L788.5 1321.0 L789.9 1319.7 L791.4 1318.3 L792.8 1316.9 L794.3 1315.6 L795.8 1314.2 L797.2 1312.8 L798.7 1311.5 L800.2 1310.2 L801.7 1308.8 L803.2 1307.5 L804.6 1306.2 L806.1 1304.8 L807.6 1303.5 L809.2 1302.2 L810.7 1300.9 L812.2 1299.6 L813.7 1298.3 L815.2 1297.0 L816.7 1295.7 L818.3 1294.4 L819.8 1293.1 L821.3 1291.8 L822.8 1290.5 L824.4 1289.2 L825.9 1287.9 L827.4 1286.6 L828.9 1285.3 L830.5 1284.0 L832.0 1282.6 L833.5 1281.3 L835.0 1280.0 L836.5 1278.7 L838.0 1277.4 L839.5 1276.1 L841.0 1274.8 L842.5 1273.4 L844.0 1272.1 L845.5 1270.8 L847.0 1269.4 L848.5 1268.1 L849.9 1266.7 L851.4 1265.4 L852.8 1264.0 L854.3 1262.6 L855.8 1261.2 L857.2 1259.9 L858.6 1258.5 L860.1 1257.1 L861.5 1255.7 L862.9 1254.3 L864.3 1252.9 L865.8 1251.5 L867.2 1250.0 L868.6 1248.6 L870.0 1247.2 L871.4 1245.8 L872.8 1244.3 L874.2 1242.9 L875.5 1241.4 L876.9 1240.0 L878.3 1238.5 L879.6 1237.0 L881.0 1235.6 L882.4 1234.1 L883.7 1232.6 L885.0 1231.1 L886.4 1229.6 L887.7 1228.1 L889.0 1226.6 L890.3 1225.1 L891.6 1223.6 L892.9 1222.1 L894.2 1220.6 L895.5 1219.0 L896.7 1217.5 L898.0 1215.9 L899.2 1214.4 L900.5 1212.8 L901.7 1211.2 L902.9 1209.7 L904.2 1208.1 L905.4 1206.5 L906.6 1204.9 L907.8 1203.3 L909.0 1201.7 L910.2 1200.1 L911.4 1198.5 L912.6 1196.9 L913.8 1195.3 L914.9 1193.7 L916.1 1192.1 L917.3 1190.4 L918.5 1188.8 L919.6 1187.2 L920.8 1185.6 L922.0 1183.9 L923.2 1182.3 L924.3 1180.7 L925.5 1179.1 L926.7 1177.5 L927.8 1175.8 L929.0 1174.2 L930.2 1172.6 L931.3 1170.9 L932.5 1169.3 L933.6 1167.7 L934.8 1166.1 L936.0 1164.4 L937.1 1162.8 L938.3 1161.2 L939.4 1159.5 L940.6 1157.9 L941.8 1156.3 L942.9 1154.6 L944.1 1153.0 L945.2 1151.4 L946.4 1149.7 L947.5 1148.1 L948.7 1146.5 L949.9 1144.9 L951.0 1143.2 L952.2 1141.6 L953.4 1140.0 L954.5 1138.4 L955.7 1136.8 L956.9 1135.1 L958.1 1133.5 L959.3 1131.9 L960.4 1130.3 L961.6 1128.7 L962.8 1127.1 L964.0 1125.5 L965.2 1123.8 L966.4 1122.2 L967.6 1120.6 L968.7 1119.0 L969.9 1117.4 L971.1 1115.8 L972.3 1114.2 L973.5 1112.6 L974.7 1111.0 L975.9 1109.4 L977.1 1107.8 L978.3 1106.2 L979.5 1104.6 L980.7 1103.0 L981.9 1101.4 L983.1 1099.8 L984.3 1098.2 L985.5 1096.6 L986.7 1095.0 L987.9 1093.4 L989.2 1091.8 L990.4 1090.2 L991.6 1088.6 L992.8 1087.1 L994.0 1085.5 L995.2 1083.9 L996.4 1082.3 L997.6 1080.7 L998.9 1079.1 L1000.1 1077.5 L1001.3 1075.9 L1002.5 1074.4 L1003.8 1072.8 L1005.0 1071.2 L1006.2 1069.6 L1007.5 1068.1 L1008.7 1066.5 L1010.0 1064.9 L1011.2 1063.4 L1012.5 1061.8 L1013.7 1060.3 L1015.0 1058.7 L1016.2 1057.1 L1017.5 1055.6 L1018.7 1054.0 L1020.0 1052.5 L1021.2 1050.9 L1022.5 1049.4 L1023.8 1047.8 L1025.0 1046.3 L1026.3 1044.7 L1027.6 1043.2 L1028.9 1041.6 L1030.1 1040.1 L1031.4 1038.6 L1032.7 1037.0 L1034.0 1035.5 L1035.2 1033.9 L1036.5 1032.4 L1037.8 1030.9 L1039.1 1029.3 L1040.3 1027.8 L1041.6 1026.2 L1042.9 1024.7 L1044.2 1023.2 L1045.4 1021.6 L1046.7 1020.1 L1048.0 1018.5 L1049.3 1017.0 L1050.5 1015.4 L1051.8 1013.9 L1053.1 1012.4 L1054.4 1010.8 L1055.6 1009.3 L1056.9 1007.7 L1058.2 1006.2 L1059.4 1004.6 L1060.7 1003.1 L1062.0 1001.6 L1063.3 1000.0 L1064.5 998.5 L1065.8 996.9 L1067.1 995.4 L1068.4 993.9 L1069.6 992.3 L1070.9 990.8 L1072.2 989.2 L1073.5 987.7 L1074.8 986.2 L1076.1 984.7 L1077.4 983.1 L1078.6 981.6 L1079.9 980.1 L1081.2 978.5 L1082.5 977.0 L1083.8 975.5 L1085.1 974.0 L1086.4 972.5 L1087.7 970.9 L1089.0 969.4 L1090.3 967.9 L1091.7 966.4 L1093.0 964.9 L1094.3 963.4 L1095.6 961.9 L1096.9 960.4 L1098.2 958.9 L1099.5 957.4 L1100.9 955.9 L1102.2 954.4 L1103.5 952.9 L1104.8 951.4 L1106.2 949.9 L1107.5 948.4 L1108.8 946.9 L1110.2 945.4 L1111.5 943.9 L1112.9 942.4 L1114.2 941.0 L1115.5 939.5 L1116.9 938.0 L1118.2 936.5 L1119.6 935.1 L1121.0 933.6 L1122.3 932.1 L1123.7 930.7 L1125.0 929.2 L1126.4 927.7 L1127.8 926.3 L1129.2 924.8 L1130.5 923.4 L1131.9 921.9 L1133.3 920.5 L1134.7 919.0 L1136.0 917.6 L1137.4 916.1 L1138.8 914.7 L1140.2 913.2 L1141.6 911.8 L1143.0 910.4 L1144.4 908.9 L1145.8 907.5 L1147.1 906.1 L1148.5 904.6 L1149.9 903.2 L1151.3 901.8 L1152.7 900.3 L1154.1 898.9 L1155.5 897.5 L1156.9 896.1 L1158.4 894.6 L1159.8 893.2 L1161.2 891.8 L1162.6 890.4 L1164.0 889.0 L1165.4 887.6 L1166.8 886.1 L1168.2 884.7 L1169.7 883.3 L1171.1 881.9 L1172.5 880.5 L1173.9 879.1 L1175.4 877.7 L1176.8 876.3 L1178.2 874.9 L1179.6 873.5 L1181.1 872.1 L1182.5 870.7 L1183.9 869.3 L1185.4 867.9 L1186.8 866.5 L1188.3 865.1 L1189.7 863.8 L1191.1 862.4 L1192.6 861.0 L1194.0 859.6 L1195.5 858.2 L1196.9 856.8 L1198.4 855.5 L1199.8 854.1 L1201.3 852.7 L1202.7 851.3 L1204.2 849.9 L1205.6 848.6 L1207.1 847.2 L1208.5 845.8 L1210.0 844.5 L1211.5 843.1 L1212.9 841.8 L1214.4 840.4 L1215.9 839.1 L1217.4 837.7 L1218.8 836.3 L1220.3 835.0 L1221.8 833.6 L1223.2 832.3 L1224.7 830.9 L1226.2 829.6 L1227.6 828.2 L1229.1 826.9 L1230.6 825.5 L1232.1 824.1 L1233.5 822.8 L1235.0 821.4 L1236.5 820.1 L1237.9 818.7 L1239.4 817.3 L1240.8 816.0 L1242.3 814.6 L1243.8 813.2 L1245.2 811.8 L1246.7 810.4 L1248.1 809.1 L1249.6 807.7 L1251.0 806.3 L1252.5 804.9 L1253.9 803.6 L1255.4 802.2 L1256.9 800.8 L1258.3 799.5 L1259.8 798.1 L1261.3 796.8 L1262.7 795.4 L1264.2 794.1 L1265.7 792.7 L1267.2 791.4 L1268.7 790.1 L1270.2 788.8 L1271.7 787.4 L1273.2 786.1 L1274.7 784.8 L1276.2 783.5 L1277.8 782.3 L1279.3 781.0 L1280.8 779.7 L1282.4 778.4 L1283.9 777.2 L1285.5 775.9 L1287.1 774.7 L1288.6 773.4 L1290.2 772.2 L1291.8 771.0 L1293.3 769.7 L1294.9 768.5 L1296.5 767.3 L1298.1 766.0 L1299.6 764.8 L1301.2 763.6 L1302.8 762.4 L1304.4 761.1 L1306.0 759.9 L1307.6 758.7 L1309.2 757.5 L1310.8 756.3 L1312.4 755.1 L1314.0 753.9 L1315.6 752.7 L1317.2 751.5 L1318.8 750.3 L1320.4 749.1 L1322.0 747.9 L1323.6 746.7 L1325.2 745.5 L1326.8 744.4 L1328.4 743.2 L1330.0 742.0 L1331.7 740.8 L1333.3 739.7 L1334.9 738.5 L1336.5 737.3 L1338.1 736.1 L1339.8 735.0 L1341.4 733.8 L1343.0 732.7 L1344.7 731.5 L1346.3 730.3 L1347.9 729.2 L1349.6 728.0 L1351.2 726.9 L1352.8 725.7 L1354.5 724.6 L1356.1 723.5 L1357.8 722.3 L1359.5 721.2 L1361.1 720.2 L1362.8 719.1 L1364.5 718.0 L1366.2 717.0 L1367.9 715.9 L1369.6 714.9 L1371.3 713.8 L1373.0 712.7 L1374.7 711.7 L1376.4 710.6 L1378.1 709.6 L1379.8 708.5 L1381.5 707.5 L1383.2 706.5 L1384.9 705.4 L1386.7 704.4 L1388.4 703.4 L1390.1 702.4 L1391.8 701.4 L1393.6 700.4 L1395.3 699.4 L1397.0 698.4 L1398.8 697.4 L1400.5 696.4 L1402.2 695.4 L1404.0 694.4 L1405.7 693.5 L1407.5 692.5 L1409.2 691.5 L1411.0 690.6 L1412.8 689.6 L1414.5 688.7 L1416.3 687.7 L1418.0 686.8 L1419.8 685.9 L1421.6 684.9 L1423.3 684.0 L1425.1 683.0 L1426.9 682.1 L1428.7 681.2 L1430.4 680.2 L1432.2 679.3 L1434.0 678.3 L1435.7 677.4 L1437.5 676.5 L1439.3 675.5 L1441.0 674.6 L1442.8 673.6 L1444.6 672.7 L1446.3 671.8 L1448.1 670.8 L1449.9 669.9 L1451.7 669.0 L1453.4 668.1 L1455.2 667.2 L1457.0 666.3 L1458.8 665.4 L1460.6 664.6 L1462.4 663.7 L1464.2 662.9 L1466.0 662.1 L1467.9 661.2 L1469.7 660.4 L1471.5 659.6 L1473.3 658.8 L1475.1 658.0 L1477.0 657.2 L1478.8 656.4 L1480.6 655.6 L1482.4 654.8 L1484.2 654.0 L1486.0 653.2 L1487.9 652.3 L1489.7 651.5 L1491.5 650.6 L1493.2 649.7 L1495.0 648.9 L1496.8 648.0 L1498.6 647.1 L1500.4 646.1 L1502.2 645.2 L1503.9 644.3 L1505.7 643.4 L1507.5 642.4 L1509.2 641.5 L1511.0 640.5 L1512.7 639.5 L1514.5 638.6 L1516.3 637.6 L1518.0 636.7 L1519.8 635.7 L1521.5 634.7 L1523.3 633.7 L1525.1 632.8 L1526.8 631.8 L1528.6 630.8 L1530.3 629.9 L1532.1 628.9 L1533.9 628.0 L1535.6 627.0 L1537.4 626.1 L1539.2 625.2 L1540.9 624.2 L1542.7 623.3 L1544.5 622.4 L1546.3 621.5 L1548.1 620.6 L1549.9 619.7 L1551.6 618.8 L1553.4 617.9 L1555.2 617.0 L1557.0 616.1 L1558.8 615.3 L1560.6 614.4 L1562.4 613.6 L1564.3 612.7 L1566.1 611.8 L1567.9 611.0 L1569.7 610.1 L1571.5 609.3 L1573.3 608.5 L1575.1 607.6 L1576.9 606.8 L1578.8 605.9 L1580.6 605.1 L1582.4 604.3 L1584.2 603.5 L1586.0 602.6 L1587.9 601.8 L1589.7 601.0 L1591.5 600.1 L1593.3 599.3 L1595.1 598.5 L1597.0 597.7 L1598.8 596.8 L1600.6 596.0 L1602.4 595.2 L1604.3 594.4 L1606.1 593.6 L1607.9 592.7 L1609.7 591.9 L1611.6 591.1 L1613.4 590.2 L1615.2 589.4 L1617.0 588.6 L1618.8 587.8 L1620.7 586.9 L1622.5 586.1 L1624.3 585.3 L1626.1 584.4 L1627.9 583.6 L1629.7 582.7 L1631.6 581.9 L1633.4 581.1 L1635.2 580.2 L1637.0 579.4 L1638.8 578.5 L1640.6 577.7 L1642.4 576.8 L1644.2 576.0 L1646.1 575.1 L1647.9 574.3 L1649.7 573.4 L1651.5 572.5 L1653.3 571.7 L1655.1 570.8 L1656.9 570.0 L1658.7 569.1 L1660.6 568.3 L1662.4 567.4 L1664.2 566.6 L1666.0 565.8 L1667.8 564.9 L1669.6 564.1 L1671.4 563.3 L1673.3 562.4 L1675.1 561.6 L1676.9 560.8 L1678.7 560.0 L1680.6 559.2 L1682.4 558.4 L1684.2 557.6 L1686.1 556.8 L1687.9 556.0 L1689.7 555.2 L1691.6 554.5 L1693.4 553.7 L1695.3 552.9 L1697.1 552.2 L1699.0 551.4 L1700.8 550.7 L1702.7 550.0 L1704.6 549.3 L1706.4 548.6 L1708.3 547.9 L1710.2 547.1 L1712.1 546.5 L1713.9 545.8 L1715.8 545.1 L1717.7 544.4 L1719.6 543.7 L1721.4 543.0 L1723.3 542.4 L1725.2 541.7 L1727.1 541.0 L1729.0 540.3 L1730.9 539.7 L1732.8 539.0 L1734.7 538.4 L1736.6 537.7 L1738.5 537.1 L1740.4 536.4 L1742.2 535.8 L1744.1 535.1 L1746.0 534.3 L1747.8 533.5 L1749.6 532.7 L1751.4 531.8 L1753.1 530.8 L1754.9 529.9 L1756.6 528.9 L1758.4 527.9 L1760.1 526.9 L1761.9 526.0 L1763.7 525.1 L1765.5 524.0 L1767.3 522.9 L1769.2 522.0 L1770.9 521.6 L1772.6 522.5 L1774.2 524.2 L1775.7 525.5 L1777.1 525.4 L1778.4 524.4 L1779.6 522.8 L1780.8 520.8 L1781.9 518.4 L1783.0 516.1 L1784.2 513.8 L1785.3 511.9 L1786.6 510.4 L1787.9 509.7 L1789.3 509.9 L1790.8 511.2 L1792.5 513.0 L1794.1 514.4 L1795.8 514.8 L1797.5 514.5 L1799.3 513.8 L1801.1 512.9 L1802.8 511.9 L1804.7 510.7 L1806.5 509.5 L1808.3 508.3 L1810.1 507.3 L1811.9 506.4 L1813.8 505.6 L1815.6 504.8 L1817.4 504.0 L1819.2 503.2 L1821.1 502.4 L1822.9 501.6 L1824.7 500.8 L1826.5 500.0 L1828.4 499.2 L1830.2 498.3 L1832.0 497.5 L1833.8 496.7 L1835.6 495.8 L1837.5 495.0 L1839.3 494.2 L1841.1 493.3 L1842.9 492.5 L1844.8 491.7 L1846.6 490.9 L1848.4 490.1 L1850.2 489.3 L1852.1 488.4 L1853.9 487.6 L1855.7 486.8 L1857.6 486.0 L1859.4 485.2 L1861.2 484.5 L1863.1 483.7 L1864.9 482.9 L1866.7 482.1 L1868.6 481.3 L1870.4 480.6 L1872.3 479.8 L1874.1 479.0 L1876.0 478.3 L1877.8 477.5 L1879.7 476.7 L1881.5 476.0 L1883.4 475.2 L1885.2 474.5 L1887.1 473.7 L1888.9 473.0 L1890.8 472.2 L1892.6 471.5 L1894.5 470.7 L1896.4 470.0 L1898.2 469.2 L1900.1 468.5 L1901.9 467.7 L1903.8 467.0 L1905.6 466.2 L1907.5 465.5 L1909.3 464.7 L1911.2 464.0 L1913.1 463.2 L1914.9 462.5 L1916.8 461.7 L1918.6 461.0 L1920.5 460.2 L1922.3 459.5 L1924.2 458.7 L1926.0 458.0 L1927.9 457.2 L1929.8 456.4 L1931.6 455.7 L1933.5 454.9 L1935.3 454.2 L1937.2 453.4 L1939.0 452.7 L1940.9 452.0 L1942.8 451.2 L1944.6 450.5 L1946.5 449.8 L1948.3 449.0 L1950.2 448.3 L1952.1 447.6 L1953.9 446.9 L1955.8 446.2 L1957.7 445.5 L1959.6 444.8 L1961.4 444.1 L1963.3 443.4 L1965.2 442.8 L1967.1 442.1 L1969.0 441.5 L1970.9 440.8 L1972.8 440.2 L1974.7 439.6 L1976.6 439.0 L1978.5 438.4 L1980.4 437.8 L1982.3 437.2 L1984.2 436.6 L1986.1 436.0 L1988.0 435.5 L1989.9 434.9 L1991.9 434.3 L1993.8 433.8 L1995.7 433.2 L1997.6 432.7 L1999.6 432.1 L2001.5 431.6 L2003.4 431.1 L2005.3 430.6 L2007.3 430.0 L2009.2 429.5 L2011.2 429.0 L2013.1 428.5 L2015.0 428.0 L2017.0 427.6 L2019.0 427.2 L2021.0 426.7 L2022.9 426.2 L2024.7 425.6 L2026.3 424.7 L2027.9 423.4 L2029.3 422.0 L2030.8 420.5 L2032.3 419.1 L2033.9 417.8 L2035.6 416.7 L2037.3 415.5 L2039.1 414.4 L2041.0 413.7 L2042.8 413.4 L2044.7 414.0 L2046.6 415.0 L2048.5 415.4 L2050.3 415.1 L2052.2 414.4 L2054.0 413.5 L2055.8 412.5 L2057.7 411.5 L2059.6 410.7 L2061.5 410.1 L2063.4 409.5 L2065.3 408.9 L2067.2 408.3 L2069.1 407.7 L2071.1 407.3 L2073.0 406.8 L2075.0 406.5 L2076.9 406.1 L2078.9 405.8 L2080.9 405.6 L2082.9 405.6 L2084.9 405.8 L2086.9 405.9 L2088.9 406.2 L2090.9 406.4 L2092.9 406.6 L2094.9 406.8 L2096.9 407.0 L2098.9 407.2 L2100.9 407.4 L2102.9 407.5 L2104.8 407.4 L2106.6 406.7 L2108.4 405.6 L2110.1 404.4 L2111.8 403.3 L2113.4 402.2 L2115.1 401.0 L2116.7 399.8 L2118.3 398.7 L2120.0 397.6 L2121.7 396.5 L2123.4 395.4 L2125.2 394.5 L2127.0 393.7 L2128.8 392.9 L2130.7 392.3 L2132.6 391.7 L2134.6 391.2 L2136.5 390.7 L2138.4 390.3 L2140.4 389.9 L2142.4 389.6 L2144.4 389.2 L2146.3 388.9 L2148.3 388.6 L2150.3 388.3 L2152.3 388.1 L2154.3 387.9 L2156.3 387.6 L2158.3 387.4 L2160.2 387.2 L2162.2 386.9 L2164.2 386.6 L2166.2 386.4 L2168.2 386.1 L2170.1 385.8 L2172.1 385.5 L2174.1 385.3 L2176.1 385.0 L2178.1 384.7 L2180.1 384.5 L2182.0 384.2 L2184.0 383.9 L2186.0 383.6 L2188.0 383.4 L2190.0 383.1 L2191.9 382.8 L2193.9 382.6 L2195.9 382.3 L2197.9 382.1 L2199.9 381.8 L2201.9 381.5 L2203.8 381.3 L2205.8 381.0 L2207.8 380.8 L2209.8 380.5 L2211.8 380.3 L2213.8 380.1 L2215.8 379.8 L2217.8 379.6 L2219.7 379.3 L2221.7 379.1 L2223.7 378.9 L2225.7 378.6 L2227.7 378.4 L2229.7 378.1 L2231.7 377.9 L2233.6 377.6 L2235.6 377.4 L2237.6 377.1 L2239.6 376.8 L2241.6 376.6 L2243.5 376.3 L2245.5 376.0 L2247.5 375.7 L2249.5 375.4 L2251.4 375.1 L2253.4 374.8 L2255.4 374.4 L2257.4 374.1 L2259.3 373.7 L2261.3 373.4 L2263.3 373.0 L2265.2 372.7 L2267.2 372.3 L2269.1 371.9 L2271.1 371.6 L2273.1 371.2 L2275.0 370.8 L2277.0 370.5 L2279.0 370.1 L2280.9 369.7 L2282.9 369.4 L2284.8 369.0 L2286.7 368.7 L2288.7 368.4 L2290.6 368.0 L2292.5 367.7 L2294.5 367.4 L2296.4 367.0 L2298.4 366.7 L2300.4 366.4 L2302.4 366.1 L2304.5 365.8 L2306.5 365.5 L2308.5 365.2 L2310.5 365.0 L2312.5 364.7 L2314.5 364.5 L2315.0 364.4"/>
<path stroke="#ff0000" stroke-width="6" shape-rendering="auto" d="M401.0 1618.5 L403.0 1618.7 L405.0 1618.9 L407.0 1619.1 L409.0 1619.3 L411.0 1619.4 L413.0 1619.5 L415.0 1619.5 L417.0 1619.5 L419.0 1619.5 L421.0 1619.5 L423.0 1619.5 L425.0 1619.5 L427.0 1619.5 L429.0 1619.5 L431.0 1619.5 L433.0 1619.5 L435.0 1619.5 L437.0 1619.5 L439.0 1619.5 L441.0 1619.5 L443.0 1619.5 L445.0 1619.5 L447.0 1619.5 L449.0 1619.5 L451.0 1619.5 L453.0 1619.5 L455.0 1619.5 L457.0 1619.5 L459.0 1619.5 L461.0 1619.5 L463.0 1619.5 L465.0 1619.5 L467.0 1619.5 L469.0 1619.5 L471.0 1619.5 L473.0 1619.5 L475.0 1619.5 L477.0 1619.5 L479.0 1619.5 L481.0 1619.4 L483.0 1619.4 L485.0 1619.4 L487.0 1619.4 L489.0 1619.3 L491.0 1619.3 L493.0 1619.2 L495.0 1619.1 L496.9 1619.0 L498.9 1618.9 L500.9 1618.8 L502.9 1618.6 L504.9 1618.4 L506.9 1618.2 L508.9 1618.0 L510.8 1617.8 L512.8 1617.5 L514.8 1617.2 L516.7 1616.8 L518.7 1616.4 L520.6 1616.0 L522.6 1615.6 L524.5 1615.1 L526.4 1614.6 L528.3 1614.0 L530.2 1613.4 L532.1 1612.8 L533.9 1612.1 L535.8 1611.4 L537.6 1610.7 L539.5 1609.9 L541.3 1609.1 L543.1 1608.3 L544.8 1607.4 L546.6 1606.5 L548.3 1605.5 L550.1 1604.5 L551.8 1603.5 L553.5 1602.5 L555.1 1601.4 L556.8 1600.3 L558.4 1599.2 L560.1 1598.0 L561.7 1596.8 L563.3 1595.6 L564.8 1594.4 L566.4 1593.2 L567.9 1591.9 L569.5 1590.6 L571.0 1589.3 L572.5 1588.0 L574.0 1586.7 L575.4 1585.3 L576.9 1583.9 L578.3 1582.6 L579.7 1581.2 L581.2 1579.8 L582.6 1578.3 L584.0 1576.9 L585.3 1575.5 L586.7 1574.0 L588.1 1572.6 L589.4 1571.1 L590.7 1569.6 L592.1 1568.1 L593.4 1566.6 L594.7 1565.1 L596.0 1563.6 L597.3 1562.1 L598.6 1560.5 L599.9 1559.0 L601.1 1557.5 L602.4 1555.9 L603.7 1554.3 L604.9 1552.8 L606.2 1551.2 L607.4 1549.6 L608.7 1548.1 L609.9 1546.5 L611.1 1544.9 L612.4 1543.3 L613.6 1541.7 L614.8 1540.2 L616.0 1538.6 L617.3 1537.0 L618.5 1535.4 L619.7 1533.8 L620.9 1532.2 L622.1 1530.6 L623.4 1529.0 L624.6 1527.4 L625.8 1525.8 L627.0 1524.2 L628.2 1522.6 L629.4 1521.0 L630.6 1519.4 L631.8 1517.8 L633.0 1516.2 L634.1 1514.6 L635.3 1513.0 L636.5 1511.4 L637.7 1509.8 L638.9 1508.2 L640.0 1506.5 L641.2 1504.9 L642.4 1503.3 L643.6 1501.7 L644.7 1500.1 L645.9 1498.4 L647.1 1496.8 L648.2 1495.2 L649.4 1493.6 L650.6 1491.9 L651.7 1490.3 L652.9 1488.7 L654.0 1487.0 L655.2 1485.4 L656.4 1483.8 L657.5 1482.2 L658.7 1480.5 L659.9 1478.9 L661.0 1477.3 L662.2 1475.6 L663.4 1474.0 L664.5 1472.4 L665.7 1470.8 L666.9 1469.1 L668.0 1467.5 L669.2 1465.9 L670.3 1464.3 L671.5 1462.6 L672.7 1461.0 L673.8 1459.4 L675.0 1457.7 L676.1 1456.1 L677.3 1454.5 L678.5 1452.8 L679.6 1451.2 L680.8 1449.5 L681.9 1447.9 L683.1 1446.3 L684.2 1444.6 L685.4 1443.0 L686.5 1441.3 L687.7 1439.7 L688.8 1438.1 L690.0 1436.4 L691.2 1434.8 L692.3 1433.2 L693.5 1431.5 L694.6 1429.9 L695.8 1428.3 L697.0 1426.6 L698.1 1425.0 L699.3 1423.4 L700.5 1421.8 L701.6 1420.1 L702.8 1418.5 L704.0 1416.9 L705.2 1415.3 L706.4 1413.7 L707.5 1412.1 L708.7 1410.5 L709.9 1408.9 L711.1 1407.3 L712.3 1405.7 L713.6 1404.1 L714.8 1402.5 L716.0 1401.0 L717.2 1399.4 L718.5 1397.8 L719.7 1396.3 L720.9 1394.7 L722.2 1393.1 L723.4 1391.6 L724.7 1390.0 L726.0 1388.5 L727.2 1387.0 L728.5 1385.4 L729.8 1383.9 L731.1 1382.4 L732.3 1380.8 L733.6 1379.3 L734.9 1377.8 L736.2 1376.3 L737.5 1374.8 L738.9 1373.3 L740.2 1371.8 L741.5 1370.2 L742.8 1368.7 L744.1 1367.3 L745.5 1365.8 L746.8 1364.3 L748.2 1362.8 L749.5 1361.3 L750.9 1359.8 L752.2 1358.3 L753.6 1356.9 L754.9 1355.4 L756.3 1353.9 L757.6 1352.4 L759.0 1351.0 L760.4 1349.5 L761.8 1348.1 L763.1 1346.6 L764.5 1345.2 L765.9 1343.7 L767.3 1342.3 L768.7 1340.8 L770.1 1339.4 L771.5 1338.0 L772.9 1336.5 L774.3 1335.1 L775.7 1333.7 L777.1 1332.3 L778.5 1330.8 L779.9 1329.4 L781.3 1328.0 L782.8 1326.6 L784.2 1325.2 L785.6 1323.8 L787.1 1322.4 L788.5 1321.0 L789.9 1319.7 L791.4 1318.3 L792.8 1316.9 L794.3 1315.6 L795.8 1314.2 L797.2 1312.8 L798.7 1311.5 L800.2 1310.2 L801.7 1308.8 L803.2 1307.5 L804.6 1306.2 L806.1 1304.8 L807.6 1303.5 L809.2 1302.2 L810.7 1300.9 L812.2 1299.6 L813.7 1298.3 L815.2 1297.0 L816.7 1295.7 L818.3 1294.4 L819.8 1293.1 L821.3 1291.8 L822.8 1290.5 L824.4 1289.2 L825.9 1287.9 L827.4 1286.6 L828.9 1285.3 L830.5 1284.0 L832.0 1282.6 L833.5 1281.3 L835.0 1280.0 L836.5 1278.7 L838.0 1277.4 L839.5 1276.1 L841.0 1274.8 L842.5 1273.4 L844.0 1272.1 L845.5 1270.8 L847.0 1269.4 L848.5 1268.1 L849.9 1266.7 L851.4 1265.4 L852.8 1264.0 L854.3 1262.6 L855.8 1261.2 L857.2 1259.9 L858.6 1258.5 L860.1 1257.1 L861.5 1255.7 L862.9 1254.3 L864.3 1252.9 L865.8 1251.5 L867.2 1250.0 L868.6 1248.6 L870.0 1247.2 L871.4 1245.8 L872.8 1244.3 L874.2 1242.9 L875.5 1241.4 L876.9 1240.0 L878.3 1238.5 L879.6 1237.0 L881.0 1235.6 L882.4 1234.1 L883.7 1232.6 L885.0 1231.1 L886.4 1229.6 L887.7 1228.1 L889.0 1226.6 L890.3 1225.1 L891.6 1223.6 L892.9 1222.1 L894.2 1220.6 L895.5 1219.0 L896.7 1217.5 L898.0 1215.9 L899.2 1214.4 L900.5 1212.8 L901.7 1211.2 L902.9 1209.7 L904.2 1208.1 L905.4 1206.5 L906.6 1204.9 L907.8 1203.3 L909.0 1201.7 L910.2 1200.1 L911.4 1198.5 L912.6 1196.9 L913.8 1195.3 L914.9 1193.7 L916.1 1192.1 L917.3 1190.4 L918.5 1188.8 L919.6 1187.2 L920.8 1185.6 L922.0 1183.9 L923.2 1182.3 L924.3 1180.7 L925.5 1179.1 L926.7 1177.5 L927.8 1175.8 L929.0 1174.2 L930.2 1172.6 L931.3 1170.9 L932.5 1169.3 L933.6 1167.7 L934.8 1166.1 L936.0 1164.4 L937.1 1162.8 L938.3 1161.2 L939.4 1159.5 L940.6 1157.9 L941.8 1156.3 L942.9 1154.6 L944.1 1153.0 L945.2 1151.4 L946.4 1149.7 L947.5 1148.1 L948.7 1146.5 L949.9 1144.9 L951.0 1143.2 L952.2 1141.6 L953.4 1140.0 L954.5 1138.4 L955.7 1136.8 L956.9 1135.1 L958.1 1133.5 L959.3 1131.9 L960.4 1130.3 L961.6 1128.7 L962.8 1127.1 L964.0 1125.5 L965.2 1123.8 L966.4 1122.2 L967.6 1120.6 L968.7 1119.0 L969.9 1117.4 L971.1 1115.8 L972.3 1114.2 L973.5 1112.6 L974.7 1111.0 L975.9 1109.4 L977.1 1107.8 L978.3 1106.2 L979.5 1104.6 L980.7 1103.0 L981.9 1101.4 L983.1 1099.8 L984.3 1098.2 L985.5 1096.6 L986.7 1095.0 L987.9 1093.4 L989.2 1091.8 L990.4 1090.2 L991.6 1088.6 L992.8 1087.1 L994.0 1085.5 L995.2 1083.9 L996.4 1082.3 L997.6 1080.7 L998.9 1079.1 L1000.1 1077.5 L1001.3 1075.9 L1002.5 1074.4 L1003.8 1072.8 L1005.0 1071.2 L1006.2 1069.6 L1007.5 1068.1 L1008.7 1066.5 L1010.0 1064.9 L1011.2 1063.4 L1012.5 1061.8 L1013.7 1060.3 L1015.0 1058.7 L1016.2 1057.1 L1017.5 1055.6 L1018.7 1054.0 L1020.0 1052.5 L1021.2 1050.9 L1022.5 1049.4 L1023.8 1047.8 L1025.0 1046.3 L1026.3 1044.7 L1027.6 1043.2 L1028.9 1041.6 L1030.1 1040.1 L1031.4 1038.6 L1032.7 1037.0 L1034.0 1035.5 L1035.2 1033.9 L1036.5 1032.4 L1037.8 1030.9 L1039.1 1029.3 L1040.3 1027.8 L1041.6 1026.2 L1042.9 1024.7 L1044.2 1023.2 L1045.4 1021.6 L1046.7 1020.1 L1048.0 1018.5 L1049.3 1017.0 L1050.5 1015.4 L1051.8 1013.9 L1053.1 1012.4 L1054.4 1010.8 L1055.6 1009.3 L1056.9 1007.7 L1058.2 1006.2 L1059.4 1004.6 L1060.7 1003.1 L1062.0 1001.6 L1063.3 1000.0 L1064.5 998.5 L1065.8 996.9 L1067.1 995.4 L1068.4 993.9 L1069.6 992.3 L1070.9 990.8 L1072.2 989.2 L1073.5 987.7 L1074.8 986.2 L1076.1 984.7 L1077.4 983.1 L1078.6 981.6 L1079.9 980.1 L1081.2 978.5 L1082.5 977.0 L1083.8 975.5 L1085.1 974.0 L1086.4 972.5 L1087.7 970.9 L1089.0 969.4 L1090.3 967.9 L1091.7 966.4 L1093.0 964.9 L1094.3 963.4 L1095.6 961.9 L1096.9 960.4 L1098.2 958.9 L1099.5 957.4 L1100.9 955.9 L1102.2 954.4 L1103.5 952.9 L1104.8 951.4 L1106.2 949.9 L1107.5 948.4 L1108.8 946.9 L1110.2 945.4 L1111.5 943.9 L1112.9 942.4 L1114.2 941.0 L1115.5 939.5 L1116.9 938.0 L1118.2 936.5 L1119.6 935.1 L1121.0 933.6 L1122.3 932.1 L1123.7 930.7 L1125.0 929.2 L1126.4 927.7 L1127.8 926.3 L1129.2 924.8 L1130.5 923.4 L1131.9 921.9 L1133.3 920.5 L1134.7 919.0 L1136.0 917.6 L1137.4 916.1 L1138.8 914.7 L1140.2 913.2 L1141.6 911.8 L1143.0 910.4 L1144.4 908.9 L1145.8 907.5 L1147.1 906.1 L1148.5 904.6 L1149.9 903.2 L1151.3 901.8 L1152.7 900.3 L1154.1 898.9 L1155.5 897.5 L1156.9 896.1 L1158.4 894.6 L1159.8 893.2 L1161.2 891.8 L1162.6 890.4 L1164.0 889.0 L1165.4 887.6 L1166.8 886.1 L1168.2 884.7 L1169.7 883.3 L1171.1 881.9 L1172.5 880.5 L1173.9 879.1 L1175.4 877.7 L1176.8 876.3 L1178.2 874.9 L1179.6 873.5 L1181.1 872.1 L1182.5 870.7 L1183.9 869.3 L1185.4 867.9 L1186.8 866.5 L1188.3 865.1 L1189.7 863.8 L1191.1 862.4 L1192.6 861.0 L1194.0 859.6 L1195.5 858.2 L1196.9 856.8 L1198.4 855.5 L1199.8 854.1 L1201.3 852.7 L1202.7 851.3 L1204.2 849.9 L1205.6 848.6 L1207.1 847.2 L1208.5 845.8 L1210.0 844.5 L1211.5 843.1 L1212.9 841.8 L1214.4 840.4 L1215.9 839.1 L1217.4 837.7 L1218.8 836.3 L1220.3 835.0 L1221.8 833.6 L1223.2 832.3 L1224.7 830.9 L1226.2 829.6 L1227.6 828.2 L1229.1 826.9 L1230.6 825.5 L1232.1 824.1 L1233.5 822.8 L1235.0 821.4 L1236.5 820.1 L1237.9 818.7 L1239.4 817.3 L1240.8 816.0 L1242.3 814.6 L1243.8 813.2 L1245.2 811.8 L1246.7 810.4 L1248.1 809.1 L1249.6 807.7 L1251.0 806.3 L1252.5 804.9 L1253.9 803.6 L1255.4 802.2 L1256.9 800.8 L1258.3 799.5 L1259.8 798.1 L1261.3 796.8 L1262.7 795.4 L1264.2 794.1 L1265.7 792.7 L1267.2 791.4 L1268.7 790.1 L1270.2 788.8 L1271.7 787.4 L1273.2 786.1 L1274.7 784.8 L1276.2 783.5 L1277.8 782.3 L1279.3 781.0 L1280.8 779.7 L1282.4 778.4 L1283.9 777.2 L1285.5 775.9 L1287.1 774.7 L1288.6 773.4 L1290.2 772.2 L1291.8 771.0 L1293.3 769.7 L1294.9 768.5 L1296.5 767.3 L1298.1 766.0 L1299.6 764.8 L1301.2 763.6 L1302.8 762.4 L1304.4 761.1 L1306.0 759.9 L1307.6 758.7 L1309.2 757.5 L1310.8 756.3 L1312.4 755.1 L1314.0 753.9 L1315.6 752.7 L1317.2 751.5 L1318.8 750.3 L1320.4 749.1 L1322.0 747.9 L1323.6 746.7 L1325.2 745.5 L1326.8 744.4 L1328.4 743.2 L1330.0 742.0 L1331.7 740.8 L1333.3 739.7 L1334.9 738.5 L1336.5 737.3 L1338.1 736.1 L1339.8 735.0 L1341.4 733.8 L1343.0 732.7 L1344.7 731.5 L1346.3 730.3 L1347.9 729.2 L1349.6 728.0 L1351.2 726.9 L1352.8 725.7 L1354.5 724.6 L1356.1 723.5 L1357.8 722.3 L1359.5 721.2 L1361.1 720.2 L1362.8 719.1 L1364.5 718.0 L1366.2 717.0 L1367.9 715.9 L1369.6 714.9 L1371.3 713.8 L1373.0 712.7 L1374.7 711.7 L1376.4 710.6 L1378.1 709.6 L1379.8 708.5 L1381.5 707.5 L1383.2 706.5 L1384.9 705.4 L1386.7 704.4 L1388.4 703.4 L1390.1 702.4 L1391.8 701.4 L1393.6 700.4 L1395.3 699.4 L1397.0 698.4 L1398.8 697.4 L1400.5 696.4 L1402.2 695.4 L1404.0 694.4 L1405.7 693.5 L1407.5 692.5 L1409.2 691.5 L1411.0 690.6 L1412.8 689.6 L1414.5 688.7 L1416.3 687.7 L1418.0 686.8 L1419.8 685.9 L1421.6 684.9 L1423.3 684.0 L1425.1 683.0 L1426.9 682.1 L1428.7 681.2 L1430.4 680.2 L1432.2 679.3 L1434.0 678.3 L1435.7 677.4 L1437.5 676.5 L1439.3 675.5 L1441.0 674.6 L1442.8 673.6 L1444.6 672.7 L1446.3 671.8 L1448.1 670.8 L1449.9 669.9 L1451.7 669.0 L1453.4 668.1 L1455.2 667.2 L1457.0 666.3 L1458.8 665.4 L1460.6 664.6 L1462.4 663.7 L1464.2 662.9 L1466.0 662.1 L1467.9 661.2 L1469.7 660.4 L1471.5 659.6 L1473.3 658.8 L1475.1 658.0 L1477.0 657.2 L1478.8 656.4 L1480.6 655.6 L1482.4 654.8 L1484.2 654.0 L1486.0 653.2 L1487.9 652.3 L1489.7 651.5 L1491.5 650.6 L1493.2 649.7 L1495.0 648.9 L1496.8 648.0 L1498.6 647.1 L1500.4 646.1 L1502.2 645.2 L1503.9 644.3 L1505.7 643.4 L1507.5 642.4 L1509.2 641.5 L1511.0 640.5 L1512.7 639.5 L1514.5 638.6 L1516.3 637.6 L1518.0 636.7 L1519.8 635.7 L1521.5 634.7 L1523.3 633.7 L1525.1 632.8 L1526.8 631.8 L1528.6 630.8 L1530.3 629.9 L1532.1 628.9 L1533.9 628.0 L1535.6 627.0 L1537.4 626.1 L1539.2 625.2 L1540.9 624.2 L1542.7 623.3 L1544.5 622.4 L1546.3 621.5 L1548.1 620.6 L1549.9 619.7 L1551.6 618.8 L1553.4 617.9 L1555.2 617.0 L1557.0 616.1 L1558.8 615.3 L1560.6 614.4 L1562.4 613.6 L1564.3 612.7 L1566.1 611.8 L1567.9 611.0 L1569.7 610.1 L1571.5 609.3 L1573.3 608.5 L1575.1 607.6 L1576.9 606.8 L1578.8 605.9 L1580.6 605.1 L1582.4 604.3 L1584.2 603.5 L1586.0 602.6 L1587.9 601.8 L1589.7 601.0 L1591.5 600.1 L1593.3 599.3 L1595.1 598.5 L1597.0 597.7 L1598.8 596.8 L1600.6 596.0 L1602.4 595.2 L1604.3 594.4 L1606.1 593.6 L1607.9 592.7 L1609.7 591.9 L1611.6 591.1 L1613.4 590.2 L1615.2 589.4 L1617.0 588.6 L1618.8 587.8 L1620.7 586.9 L1622.5 586.1 L1624.3 585.3 L1626.1 584.4 L1627.9 583.6 L1629.7 582.7 L1631.6 581.9 L1633.4 581.1 L1635.2 580.2 L1637.0 579.4 L1638.8 578.5 L1640.6 577.7 L1642.4 576.8 L1644.2 576.0 L1646.1 575.1 L1647.9 574.3 L1649.7 573.4 L1651.5 572.5 L1653.3 571.7 L1655.1 570.8 L1656.9 570.0 L1658.7 569.1 L1660.6 568.3 L1662.4 567.4 L1664.2 566.6 L1666.0 565.8 L1667.8 564.9 L1669.6 564.1 L1671.4 563.3 L1673.3 562.4 L1675.1 561.6 L1676.9 560.8 L1678.7 560.0 L1680.6 559.2 L1682.4 558.4 L1684.2 557.6 L1686.1 556.8 L1687.9 556.0 L1689.7 555.2 L1691.6 554.5 L1693.4 553.7 L1695.3 552.9 L1697.1 552.2 L1699.0 551.4 L1700.8 550.7 L1702.7 550.0 L1704.6 549.3 L1706.4 548.6 L1708.3 547.9 L1710.2 547.1 L1712.1 546.5 L1713.9 545.8 L1715.8 545.1 L1717.7 544.4 L1719.6 543.7 L1721.4 543.0 L1723.3 542.4 L1725.2 541.7 L1727.1 541.0 L1729.0 540.3 L1730.9 539.7 L1732.8 539.0 L1734.7 538.4 L1736.6 537.7 L1738.5 537.1 L1740.4 536.4 L1742.2 535.8 L1744.1 535.1 L1746.0 534.3 L1747.8 533.5 L1749.6 532.7 L1751.4 531.8 L1753.1 530.8 L1754.9 529.9 L1756.6 528.9 L1758.4 527.9 L1760.1 526.9 L1761.9 526.0 L1763.7 525.1 L1765.5 524.0 L1767.3 522.9 L1769.2 522.0 L1770.9 521.6 L1772.6 522.5 L1774.2 524.2 L1775.7 525.5 L1777.1 525.4 L1778.4 524.4 L1779.6 522.8 L1780.8 520.8 L1781.9 518.4 L1783.0 516.1 L1784.2 513.8 L1785.3 511.9 L1786.6 510.4 L1787.9 509.7 L1789.3 509.9 L1790.8 511.2 L1792.5 513.0 L1794.1 514.4 L1795.8 514.8 L1797.5 514.5 L1799.3 513.8 L1801.1 512.9 L1802.8 511.9 L1804.7 510.7 L1806.5 509.5 L1808.3 508.3 L1810.1 507.3 L1811.9 506.4 L1813.8 505.6 L1815.6 504.8 L1817.4 504.0 L1819.2 503.2 L1821.1 502.4 L1822.9 501.6 L1824.7 500.8 L1826.5 500.0 L1828.4 499.2 L1830.2 498.3 L1832.0 497.5 L1833.8 496.7 L1835.6 495.8 L1837.5 495.0 L1839.3 494.2 L1841.1 493.3 L1842.9 492.5 L1844.8 491.7 L1846.6 490.9 L1848.4 490.1 L1850.2 489.3 L1852.1 488.4 L1853.9 487.6 L1855.7 486.8 L1857.6 486.0 L1859.4 485.2 L1861.2 484.5 L1863.1 483.7 L1864.9 482.9 L1866.7 482.1 L1868.6 481.3 L1870.4 480.6 L1872.3 479.8 L1874.1 479.0 L1876.0 478.3 L1877.8 477.5 L1879.7 476.7 L1881.5 476.0 L1883.4 475.2 L1885.2 474.5 L1887.1 473.7 L1888.9 473.0 L1890.8 472.2 L1892.6 471.5 L1894.5 470.7 L1896.4 470.0 L1898.2 469.2 L1900.1 468.5 L1901.9 467.7 L1903.8 467.0 L1905.6 466.2 L1907.5 465.5 L1909.3 464.7 L1911.2 464.0 L1913.1 463.2 L1914.9 462.5 L1916.8 461.7 L1918.6 461.0 L1920.5 460.2 L1922.3 459.5 L1924.2 458.7 L1926.0 458.0 L1927.9 457.2 L1929.8 456.4 L1931.6 455.7 L1933.5 454.9 L1935.3 454.2 L1937.2 453.4 L1939.0 452.7 L1940.9 452.0 L1942.8 451.2 L1944.6 450.5 L1946.5 449.8 L1948.3 449.0 L1950.2 448.3 L1952.1 447.6 L1953.9 446.9 L1955.8 446.2 L1957.7 445.5 L1959.6 444.8 L1961.4 444.1 L1963.3 443.4 L1965.2 442.8 L1967.1 442.1 L1969.0 441.5 L1970.9 440.8 L1972.8 440.2 L1974.7 439.6 L1976.6 439.0 L1978.5 438.4 L1980.4 437.8 L1982.3 437.2 L1984.2 436.6 L1986.1 436.0 L1988.0 435.5 L1989.9 434.9 L1991.9 434.3 L1993.8 433.8 L1995.7 433.2 L1997.6 432.7 L1999.6 432.1 L2001.5 431.6 L2003.4 431.1 L2005.3 430.6 L2007.3 430.0 L2009.2 429.5 L2011.2 429.0 L2013.1 428.5 L2015.0 428.0 L2017.0 427.6 L2019.0 427.2 L2021.0 426.7 L2022.9 426.2 L2024.7 425.6 L2026.3 424.7 L2027.9 423.4 L2029.3 422.0 L2030.8 420.5 L2032.3 419.1 L2033.9 417.8 L2035.6 416.7 L2037.3 415.5 L2039.1 414.4 L2041.0 413.7 L2042.8 413.4 L2044.7 414.0 L2046.6 415.0 L2048.5 415.4 L2050.3 415.1 L2052.2 414.4 L2054.0 413.5 L2055.8 412.5 L2057.7 411.5 L2059.6 410.7 L2061.5 410.1 L2063.4 409.5 L2065.3 408.9 L2067.2 408.3 L2069.1 407.7 L2071.1 407.3 L2073.0 406.8 L2075.0 406.5 L2076.9 406.1 L2078.9 405.8 L2080.9 405.6 L2082.9 405.6 L2084.9 405.8 L2086.9 405.9 L2088.9 406.2 L2090.9 406.4 L2092.9 406.6 L2094.9 406.8 L2096.9 407.0 L2098.9 407.2 L2100.9 407.4 L2102.9 407.5 L2104.8 407.4 L2106.6 406.7 L2108.4 405.6 L2110.1 404.4 L2111.8 403.3 L2113.4 402.2 L2115.1 401.0 L2116.7 399.8 L2118.3 398.7 L2120.0 397.6 L2121.7 396.5 L2123.4 395.4 L2125.2 394.5 L2127.0 393.7 L2128.8 392.9 L2130.7 392.3 L2132.6 391.7 L2134.6 391.2 L2136.5 390.7 L2138.4 390.3 L2140.4 389.9 L2142.4 389.6 L2144.4 389.2 L2146.3 388.9 L2148.3 388.6 L2150.3 388.3 L2152.3 388.1 L2154.3 387.9 L2156.3 387.6 L2158.3 387.4 L2160.2 387.2 L2162.2 386.9 L2164.2 386.6 L2166.2 386.4 L2168.2 386.1 L2170.1 385.8 L2172.1 385.5 L2174.1 385.3 L2176.1 385.0 L2178.1 384.7 L2180.1 384.5 L2182.0 384.2 L2184.0 383.9 L2186.0 383.6 L2188.0 383.4 L2190.0 383.1 L2191.9 382.8 L2193.9 382.6 L2195.9 382.3 L2197.9 382.1 L2199.9 381.8 L2201.9 381.5 L2203.8 381.3 L2205.8 381.0 L2207.8 380.8 L2209.8 380.5 L2211.8 380.3 L2213.8 380.1 L2215.8 379.8 L2217.8 379.6 L2219.7 379.3 L2221.7 379.1 L2223.7 378.9 L2225.7 378.6 L2227.7 378.4 L2229.7 378.1 L2231.7 377.9 L2233.6 377.6 L2235.6 377.4 L2237.6 377.1 L2239.6 376.8 L2241.6 376.6 L2243.5 376.3 L2245.5 376.0 L2247.5 375.7 L2249.5 375.4 L2251.4 375.1 L2253.4 374.8 L2255.4 374.4 L2257.4 374.1 L2259.3 373.7 L2261.3 373.4 L2263.3 373.0 L2265.2 372.7 L2267.2 372.3 L2269.1 371.9 L2271.1 371.6 L2273.1 371.2 L2275.0 370.8 L2277.0 370.5 L2279.0 370.1 L2280.9 369.7 L2282.9 369.4 L2284.8 369.0 L2286.7 368.7 L2288.7 368.4 L2290.6 368.0 L2292.5 367.7 L2294.5 367.4 L2296.4 367.0 L2298.4 366.7 L2300.4 366.4 L2302.4 366.1 L2304.5 365.8 L2306.5 365.5 L2308.5 365.2 L2310.5 365.0 L2312.5 364.7 L2314.5 364.5 L2315.0 364.4"/>
</g>
<g fill="#000" shape-rendering="crispEdges">
<rect x="395" y="72" width="12" height="1577"/>
<rect x="370" y="1614" width="1950" height="11"/>
<rect x="370" y="72" width="26" height="11"/>
<rect x="370" y="458" width="26" height="11"/>
<rect x="370" y="843" width="26" height="11"/>
<rect x="370" y="1228" width="26" height="11"/>
<rect x="386" y="265" width="10" height="11"/>
<rect x="386" y="650" width="10" height="11"/>
<rect x="386" y="1036" width="10" height="11"/>
<rect x="386" y="1421" width="10" height="11"/>
<rect x="873" y="1620" width="12" height="29"/>
<rect x="1352" y="1620" width="11" height="29"/>
<rect x="1831" y="1620" width="11" height="29"/>
<rect x="2309" y="1620" width="11" height="29"/>
<rect x="635" y="1620" width="11" height="13"/>
<rect x="1113" y="1620" width="11" height="13"/>
<rect x="1591" y="1620" width="11" height="13"/>
<rect x="2070" y="1620" width="11" height="13"/>
</g>
<g font-family="'Liberation Sans', Arial, sans-serif" font-weight="bold" font-size="95px" fill="#000">
<text transform="translate(348.3 105.7) scale(1 1.03)" text-anchor="end">100</text>
<text transform="translate(348.3 491.2) scale(1 1.03)" text-anchor="end">75</text>
<text transform="translate(348.3 876.7) scale(1 1.03)" text-anchor="end">50</text>
<text transform="translate(348.3 1262.2) scale(1 1.03)" text-anchor="end">25</text>
<text transform="translate(348.3 1647.7) scale(1 1.03)" text-anchor="end">0</text>
<text transform="translate(400.7 1744.0) scale(1 1.03)" text-anchor="middle">200</text>
<text transform="translate(879.1 1744.0) scale(1 1.03)" text-anchor="middle">400</text>
<text transform="translate(1357.5 1744.0) scale(1 1.03)" text-anchor="middle">600</text>
<text transform="translate(1835.8 1744.0) scale(1 1.03)" text-anchor="middle">800</text>
<text transform="translate(2314.2 1744.0) scale(1 1.03)" text-anchor="middle">1000</text>
<text transform="translate(1357.5 1901.0) scale(1 1.01)" text-anchor="middle">Wavelength (nm)</text>
<text transform="translate(99.3 807.5) rotate(-90) scale(1 1.01)" text-anchor="middle">Transmission (%)</text>
</g>
<g stroke-width="11" stroke-linecap="round" fill="none" shape-rendering="crispEdges">
<line x1="1931" y1="893.3" x2="2110.6" y2="893.3" stroke="#0000c0"/>
<line x1="1931" y1="991.8" x2="2110.6" y2="991.8" stroke="#00c000"/>
<line x1="1931" y1="1090.3" x2="2110.6" y2="1090.3" stroke="#ffc400"/>
<line x1="1931" y1="1188.8" x2="2110.6" y2="1188.8" stroke="#ff0000"/>
</g>
<g font-family="'Liberation Sans', Arial, sans-serif" font-size="81px" fill="#000">
<text transform="translate(2131.5 919.5) scale(1 1.02)" text-anchor="start">10k</text>
<text transform="translate(2131.5 1018.0) scale(1 1.02)" text-anchor="start">20k</text>
<text transform="translate(2131.5 1116.5) scale(1 1.02)" text-anchor="start">30k</text>
<text transform="translate(2131.5 1215.0) scale(1 1.02)" text-anchor="start">40k</text>
</g>
</svg>
</body></html>
